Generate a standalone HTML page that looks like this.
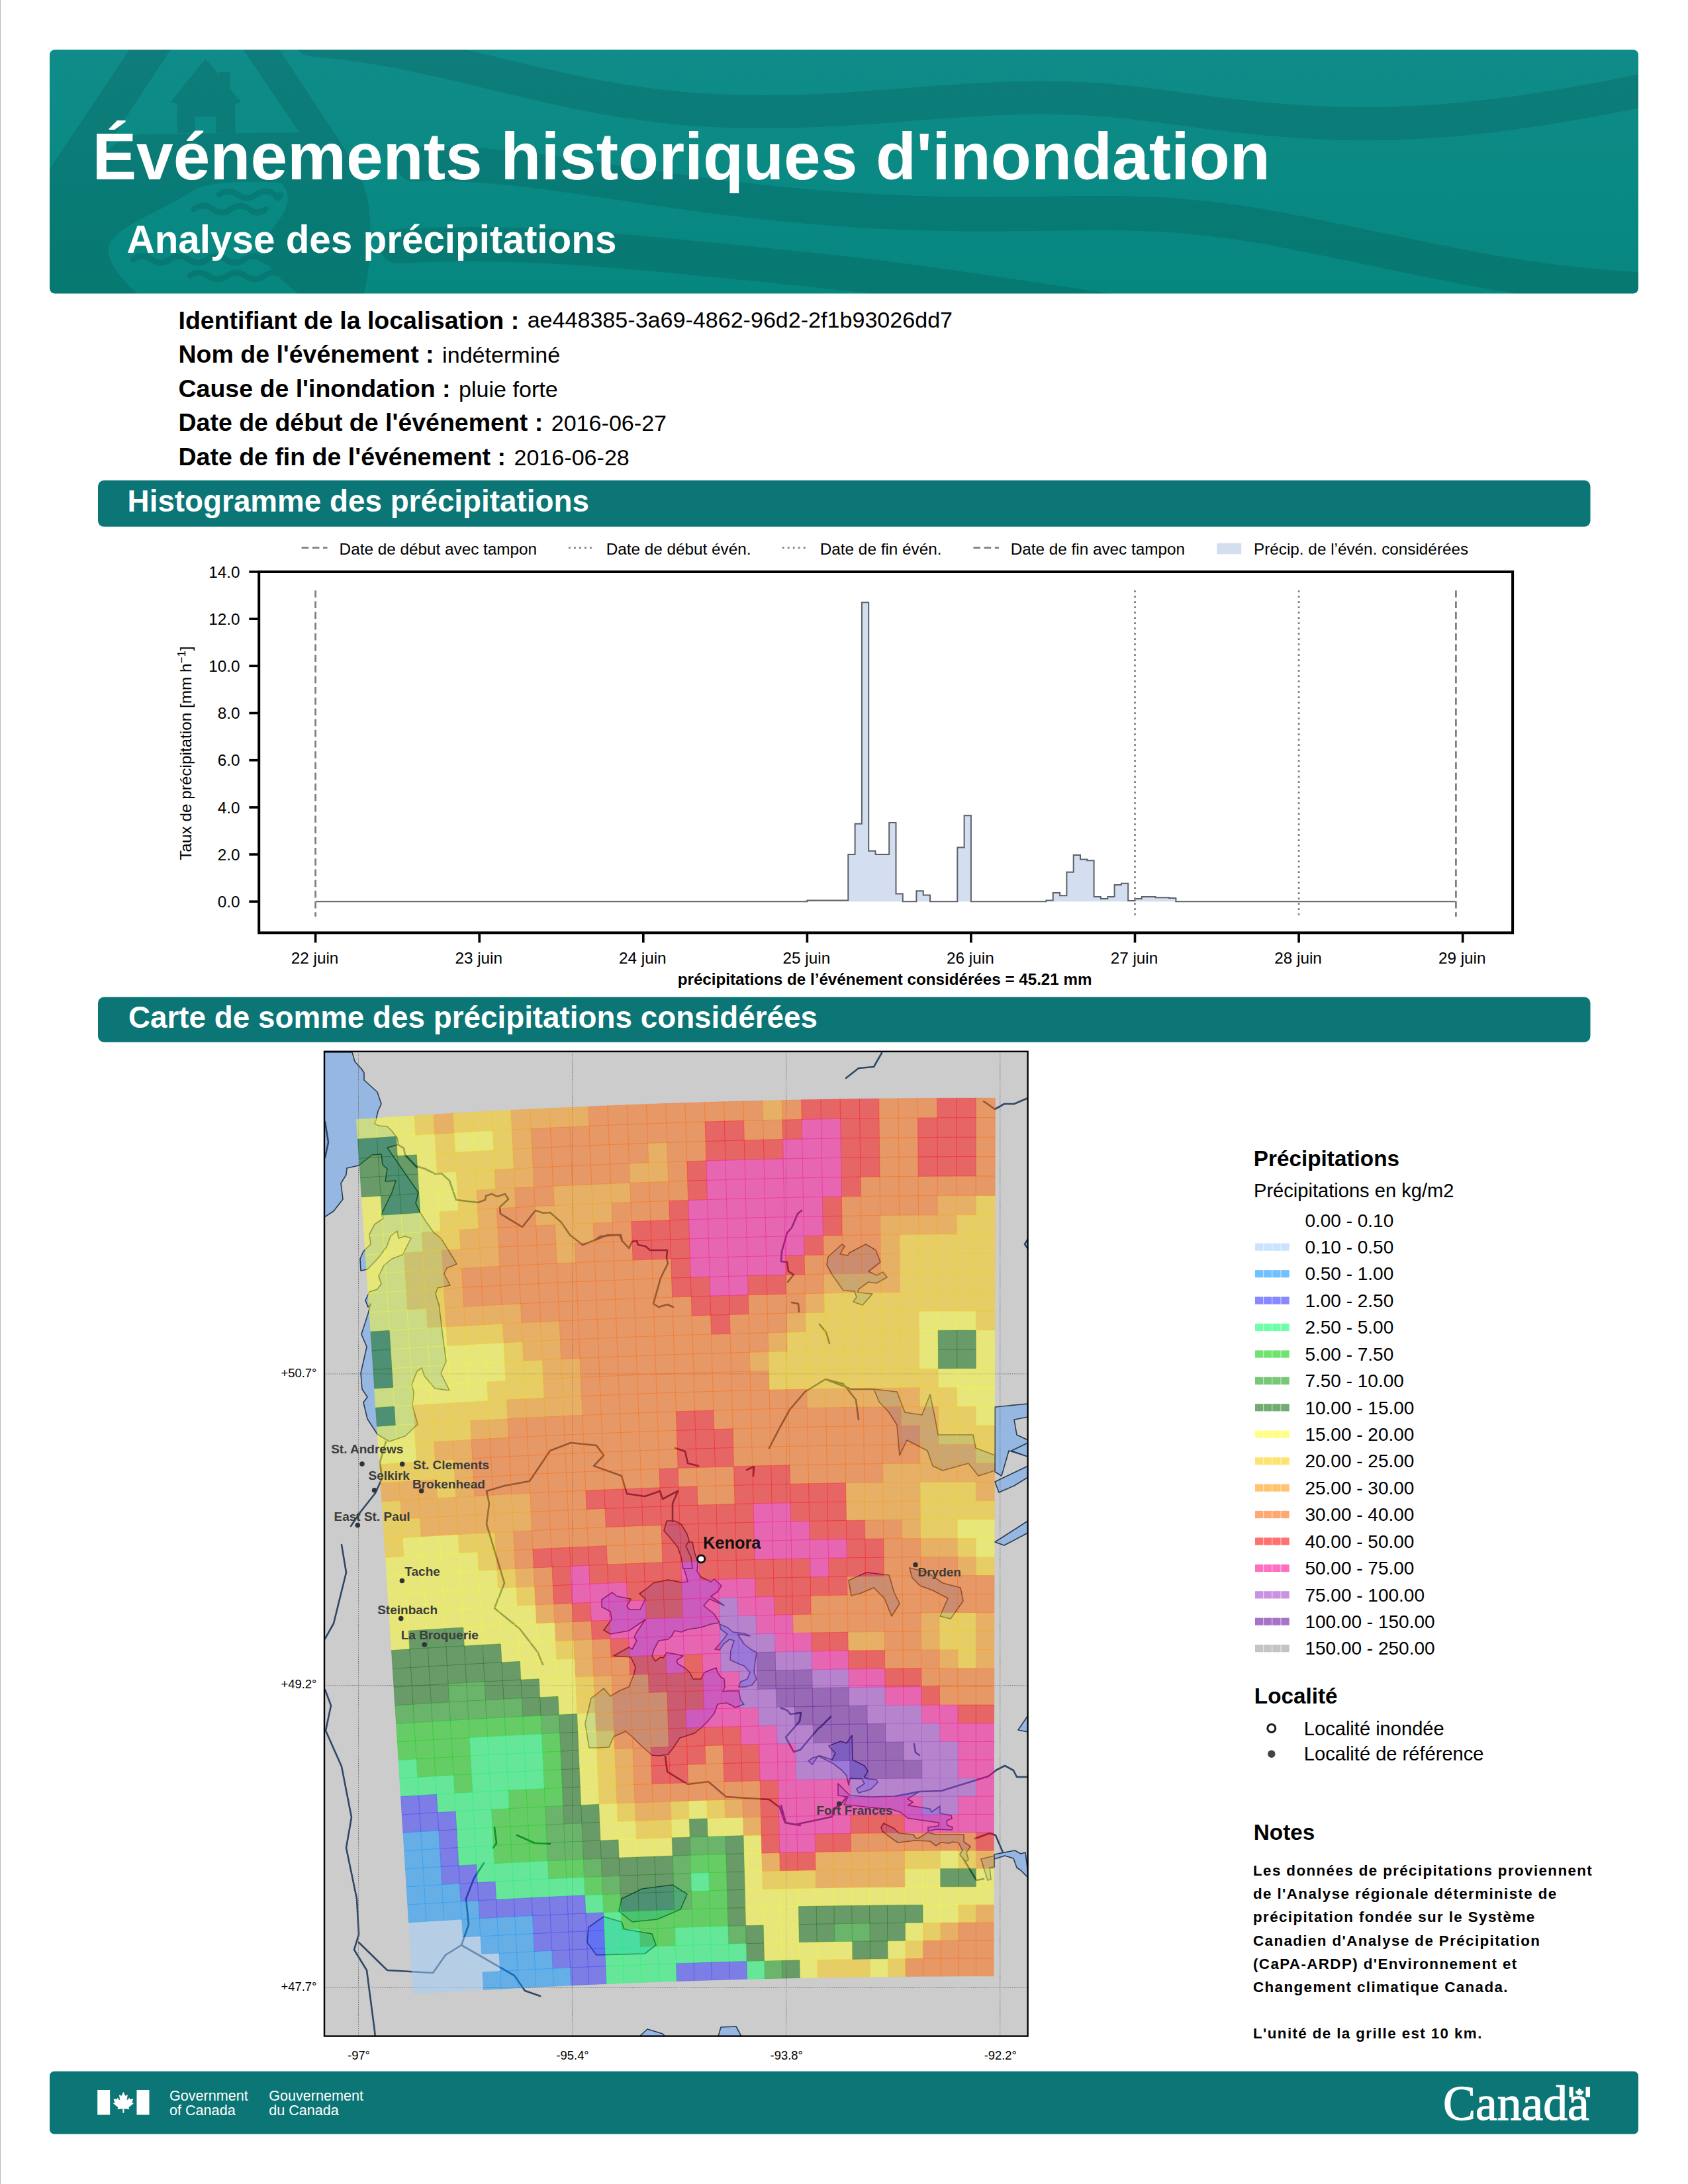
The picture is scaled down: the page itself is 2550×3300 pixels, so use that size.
<!DOCTYPE html>
<html lang="fr"><head><meta charset="utf-8"><title>Événements historiques d'inondation</title>
<style>
html,body{margin:0;padding:0;background:#fff}
body{width:2550px;height:3300px;overflow:hidden;position:relative}
svg{position:absolute;left:0;top:0;font-family:"Liberation Sans", sans-serif;fill:#000}
svg text{white-space:pre}
.notes{letter-spacing:1.38px}
</style></head><body>
<svg width="2550" height="3300" viewBox="0 0 2550 3300">
<rect x="0" y="0" width="2550" height="3300" fill="#fff"/>
<rect x="0" y="0" width="1.1" height="3300" fill="#bdbdbd"/>
<defs>
<linearGradient id="bg" x1="0" y1="0" x2="0" y2="1"><stop offset="0" stop-color="#108c8a"/><stop offset="1" stop-color="#07887f"/></linearGradient>
<clipPath id="bclip"><rect x="75" y="75" width="2400" height="368.5" rx="8"/></clipPath>
</defs>
<rect x="75" y="75" width="2400" height="368.5" rx="8" fill="url(#bg)"/>
<g clip-path="url(#bclip)"><g opacity="0.105" fill="#000" stroke="none">
<path fill-rule="evenodd" d="M199,70 L72,259.6 L72,450 L548,450 C562,400 562,340 556,305 C550,270 530,238 505.4,201.5 L419,70 Z M261,70 L140,254 Q165,212 211,203 L452,200 L364,70 Z M297,285 C330,272 390,274 424,276 C440,290 436,310 425,327 C410,350 392,365 396,380 C400,400 425,425 458,450 L214,450 C180,420 162,395 164,375 C168,350 215,330 246,314 C270,302 285,292 297,285 Z"/>
<path fill-rule="evenodd" d="M310.5,88.6 L331,113 L331,109 L347.6,109 L347.6,134 L364,154 L355.4,157 L355.4,201 L267.5,201 L267.5,157 L257.7,154 Z M294.8,176.5 L326.1,176.5 L326.1,201 L294.8,201 Z"/>
<path d="M331,294 Q345.0,284.0 359.0,294 Q373.0,304.0 387.0,294 Q401.0,284.0 415.0,294 Q419.5,304.0 424.0,294" fill="none" stroke="#000" stroke-width="9" stroke-linecap="round"/>
<path d="M293,316 Q307.0,306.0 321.0,316 Q335.0,326.0 349.0,316 Q363.0,306.0 377.0,316 Q389.0,326.0 401.0,316" fill="none" stroke="#000" stroke-width="9" stroke-linecap="round"/>
<path d="M201,392 Q215.0,382.0 229.0,392 Q243.0,402.0 257.0,392 Q271.0,382.0 285.0,392 Q299.0,402.0 313.0,392 Q327.0,382.0 341.0,392 Q355.0,402.0 369.0,392 Q383.0,382.0 397.0,392 Q411.0,402.0 425.0,392 Q439.0,382.0 453.0,392 Q454.0,402.0 455.0,392" fill="none" stroke="#000" stroke-width="9" stroke-linecap="round"/>
<path d="M287,417 Q301.0,407.0 315.0,417 Q329.0,427.0 343.0,417 Q357.0,407.0 371.0,417 Q385.0,427.0 399.0,417 Q413.0,407.0 427.0,417 Q441.0,427.0 455.0,417 Q460.5,407.0 466.0,417" fill="none" stroke="#000" stroke-width="9" stroke-linecap="round"/>
<path d="M470,60 C700,80 850,160 1100,168 S1500,125 1750,160 S2150,205 2490,135" fill="none" stroke="#000" stroke-width="50" stroke-linecap="round"/>
<path d="M625,248 C800,240 1000,300 1300,318 S1700,300 1950,350 S2300,430 2520,440" fill="none" stroke="#000" stroke-width="52" stroke-linecap="round"/>
<path d="M600,372 C800,360 1000,385 1200,405 S1500,445 1750,480" fill="none" stroke="#000" stroke-width="52" stroke-linecap="round"/>
</g></g>
<text x="139.4" y="270.6" font-size="100" font-weight="bold" fill="#fff">Événements historiques d'inondation</text>
<text x="191.5" y="381.7" font-size="58.4" font-weight="bold" fill="#fff">Analyse des précipitations</text>
<text x="269.5" y="496.5" font-size="37.5" font-weight="bold">Identifiant de la localisation :<tspan dx="12.5" dy="-2" font-size="34.1" font-weight="normal">ae448385-3a69-4862-96d2-2f1b93026dd7</tspan></text>
<text x="269.5" y="548.1" font-size="37.5" font-weight="bold">Nom de l'événement :<tspan dx="12.5" dy="0" font-size="34.1" font-weight="normal">indéterminé</tspan></text>
<text x="269.5" y="599.7" font-size="37.5" font-weight="bold">Cause de l'inondation :<tspan dx="12.5" dy="0" font-size="34.1" font-weight="normal">pluie forte</tspan></text>
<text x="269.5" y="651.3" font-size="37.5" font-weight="bold">Date de début de l'événement :<tspan dx="12.5" dy="0" font-size="34.1" font-weight="normal">2016-06-27</tspan></text>
<text x="269.5" y="702.9" font-size="37.5" font-weight="bold">Date de fin de l'événement :<tspan dx="12.5" dy="0" font-size="34.1" font-weight="normal">2016-06-28</tspan></text>
<rect x="148" y="725.8" width="2254.5" height="70" rx="9" fill="#0c7575"/>
<text x="192.6" y="773" font-size="45.8" font-weight="bold" fill="#fff">Histogramme des précipitations</text>
<rect x="148" y="1506.5" width="2254.5" height="68.2" rx="9" fill="#0c7575"/>
<text x="194" y="1553" font-size="45.8" font-weight="bold" fill="#fff">Carte de somme des précipitations considérées</text>
<path d="M476.6,1362.2 L486.9,1362.2 L486.9,1362.2 L497.2,1362.2 L497.2,1362.2 L507.5,1362.2 L507.5,1362.2 L517.9,1362.2 L517.9,1362.2 L528.2,1362.2 L528.2,1362.2 L538.5,1362.2 L538.5,1362.2 L548.8,1362.2 L548.8,1362.2 L559.1,1362.2 L559.1,1362.2 L569.4,1362.2 L569.4,1362.2 L579.8,1362.2 L579.8,1362.2 L590.1,1362.2 L590.1,1362.2 L600.4,1362.2 L600.4,1362.2 L610.7,1362.2 L610.7,1362.2 L621.0,1362.2 L621.0,1362.2 L631.3,1362.2 L631.3,1362.2 L641.7,1362.2 L641.7,1362.2 L652.0,1362.2 L652.0,1362.2 L662.3,1362.2 L662.3,1362.2 L672.6,1362.2 L672.6,1362.2 L682.9,1362.2 L682.9,1362.2 L693.2,1362.2 L693.2,1362.2 L703.6,1362.2 L703.6,1362.2 L713.9,1362.2 L713.9,1362.2 L724.2,1362.2 L724.2,1362.2 L734.5,1362.2 L734.5,1362.2 L744.8,1362.2 L744.8,1362.2 L755.1,1362.2 L755.1,1362.2 L765.5,1362.2 L765.5,1362.2 L775.8,1362.2 L775.8,1362.2 L786.1,1362.2 L786.1,1362.2 L796.4,1362.2 L796.4,1362.2 L806.7,1362.2 L806.7,1362.2 L817.0,1362.2 L817.0,1362.2 L827.3,1362.2 L827.3,1362.2 L837.7,1362.2 L837.7,1362.2 L848.0,1362.2 L848.0,1362.2 L858.3,1362.2 L858.3,1362.2 L868.6,1362.2 L868.6,1362.2 L878.9,1362.2 L878.9,1362.2 L889.2,1362.2 L889.2,1362.2 L899.6,1362.2 L899.6,1362.2 L909.9,1362.2 L909.9,1362.2 L920.2,1362.2 L920.2,1362.2 L930.5,1362.2 L930.5,1362.2 L940.8,1362.2 L940.8,1362.2 L951.1,1362.2 L951.1,1362.2 L961.5,1362.2 L961.5,1362.2 L971.8,1362.2 L971.8,1362.2 L982.1,1362.2 L982.1,1362.2 L992.4,1362.2 L992.4,1362.2 L1002.7,1362.2 L1002.7,1362.2 L1013.0,1362.2 L1013.0,1362.2 L1023.4,1362.2 L1023.4,1362.2 L1033.7,1362.2 L1033.7,1362.2 L1044.0,1362.2 L1044.0,1362.2 L1054.3,1362.2 L1054.3,1362.2 L1064.6,1362.2 L1064.6,1362.2 L1074.9,1362.2 L1074.9,1362.2 L1085.2,1362.2 L1085.2,1362.2 L1095.6,1362.2 L1095.6,1362.2 L1105.9,1362.2 L1105.9,1362.2 L1116.2,1362.2 L1116.2,1362.2 L1126.5,1362.2 L1126.5,1362.2 L1136.8,1362.2 L1136.8,1362.2 L1147.1,1362.2 L1147.1,1362.2 L1157.5,1362.2 L1157.5,1362.2 L1167.8,1362.2 L1167.8,1362.2 L1178.1,1362.2 L1178.1,1362.2 L1188.4,1362.2 L1188.4,1362.2 L1198.7,1362.2 L1198.7,1362.2 L1209.0,1362.2 L1209.0,1362.2 L1219.4,1362.2 L1219.4,1360.4 L1229.7,1360.4 L1229.7,1360.4 L1240.0,1360.4 L1240.0,1360.4 L1250.3,1360.4 L1250.3,1360.4 L1260.6,1360.4 L1260.6,1360.4 L1270.9,1360.4 L1270.9,1360.4 L1281.3,1360.4 L1281.3,1291.0 L1291.6,1291.0 L1291.6,1244.8 L1301.9,1244.8 L1301.9,910.3 L1312.2,910.3 L1312.2,1285.7 L1322.5,1285.7 L1322.5,1291.0 L1332.8,1291.0 L1332.8,1291.0 L1343.2,1291.0 L1343.2,1243.0 L1353.5,1243.0 L1353.5,1350.5 L1363.8,1350.5 L1363.8,1362.2 L1374.1,1362.2 L1374.1,1362.2 L1384.4,1362.2 L1384.4,1346.2 L1394.7,1346.2 L1394.7,1352.6 L1405.0,1352.6 L1405.0,1362.2 L1415.4,1362.2 L1415.4,1362.2 L1425.7,1362.2 L1425.7,1362.2 L1436.0,1362.2 L1436.0,1362.2 L1446.3,1362.2 L1446.3,1280.4 L1456.6,1280.4 L1456.6,1232.3 L1466.9,1232.3 L1466.9,1362.2 L1477.3,1362.2 L1477.3,1362.2 L1487.6,1362.2 L1487.6,1362.2 L1497.9,1362.2 L1497.9,1362.2 L1508.2,1362.2 L1508.2,1362.2 L1518.5,1362.2 L1518.5,1362.2 L1528.8,1362.2 L1528.8,1362.2 L1539.2,1362.2 L1539.2,1362.2 L1549.5,1362.2 L1549.5,1362.2 L1559.8,1362.2 L1559.8,1362.2 L1570.1,1362.2 L1570.1,1362.2 L1580.4,1362.2 L1580.4,1360.4 L1590.7,1360.4 L1590.7,1349.0 L1601.1,1349.0 L1601.1,1353.3 L1611.4,1353.3 L1611.4,1317.7 L1621.7,1317.7 L1621.7,1292.1 L1632.0,1292.1 L1632.0,1298.5 L1642.3,1298.5 L1642.3,1300.3 L1652.6,1300.3 L1652.6,1355.1 L1662.9,1355.1 L1662.9,1357.9 L1673.3,1357.9 L1673.3,1355.1 L1683.6,1355.1 L1683.6,1336.9 L1693.9,1336.9 L1693.9,1334.8 L1704.2,1334.8 L1704.2,1361.1 L1714.5,1361.1 L1714.5,1357.9 L1724.8,1357.9 L1724.8,1355.1 L1735.2,1355.1 L1735.2,1355.1 L1745.5,1355.1 L1745.5,1356.2 L1755.8,1356.2 L1755.8,1356.2 L1766.1,1356.2 L1766.1,1356.9 L1776.4,1356.9 L1776.4,1362.2 L1786.7,1362.2 L1786.7,1362.2 L1797.1,1362.2 L1797.1,1362.2 L1807.4,1362.2 L1807.4,1362.2 L1817.7,1362.2 L1817.7,1362.2 L1828.0,1362.2 L1828.0,1362.2 L1838.3,1362.2 L1838.3,1362.2 L1848.6,1362.2 L1848.6,1362.2 L1859.0,1362.2 L1859.0,1362.2 L1869.3,1362.2 L1869.3,1362.2 L1879.6,1362.2 L1879.6,1362.2 L1889.9,1362.2 L1889.9,1362.2 L1900.2,1362.2 L1900.2,1362.2 L1910.5,1362.2 L1910.5,1362.2 L1920.8,1362.2 L1920.8,1362.2 L1931.2,1362.2 L1931.2,1362.2 L1941.5,1362.2 L1941.5,1362.2 L1951.8,1362.2 L1951.8,1362.2 L1962.1,1362.2 L1962.1,1362.2 L1972.4,1362.2 L1972.4,1362.2 L1982.7,1362.2 L1982.7,1362.2 L1993.1,1362.2 L1993.1,1362.2 L2003.4,1362.2 L2003.4,1362.2 L2013.7,1362.2 L2013.7,1362.2 L2024.0,1362.2 L2024.0,1362.2 L2034.3,1362.2 L2034.3,1362.2 L2044.6,1362.2 L2044.6,1362.2 L2055.0,1362.2 L2055.0,1362.2 L2065.3,1362.2 L2065.3,1362.2 L2075.6,1362.2 L2075.6,1362.2 L2085.9,1362.2 L2085.9,1362.2 L2096.2,1362.2 L2096.2,1362.2 L2106.5,1362.2 L2106.5,1362.2 L2116.9,1362.2 L2116.9,1362.2 L2127.2,1362.2 L2127.2,1362.2 L2137.5,1362.2 L2137.5,1362.2 L2147.8,1362.2 L2147.8,1362.2 L2158.1,1362.2 L2158.1,1362.2 L2168.4,1362.2 L2168.4,1362.2 L2178.8,1362.2 L2178.8,1362.2 L2189.1,1362.2 L2189.1,1362.2 L2199.4,1362.2 L2199.4,1362.2 L476.6,1362.2 Z" fill="#d3dff1" stroke="none"/>
<path d="M476.6,1362.2 L486.9,1362.2 L486.9,1362.2 L497.2,1362.2 L497.2,1362.2 L507.5,1362.2 L507.5,1362.2 L517.9,1362.2 L517.9,1362.2 L528.2,1362.2 L528.2,1362.2 L538.5,1362.2 L538.5,1362.2 L548.8,1362.2 L548.8,1362.2 L559.1,1362.2 L559.1,1362.2 L569.4,1362.2 L569.4,1362.2 L579.8,1362.2 L579.8,1362.2 L590.1,1362.2 L590.1,1362.2 L600.4,1362.2 L600.4,1362.2 L610.7,1362.2 L610.7,1362.2 L621.0,1362.2 L621.0,1362.2 L631.3,1362.2 L631.3,1362.2 L641.7,1362.2 L641.7,1362.2 L652.0,1362.2 L652.0,1362.2 L662.3,1362.2 L662.3,1362.2 L672.6,1362.2 L672.6,1362.2 L682.9,1362.2 L682.9,1362.2 L693.2,1362.2 L693.2,1362.2 L703.6,1362.2 L703.6,1362.2 L713.9,1362.2 L713.9,1362.2 L724.2,1362.2 L724.2,1362.2 L734.5,1362.2 L734.5,1362.2 L744.8,1362.2 L744.8,1362.2 L755.1,1362.2 L755.1,1362.2 L765.5,1362.2 L765.5,1362.2 L775.8,1362.2 L775.8,1362.2 L786.1,1362.2 L786.1,1362.2 L796.4,1362.2 L796.4,1362.2 L806.7,1362.2 L806.7,1362.2 L817.0,1362.2 L817.0,1362.2 L827.3,1362.2 L827.3,1362.2 L837.7,1362.2 L837.7,1362.2 L848.0,1362.2 L848.0,1362.2 L858.3,1362.2 L858.3,1362.2 L868.6,1362.2 L868.6,1362.2 L878.9,1362.2 L878.9,1362.2 L889.2,1362.2 L889.2,1362.2 L899.6,1362.2 L899.6,1362.2 L909.9,1362.2 L909.9,1362.2 L920.2,1362.2 L920.2,1362.2 L930.5,1362.2 L930.5,1362.2 L940.8,1362.2 L940.8,1362.2 L951.1,1362.2 L951.1,1362.2 L961.5,1362.2 L961.5,1362.2 L971.8,1362.2 L971.8,1362.2 L982.1,1362.2 L982.1,1362.2 L992.4,1362.2 L992.4,1362.2 L1002.7,1362.2 L1002.7,1362.2 L1013.0,1362.2 L1013.0,1362.2 L1023.4,1362.2 L1023.4,1362.2 L1033.7,1362.2 L1033.7,1362.2 L1044.0,1362.2 L1044.0,1362.2 L1054.3,1362.2 L1054.3,1362.2 L1064.6,1362.2 L1064.6,1362.2 L1074.9,1362.2 L1074.9,1362.2 L1085.2,1362.2 L1085.2,1362.2 L1095.6,1362.2 L1095.6,1362.2 L1105.9,1362.2 L1105.9,1362.2 L1116.2,1362.2 L1116.2,1362.2 L1126.5,1362.2 L1126.5,1362.2 L1136.8,1362.2 L1136.8,1362.2 L1147.1,1362.2 L1147.1,1362.2 L1157.5,1362.2 L1157.5,1362.2 L1167.8,1362.2 L1167.8,1362.2 L1178.1,1362.2 L1178.1,1362.2 L1188.4,1362.2 L1188.4,1362.2 L1198.7,1362.2 L1198.7,1362.2 L1209.0,1362.2 L1209.0,1362.2 L1219.4,1362.2 L1219.4,1360.4 L1229.7,1360.4 L1229.7,1360.4 L1240.0,1360.4 L1240.0,1360.4 L1250.3,1360.4 L1250.3,1360.4 L1260.6,1360.4 L1260.6,1360.4 L1270.9,1360.4 L1270.9,1360.4 L1281.3,1360.4 L1281.3,1291.0 L1291.6,1291.0 L1291.6,1244.8 L1301.9,1244.8 L1301.9,910.3 L1312.2,910.3 L1312.2,1285.7 L1322.5,1285.7 L1322.5,1291.0 L1332.8,1291.0 L1332.8,1291.0 L1343.2,1291.0 L1343.2,1243.0 L1353.5,1243.0 L1353.5,1350.5 L1363.8,1350.5 L1363.8,1362.2 L1374.1,1362.2 L1374.1,1362.2 L1384.4,1362.2 L1384.4,1346.2 L1394.7,1346.2 L1394.7,1352.6 L1405.0,1352.6 L1405.0,1362.2 L1415.4,1362.2 L1415.4,1362.2 L1425.7,1362.2 L1425.7,1362.2 L1436.0,1362.2 L1436.0,1362.2 L1446.3,1362.2 L1446.3,1280.4 L1456.6,1280.4 L1456.6,1232.3 L1466.9,1232.3 L1466.9,1362.2 L1477.3,1362.2 L1477.3,1362.2 L1487.6,1362.2 L1487.6,1362.2 L1497.9,1362.2 L1497.9,1362.2 L1508.2,1362.2 L1508.2,1362.2 L1518.5,1362.2 L1518.5,1362.2 L1528.8,1362.2 L1528.8,1362.2 L1539.2,1362.2 L1539.2,1362.2 L1549.5,1362.2 L1549.5,1362.2 L1559.8,1362.2 L1559.8,1362.2 L1570.1,1362.2 L1570.1,1362.2 L1580.4,1362.2 L1580.4,1360.4 L1590.7,1360.4 L1590.7,1349.0 L1601.1,1349.0 L1601.1,1353.3 L1611.4,1353.3 L1611.4,1317.7 L1621.7,1317.7 L1621.7,1292.1 L1632.0,1292.1 L1632.0,1298.5 L1642.3,1298.5 L1642.3,1300.3 L1652.6,1300.3 L1652.6,1355.1 L1662.9,1355.1 L1662.9,1357.9 L1673.3,1357.9 L1673.3,1355.1 L1683.6,1355.1 L1683.6,1336.9 L1693.9,1336.9 L1693.9,1334.8 L1704.2,1334.8 L1704.2,1361.1 L1714.5,1361.1 L1714.5,1357.9 L1724.8,1357.9 L1724.8,1355.1 L1735.2,1355.1 L1735.2,1355.1 L1745.5,1355.1 L1745.5,1356.2 L1755.8,1356.2 L1755.8,1356.2 L1766.1,1356.2 L1766.1,1356.9 L1776.4,1356.9 L1776.4,1362.2 L1786.7,1362.2 L1786.7,1362.2 L1797.1,1362.2 L1797.1,1362.2 L1807.4,1362.2 L1807.4,1362.2 L1817.7,1362.2 L1817.7,1362.2 L1828.0,1362.2 L1828.0,1362.2 L1838.3,1362.2 L1838.3,1362.2 L1848.6,1362.2 L1848.6,1362.2 L1859.0,1362.2 L1859.0,1362.2 L1869.3,1362.2 L1869.3,1362.2 L1879.6,1362.2 L1879.6,1362.2 L1889.9,1362.2 L1889.9,1362.2 L1900.2,1362.2 L1900.2,1362.2 L1910.5,1362.2 L1910.5,1362.2 L1920.8,1362.2 L1920.8,1362.2 L1931.2,1362.2 L1931.2,1362.2 L1941.5,1362.2 L1941.5,1362.2 L1951.8,1362.2 L1951.8,1362.2 L1962.1,1362.2 L1962.1,1362.2 L1972.4,1362.2 L1972.4,1362.2 L1982.7,1362.2 L1982.7,1362.2 L1993.1,1362.2 L1993.1,1362.2 L2003.4,1362.2 L2003.4,1362.2 L2013.7,1362.2 L2013.7,1362.2 L2024.0,1362.2 L2024.0,1362.2 L2034.3,1362.2 L2034.3,1362.2 L2044.6,1362.2 L2044.6,1362.2 L2055.0,1362.2 L2055.0,1362.2 L2065.3,1362.2 L2065.3,1362.2 L2075.6,1362.2 L2075.6,1362.2 L2085.9,1362.2 L2085.9,1362.2 L2096.2,1362.2 L2096.2,1362.2 L2106.5,1362.2 L2106.5,1362.2 L2116.9,1362.2 L2116.9,1362.2 L2127.2,1362.2 L2127.2,1362.2 L2137.5,1362.2 L2137.5,1362.2 L2147.8,1362.2 L2147.8,1362.2 L2158.1,1362.2 L2158.1,1362.2 L2168.4,1362.2 L2168.4,1362.2 L2178.8,1362.2 L2178.8,1362.2 L2189.1,1362.2 L2189.1,1362.2 L2199.4,1362.2" fill="none" stroke="#5d6167" stroke-width="2" stroke-linejoin="miter"/>
<line x1="476.6" y1="892.2" x2="476.6" y2="1385.1" stroke="#808080" stroke-width="2.8" stroke-dasharray="10.6 5.6"/>
<line x1="1714.5" y1="892.2" x2="1714.5" y2="1385.1" stroke="#808080" stroke-width="2.8" stroke-dasharray="2.8 5.2"/>
<line x1="1962.1" y1="892.2" x2="1962.1" y2="1385.1" stroke="#808080" stroke-width="2.8" stroke-dasharray="2.8 5.2"/>
<line x1="2199.4" y1="892.2" x2="2199.4" y2="1385.1" stroke="#808080" stroke-width="2.8" stroke-dasharray="10.6 5.6"/>
<rect x="391.2" y="864" width="1893.9" height="545.4" fill="none" stroke="#000" stroke-width="4"/>
<line x1="376.3" y1="1362.2" x2="391.2" y2="1362.2" stroke="#000" stroke-width="3.6"/>
<text x="362.5" y="1370.9" text-anchor="end" font-size="24.3">0.0</text>
<line x1="376.3" y1="1291.0" x2="391.2" y2="1291.0" stroke="#000" stroke-width="3.6"/>
<text x="362.5" y="1299.7" text-anchor="end" font-size="24.3">2.0</text>
<line x1="376.3" y1="1219.9" x2="391.2" y2="1219.9" stroke="#000" stroke-width="3.6"/>
<text x="362.5" y="1228.6" text-anchor="end" font-size="24.3">4.0</text>
<line x1="376.3" y1="1148.7" x2="391.2" y2="1148.7" stroke="#000" stroke-width="3.6"/>
<text x="362.5" y="1157.4" text-anchor="end" font-size="24.3">6.0</text>
<line x1="376.3" y1="1077.5" x2="391.2" y2="1077.5" stroke="#000" stroke-width="3.6"/>
<text x="362.5" y="1086.2" text-anchor="end" font-size="24.3">8.0</text>
<line x1="376.3" y1="1006.3" x2="391.2" y2="1006.3" stroke="#000" stroke-width="3.6"/>
<text x="362.5" y="1015.0" text-anchor="end" font-size="24.3">10.0</text>
<line x1="376.3" y1="935.2" x2="391.2" y2="935.2" stroke="#000" stroke-width="3.6"/>
<text x="362.5" y="943.9" text-anchor="end" font-size="24.3">12.0</text>
<line x1="376.3" y1="864.0" x2="391.2" y2="864.0" stroke="#000" stroke-width="3.6"/>
<text x="362.5" y="872.7" text-anchor="end" font-size="24.3">14.0</text>
<line x1="476.6" y1="1409.4" x2="476.6" y2="1424.4" stroke="#000" stroke-width="3.6"/>
<text x="475.6" y="1455.8" text-anchor="middle" font-size="24.3">22 juin</text>
<line x1="724.2" y1="1409.4" x2="724.2" y2="1424.4" stroke="#000" stroke-width="3.6"/>
<text x="723.2" y="1455.8" text-anchor="middle" font-size="24.3">23 juin</text>
<line x1="971.8" y1="1409.4" x2="971.8" y2="1424.4" stroke="#000" stroke-width="3.6"/>
<text x="970.8" y="1455.8" text-anchor="middle" font-size="24.3">24 juin</text>
<line x1="1219.4" y1="1409.4" x2="1219.4" y2="1424.4" stroke="#000" stroke-width="3.6"/>
<text x="1218.4" y="1455.8" text-anchor="middle" font-size="24.3">25 juin</text>
<line x1="1466.9" y1="1409.4" x2="1466.9" y2="1424.4" stroke="#000" stroke-width="3.6"/>
<text x="1465.9" y="1455.8" text-anchor="middle" font-size="24.3">26 juin</text>
<line x1="1714.5" y1="1409.4" x2="1714.5" y2="1424.4" stroke="#000" stroke-width="3.6"/>
<text x="1713.5" y="1455.8" text-anchor="middle" font-size="24.3">27 juin</text>
<line x1="1962.1" y1="1409.4" x2="1962.1" y2="1424.4" stroke="#000" stroke-width="3.6"/>
<text x="1961.1" y="1455.8" text-anchor="middle" font-size="24.3">28 juin</text>
<line x1="2209.7" y1="1409.4" x2="2209.7" y2="1424.4" stroke="#000" stroke-width="3.6"/>
<text x="2208.7" y="1455.8" text-anchor="middle" font-size="24.3">29 juin</text>
<text x="1336.6" y="1487.6" text-anchor="middle" font-size="24.2" font-weight="bold">précipitations de l’événement considérées = 45.21 mm</text>
<text transform="translate(288.5,1138) rotate(-90)" text-anchor="middle" font-size="24.3">Taux de précipitation [mm h<tspan dy="-9" font-size="17">−1</tspan><tspan dy="9">]</tspan></text>
<line x1="455.6" y1="827.7" x2="494.5" y2="827.7" stroke="#808080" stroke-width="2.8" stroke-dasharray="10.6 5.6"/>
<text x="512.6" y="837.9" font-size="24.3">Date de début avec tampon</text>
<line x1="859" y1="827.7" x2="897" y2="827.7" stroke="#808080" stroke-width="2.8" stroke-dasharray="2.8 5.2"/>
<text x="915.7" y="837.9" font-size="24.3">Date de début évén.</text>
<line x1="1181.8" y1="827.7" x2="1220" y2="827.7" stroke="#808080" stroke-width="2.8" stroke-dasharray="2.8 5.2"/>
<text x="1238.8" y="837.9" font-size="24.3">Date de fin évén.</text>
<line x1="1470.4" y1="827.7" x2="1509" y2="827.7" stroke="#808080" stroke-width="2.8" stroke-dasharray="10.6 5.6"/>
<text x="1526.7" y="837.9" font-size="24.3">Date de fin avec tampon</text>
<rect x="1838.3" y="820.7" width="37" height="16.6" fill="#d3dff1"/>
<text x="1894" y="837.9" font-size="24.3">Précip. de l’évén. considérées</text>
<defs><clipPath id="mclip"><rect x="490" y="1588.8" width="1062.6" height="1487.8"/></clipPath></defs>
<rect x="490" y="1588.8" width="1062.6" height="1487.8" fill="#cccccc"/>
<g clip-path="url(#mclip)">
<g fill="#96b7e2" stroke="#2a3c50" stroke-width="1.6" stroke-linejoin="round">
<path d="M490,1590 L532,1590 L536,1604 L546,1615 L550,1621 L550,1632 L570,1650 L576,1668 L571,1679 L568,1692 L566,1698 L572,1701 L585,1702 L592,1709 L600,1719 L602,1730 L600,1730 L585,1734 L632,1802 L628,1818 L634,1831 L645,1848 L655,1862 L666,1871 L678,1890 L690,1910 L675,1916 L671,1925 L680,1942 L661,1946 L658,1955 L664,1975 L663,1970 L669,2020 L674,2057 L666,2075 L679,2101 L657,2098 L641,2079 L637,2067 L630,2072 L622,2092 L625,2104 L623,2124 L631,2152 L612,2170 L588,2178 L570,2167 L555,2144 L549,2119 L555,2111 L547,2099 L545,2075 L554,2035 L546,2016 L556,1985 L560,1970 L556,1975 L552,1965 L558,1952 L570,1948 L576,1940 L572,1928 L580,1912 L592,1902 L608,1896 L621,1871 L612,1868 L602,1871 L600,1860 L590,1868 L584,1884 L572,1900 L555,1918 L545,1920 L544,1902 L549,1891 L560,1880 L558,1865 L566,1850 L579,1841 L576,1835 L592,1802 L598,1784 L582,1785 L585,1766 L578,1760 L576,1744 L562,1745 L542,1761 L524,1765 L523,1775 L515,1788 L518,1812 L504,1830 L490,1839Z"/>
<path d="M1251,1899 L1272,1880 L1276,1883 L1269,1895 L1281,1897 L1283,1893 L1308,1880 L1323,1889 L1330,1907 L1312,1921 L1324,1927 L1334,1922 L1340,1930 L1324,1939 L1312,1937 L1297,1948 L1296,1953 L1318,1955 L1303,1972 L1289,1967 L1294,1960 L1291,1951 L1274,1950 L1257,1926 L1249,1911Z"/>
<path d="M1252,2638 L1270,2631 L1279,2634 L1287,2622 L1288,2659 L1306,2668 L1311,2676 L1306,2685 L1311,2688 L1324,2689 L1326,2693 L1315,2704 L1297,2709 L1294,2703 L1306,2695 L1302,2688 L1284,2687 L1282,2697 L1279,2683 L1272,2675 L1259,2665 L1236,2653 L1227,2666 L1221,2661 L1228,2656 L1239,2653 L1257,2659 L1262,2649 L1257,2644Z"/>
<path d="M1266,2695 L1275,2704 L1284,2713 L1315,2715 L1351,2714 L1371,2711 L1389,2707 L1371,2718 L1379,2723 L1372,2728 L1392,2731 L1405,2733 L1407,2738 L1420,2729 L1420,2740 L1437,2743 L1438,2748 L1430,2751 L1431,2758 L1439,2761 L1438,2765 L1414,2764 L1402,2767 L1402,2761 L1418,2759 L1418,2754 L1383,2749 L1371,2747 L1360,2738 L1347,2734 L1315,2731 L1288,2728 L1275,2727 L1281,2715 L1266,2713Z"/>
<path d="M1331,2761 L1335,2755 L1351,2763 L1358,2770 L1380,2772 L1383,2777 L1387,2778 L1401,2769 L1414,2772 L1456,2772 L1456,2783 L1466,2790 L1460,2799 L1463,2810 L1458,2813 L1450,2802 L1454,2796 L1448,2784 L1439,2783 L1434,2785 L1421,2784 L1414,2789 L1405,2782 L1383,2781 L1356,2784 L1342,2774 L1333,2767Z"/>
<path d="M1482,2809 L1502,2804 L1502,2821 L1495,2822 L1497,2840 L1492,2841Z"/>
<path d="M1502,2802 L1533,2796 L1542,2801 L1549,2799 L1554,2838 L1542,2826 L1536,2822 L1531,2808 L1518,2804 L1502,2809Z"/>
<path d="M1046,2330 L1049,2345 L1054,2360 L1053,2374 L1059,2383 L1074,2390 L1079,2386 L1090,2396 L1084,2405 L1074,2412 L1094,2426 L1072,2416 L1063,2426 L1079,2439 L1087,2452 L1074,2454 L1059,2459 L1039,2462 L1029,2466 L1019,2464 L1014,2473 L1009,2477 L995,2479 L988,2492 L985,2502 L990,2510 L998,2504 L1002,2505 L1007,2497 L1019,2499 L1032,2502 L1022,2509 L1024,2514 L1034,2520 L1042,2527 L1047,2537 L1059,2537 L1064,2527 L1074,2523 L1082,2520 L1084,2527 L1089,2534 L1094,2537 L1095,2549 L1092,2556 L1099,2555 L1116,2555 L1119,2569 L1124,2575 L1111,2580 L1104,2576 L1097,2573 L1084,2575 L1079,2589 L1069,2601 L1059,2611 L1049,2619 L1027,2626 L1017,2641 L1009,2651 L995,2653 L985,2652 L970,2639 L955,2624 L945,2616 L927,2624 L920,2640 L900,2641 L890,2641 L884,2604 L893,2566 L900,2561 L912,2551 L922,2563 L937,2554 L950,2549 L958,2529 L960,2519 L953,2504 L940,2503 L927,2502 L950,2489 L955,2492 L962,2479 L958,2474 L962,2466 L975,2447 L950,2464 L922,2469 L912,2463 L924,2447 L922,2435 L909,2428 L909,2417 L925,2406 L932,2412 L953,2416 L947,2427 L951,2432 L967,2432 L975,2416 L966,2408 L975,2402 L987,2392 L1009,2387 L1029,2391 L1039,2390 L1036,2379 L1033,2370 L1037,2357 L1029,2340 L1026,2330Z"/>
<path d="M1007,2298 L1019,2298 L1029,2303 L1038,2318 L1041,2328 L1036,2336 L1044,2353 L1046,2370 L1032,2370 L1029,2353 L1024,2338 L1012,2323 L1003,2313Z"/>
<path d="M1087,2454 L1099,2459 L1107,2466 L1124,2468 L1133,2472 L1114,2469 L1124,2484 L1134,2492 L1143,2497 L1141,2509 L1139,2527 L1143,2537 L1136,2546 L1125,2549 L1116,2549 L1119,2541 L1129,2537 L1133,2527 L1124,2517 L1116,2514 L1103,2508 L1104,2494 L1109,2479 L1102,2477 L1093,2484 L1087,2493 L1080,2492 L1089,2482 L1099,2469 L1089,2462Z"/>
</g>
<g fill="#96b7e2" stroke="#2a3c50" stroke-width="1.6" stroke-linejoin="round">
<path d="M1320,2099 L1355,2103 L1367,2134 L1393,2138 L1405,2107 L1413,2145 L1417,2168 L1470,2168 L1474,2188 L1503,2199 L1503,2222 L1478,2230 L1463,2211 L1424,2222 L1409,2215 L1401,2192 L1370,2176 L1359,2199 L1355,2153 L1343,2134 L1328,2118Z"/>
<path d="M1282,2388 L1309,2376 L1343,2380 L1351,2407 L1359,2423 L1347,2442 L1336,2415 L1320,2399 L1301,2407 L1286,2411Z"/>
<path d="M1374,2369 L1401,2376 L1424,2392 L1451,2399 L1455,2419 L1436,2446 L1420,2442 L1432,2415 L1409,2403 L1390,2396 L1378,2384Z"/>
<path d="M939,2869 L970,2854 L1016,2848 L1038,2862 L1028,2885 L993,2900 L955,2904 L935,2888Z"/>
<path d="M889,2912 L912,2896 L939,2904 L943,2915 L985,2922 L991,2939 L974,2952 L901,2954 L887,2935Z"/>
<path d="M1503,2126 L1553,2121 L1553,2141 L1532,2145 L1536,2168 L1553,2176 L1553,2201 L1524,2192 L1513,2230 L1503,2224Z"/>
<path d="M1503,2239 L1553,2215 L1553,2232 L1532,2245 L1509,2255Z"/>
<path d="M1503,2330 L1553,2298 L1553,2316 L1517,2335Z"/>
<path d="M1538,2614 L1553,2592 L1553,2617Z"/>
<path d="M1528,2192 L1553,2180 L1553,2201Z"/>
<path d="M966,3077 L978,3066 L1001,3073 L1005,3077Z"/>
<path d="M1085,3077 L1089,3063 L1112,3062 L1120,3077Z"/>
</g>
<g fill="none" stroke="#2f4866" stroke-width="2.6" stroke-linejoin="round" stroke-linecap="round">
<path d="M1016,2299 L1016,2272 L1024,2253 L1016,2257 L1001,2265 L997,2253 L974,2261 L947,2257 L939,2230 L897,2215 L912,2199 L901,2184 L862,2180 L831,2192 L800,2238 L762,2245 L735,2253 L739,2272 L735,2303 L762,2392 L747,2430 L785,2461 L812,2496 L820,2515"/>
<path d="M1162,2188 L1178,2157 L1193,2130 L1216,2103 L1247,2084 L1274,2091 L1293,2115 L1297,2145"/>
<path d="M1247,2084 L1286,2099 L1320,2099"/>
<path d="M1005,2654 L1008,2677 L1039,2696 L1070,2692 L1097,2715 L1162,2719 L1178,2731 L1186,2754 L1209,2758"/>
<path d="M516,2334 L523,2376 L504,2453 L491,2476"/>
<path d="M491,2553 L500,2577 L492,2615 L516,2669 L531,2746 L523,2792 L539,2869 L542,2923 L535,2946 L554,2977 L566,3069 L567,3081"/>
<path d="M542,2935 L585,2977 L654,2981 L673,2954 L697,2939 L708,2908 L704,2869 L716,2838 L731,2815"/>
<path d="M697,2939 L723,2954 L777,2985 L793,3008 L816,3016"/>
<path d="M747,2761 L750,2785 L745,2792"/>
<path d="M781,2773 L808,2785 L831,2786"/>
<path d="M1278,1629 L1297,1614 L1320,1612 L1332,1591"/>
<path d="M1486,1664 L1503,1676 L1517,1668 L1532,1668 L1553,1659"/>
<path d="M491,1695 L496,1726 L491,1749"/>
<path d="M1553,1872 L1548,1880 L1553,1887"/>
<path d="M1128,2221 L1139,2216 L1138,2230"/>
<path d="M1020,2188 L1035,2193 L1039,2211 L1055,2215"/>
<path d="M602,1730 L610,1735 L612,1745 L630,1764"/>
<path d="M1180,2728 L1187,2754 L1201,2757 L1257,2745 L1259,2733 L1270,2727 L1279,2715"/>
<path d="M1353,2714 L1389,2707 L1422,2706 L1493,2684 L1506,2674 L1518,2668 L1531,2675 L1536,2685 L1554,2685"/>
<path d="M1473,2778 L1495,2770 L1504,2773 L1515,2799"/>
<path d="M1455,2808 L1475,2841 L1486,2839"/>
<path d="M1180,2581 L1189,2584 L1194,2590 L1210,2588 L1208,2601 L1187,2625 L1199,2647 L1209,2644 L1219,2632 L1236,2612 L1241,2608 L1255,2594"/>
<path d="M1381,2635 L1383,2648 L1389,2652"/>
<path d="M629,1762 L642,1766 L658,1774 L667,1773 L679,1784 L689,1813 L722,1817 L733,1813 L734,1807 L743,1804 L751,1808 L763,1804 L768,1812 L755,1824 L756,1834 L789,1854 L809,1829 L821,1833 L831,1832 L848,1847 L861,1866 L880,1881 L918,1866 L938,1866 L940,1876"/>
<path d="M900,1873 L907,1868 L936,1866 L940,1875 L950,1886 L955,1876 L962,1875 L964,1881 L975,1883 L982,1889 L1008,1889 L1007,1901 L1009,1909 L998,1931 L987,1970 L995,1975 L1008,1971 L1017,1975"/>
<path d="M1211,1829 L1205,1834 L1196,1855 L1189,1863 L1181,1891 L1180,1906 L1189,1907 L1191,1921 L1199,1926 L1190,1937"/>
<path d="M1196,1968 L1206,1970 L1207,1982"/>
<path d="M1238,2001 L1248,2013 L1253,2030"/>
<path d="M583,2178 L574,2209 L577,2234 L567,2256 L545,2284 L530,2306"/>
</g>
<line x1="541.5" y1="1588.8" x2="541.5" y2="3076.6" stroke="#6a6a6a" stroke-width="1" stroke-dasharray="1.2 1.6"/>
<line x1="864.6" y1="1588.8" x2="864.6" y2="3076.6" stroke="#6a6a6a" stroke-width="1" stroke-dasharray="1.2 1.6"/>
<line x1="1187.7" y1="1588.8" x2="1187.7" y2="3076.6" stroke="#6a6a6a" stroke-width="1" stroke-dasharray="1.2 1.6"/>
<line x1="1510.8" y1="1588.8" x2="1510.8" y2="3076.6" stroke="#6a6a6a" stroke-width="1" stroke-dasharray="1.2 1.6"/>
<line x1="490" y1="3003.4" x2="1552.6" y2="3003.4" stroke="#6a6a6a" stroke-width="1" stroke-dasharray="1.2 1.6"/>
<line x1="490" y1="2546.7" x2="1552.6" y2="2546.7" stroke="#6a6a6a" stroke-width="1" stroke-dasharray="1.2 1.6"/>
<line x1="490" y1="2075.9" x2="1552.6" y2="2075.9" stroke="#6a6a6a" stroke-width="1" stroke-dasharray="1.2 1.6"/>
<path d="M538.3,1691.5L567.5,1689.6L569.4,1719.0L540.3,1721.0ZM567.5,1689.6L596.6,1687.6L598.5,1717.1L569.4,1719.0ZM596.6,1687.6L625.8,1685.8L627.6,1715.3L598.5,1717.1ZM598.5,1717.1L627.6,1715.3L629.4,1744.7L600.4,1746.5ZM627.6,1715.3L656.7,1713.5L658.5,1742.9L629.4,1744.7ZM685.9,1711.8L715.0,1710.1L716.6,1739.5L687.5,1741.2ZM715.0,1710.1L744.1,1708.5L745.7,1737.9L716.6,1739.5ZM629.4,1744.7L658.5,1742.9L660.2,1772.2L631.2,1774.0ZM631.2,1774.0L660.2,1772.2L661.9,1801.5L633.0,1803.3ZM660.2,1772.2L689.2,1770.5L690.9,1799.8L661.9,1801.5ZM546.2,1809.0L575.2,1807.0L577.1,1836.2L548.2,1838.2ZM633.0,1803.3L661.9,1801.5L663.7,1830.8L634.8,1832.5ZM661.9,1801.5L690.9,1799.8L692.6,1829.1L663.7,1830.8ZM548.2,1838.2L577.1,1836.2L579.0,1865.4L550.2,1867.3ZM577.1,1836.2L605.9,1834.4L607.8,1863.5L579.0,1865.4ZM605.9,1834.4L634.8,1832.5L636.6,1861.7L607.8,1863.5ZM634.8,1832.5L663.7,1830.8L665.4,1860.0L636.6,1861.7ZM550.2,1867.3L579.0,1865.4L580.9,1894.5L552.1,1896.4ZM579.0,1865.4L607.8,1863.5L609.6,1892.6L580.9,1894.5ZM607.8,1863.5L636.6,1861.7L638.3,1890.8L609.6,1892.6ZM552.1,1896.4L580.9,1894.5L582.7,1923.5L554.1,1925.4ZM580.9,1894.5L609.6,1892.6L611.4,1921.6L582.7,1923.5ZM554.1,1925.4L582.7,1923.5L584.6,1952.5L556.0,1954.4ZM582.7,1923.5L611.4,1921.6L613.2,1950.6L584.6,1952.5ZM556.0,1954.4L584.6,1952.5L586.5,1981.4L557.9,1983.3ZM584.6,1952.5L613.2,1950.6L615.0,1979.5L586.5,1981.4ZM557.9,1983.3L586.5,1981.4L588.3,2010.2L559.8,2012.1ZM586.5,1981.4L615.0,1979.5L616.8,2008.4L588.3,2010.2ZM615.0,1979.5L643.6,1977.8L645.4,2006.6L616.8,2008.4ZM588.3,2010.2L616.8,2008.4L618.6,2037.2L590.2,2039.0ZM616.8,2008.4L645.4,2006.6L647.1,2035.4L618.6,2037.2ZM645.4,2006.6L673.9,2004.9L675.5,2033.7L647.1,2035.4ZM1388.4,1981.5L1417.0,1981.3L1417.1,2010.2L1388.6,2010.4ZM1417.0,1981.3L1445.6,1981.2L1445.7,2010.1L1417.1,2010.2ZM1445.6,1981.2L1474.2,1981.2L1474.2,2010.1L1445.7,2010.1ZM590.2,2039.0L618.6,2037.2L620.4,2065.9L592.0,2067.8ZM618.6,2037.2L647.1,2035.4L648.8,2064.2L620.4,2065.9ZM647.1,2035.4L675.5,2033.7L677.2,2062.5L648.8,2064.2ZM675.5,2033.7L704.0,2032.1L705.6,2060.8L677.2,2062.5ZM704.0,2032.1L732.5,2030.5L734.0,2059.3L705.6,2060.8ZM732.5,2030.5L761.0,2029.0L762.4,2057.7L734.0,2059.3ZM1388.6,2010.4L1417.1,2010.2L1417.3,2039.1L1388.8,2039.2ZM1474.2,2010.1L1502.8,2010.1L1502.8,2039.0L1474.3,2038.9ZM592.0,2067.8L620.4,2065.9L622.2,2094.6L593.9,2096.4ZM620.4,2065.9L648.8,2064.2L650.5,2092.9L622.2,2094.6ZM648.8,2064.2L677.2,2062.5L678.9,2091.2L650.5,2092.9ZM677.2,2062.5L705.6,2060.8L707.2,2089.5L678.9,2091.2ZM705.6,2060.8L734.0,2059.3L735.6,2088.0L707.2,2089.5ZM734.0,2059.3L762.4,2057.7L763.9,2086.5L735.6,2088.0ZM1388.8,2039.2L1417.3,2039.1L1417.4,2067.9L1388.9,2068.0ZM1474.3,2038.9L1502.8,2039.0L1502.7,2067.7L1474.3,2067.7ZM565.6,2098.3L593.9,2096.4L595.7,2125.0L567.4,2126.9ZM593.9,2096.4L622.2,2094.6L624.0,2123.2L595.7,2125.0ZM622.2,2094.6L650.5,2092.9L652.2,2121.5L624.0,2123.2ZM650.5,2092.9L678.9,2091.2L680.5,2119.8L652.2,2121.5ZM678.9,2091.2L707.2,2089.5L708.8,2118.2L680.5,2119.8ZM707.2,2089.5L735.6,2088.0L737.1,2116.6L708.8,2118.2ZM1417.4,2067.9L1445.8,2067.8L1445.9,2096.5L1417.5,2096.6ZM1445.8,2067.8L1474.3,2067.7L1474.3,2096.5L1445.9,2096.5ZM1474.3,2067.7L1502.7,2067.7L1502.6,2096.5L1474.3,2096.5ZM595.7,2125.0L624.0,2123.2L625.7,2151.8L597.5,2153.6ZM1445.9,2096.5L1474.3,2096.5L1474.3,2125.1L1446.0,2125.2ZM1474.3,2096.5L1502.6,2096.5L1502.6,2125.1L1474.3,2125.1ZM569.3,2155.5L597.5,2153.6L599.3,2182.1L571.2,2183.9ZM597.5,2153.6L625.7,2151.8L627.5,2180.3L599.3,2182.1ZM1474.3,2125.1L1502.6,2125.1L1502.5,2153.8L1474.3,2153.7ZM571.2,2183.9L599.3,2182.1L601.2,2210.5L573.1,2212.4ZM599.3,2182.1L627.5,2180.3L629.2,2208.8L601.2,2210.5ZM608.3,2323.7L636.2,2322.0L637.9,2350.2L610.1,2351.9ZM636.2,2322.0L664.0,2320.3L665.7,2348.5L637.9,2350.2ZM664.0,2320.3L691.9,2318.7L693.5,2346.8L665.7,2348.5ZM1446.3,2296.0L1474.3,2295.9L1474.3,2324.2L1446.4,2324.3ZM1474.3,2295.9L1502.3,2296.0L1502.2,2324.2L1474.3,2324.2ZM582.3,2353.7L610.1,2351.9L611.8,2380.0L584.1,2381.8ZM610.1,2351.9L637.9,2350.2L639.6,2378.3L611.8,2380.0ZM637.9,2350.2L665.7,2348.5L667.4,2376.6L639.6,2378.3ZM665.7,2348.5L693.5,2346.8L695.1,2375.0L667.4,2376.6ZM693.5,2346.8L721.4,2345.3L722.9,2373.4L695.1,2375.0ZM1474.3,2324.2L1502.2,2324.2L1502.2,2352.4L1474.3,2352.4ZM584.1,2381.8L611.8,2380.0L613.6,2408.0L585.9,2409.8ZM611.8,2380.0L639.6,2378.3L641.3,2406.3L613.6,2408.0ZM639.6,2378.3L667.4,2376.6L669.0,2404.6L641.3,2406.3ZM667.4,2376.6L695.1,2375.0L696.7,2403.0L669.0,2404.6ZM695.1,2375.0L722.9,2373.4L724.4,2401.5L696.7,2403.0ZM722.9,2373.4L750.7,2371.9L752.1,2400.0L724.4,2401.5ZM585.9,2409.8L613.6,2408.0L615.3,2436.0L587.7,2437.8ZM613.6,2408.0L641.3,2406.3L643.0,2434.3L615.3,2436.0ZM641.3,2406.3L669.0,2404.6L670.6,2432.6L643.0,2434.3ZM669.0,2404.6L696.7,2403.0L698.3,2431.0L670.6,2432.6ZM696.7,2403.0L724.4,2401.5L726.0,2429.5L698.3,2431.0ZM724.4,2401.5L752.1,2400.0L753.6,2428.0L726.0,2429.5ZM752.1,2400.0L779.9,2398.5L781.3,2426.5L753.6,2428.0ZM587.7,2437.8L615.3,2436.0L617.1,2464.0L589.5,2465.7ZM615.3,2436.0L643.0,2434.3L644.7,2462.2L617.1,2464.0ZM643.0,2434.3L670.6,2432.6L672.3,2460.6L644.7,2462.2ZM670.6,2432.6L698.3,2431.0L699.9,2459.0L672.3,2460.6ZM698.3,2431.0L726.0,2429.5L727.5,2457.4L699.9,2459.0ZM726.0,2429.5L753.6,2428.0L755.1,2455.9L727.5,2457.4ZM753.6,2428.0L781.3,2426.5L782.7,2454.5L755.1,2455.9ZM781.3,2426.5L809.0,2425.1L810.3,2453.1L782.7,2454.5ZM589.5,2465.7L617.1,2464.0L618.8,2491.8L591.3,2493.6ZM699.9,2459.0L727.5,2457.4L729.0,2485.3L701.4,2486.9ZM727.5,2457.4L755.1,2455.9L756.5,2483.8L729.0,2485.3ZM755.1,2455.9L782.7,2454.5L784.1,2482.4L756.5,2483.8ZM782.7,2454.5L810.3,2453.1L811.7,2481.0L784.1,2482.4ZM810.3,2453.1L837.9,2451.8L839.2,2479.7L811.7,2481.0ZM756.5,2483.8L784.1,2482.4L785.5,2510.3L758.0,2511.7ZM784.1,2482.4L811.7,2481.0L813.0,2508.9L785.5,2510.3ZM811.7,2481.0L839.2,2479.7L840.5,2507.6L813.0,2508.9ZM785.5,2510.3L813.0,2508.9L814.3,2536.7L786.9,2538.1ZM813.0,2508.9L840.5,2507.6L841.8,2535.4L814.3,2536.7ZM840.5,2507.6L868.0,2506.3L869.3,2534.1L841.8,2535.4ZM814.3,2536.7L841.8,2535.4L843.1,2563.2L815.7,2564.5ZM841.8,2535.4L869.3,2534.1L870.5,2561.9L843.1,2563.2ZM843.1,2563.2L870.5,2561.9L871.7,2589.6L844.4,2590.9ZM871.7,2589.6L899.1,2588.4L900.2,2616.1L872.9,2617.3ZM872.9,2617.3L900.2,2616.1L901.4,2643.7L874.1,2644.9ZM874.1,2644.9L901.4,2643.7L902.5,2671.2L875.3,2672.4ZM875.3,2672.4L902.5,2671.2L903.7,2698.7L876.5,2699.9ZM876.5,2699.9L903.7,2698.7L904.8,2726.2L877.7,2727.4ZM904.8,2726.2L931.9,2725.1L933.0,2752.5L905.9,2753.6ZM1040.3,2721.1L1067.4,2720.3L1068.3,2747.7L1041.2,2748.6ZM905.9,2753.6L933.0,2752.5L934.1,2779.8L907.1,2780.9ZM933.0,2752.5L960.0,2751.4L961.1,2778.7L934.1,2779.8ZM1014.1,2749.5L1041.2,2748.6L1042.1,2775.9L1015.1,2776.8ZM1068.3,2747.7L1095.3,2746.9L1096.1,2774.3L1069.1,2775.1ZM1095.3,2746.9L1122.4,2746.2L1123.1,2773.6L1096.1,2774.3ZM934.1,2779.8L961.1,2778.7L962.1,2806.0L935.1,2807.1ZM961.1,2778.7L988.1,2777.7L989.0,2805.0L962.1,2806.0ZM988.1,2777.7L1015.1,2776.8L1016.0,2804.1L989.0,2805.0ZM1123.1,2773.6L1150.1,2772.9L1150.7,2800.2L1123.8,2800.9ZM1123.8,2800.9L1150.7,2800.2L1151.4,2827.4L1124.5,2828.1ZM1420.5,2796.3L1447.4,2796.3L1447.5,2823.5L1420.6,2823.6ZM1124.5,2828.1L1151.4,2827.4L1152.0,2854.7L1125.2,2855.3ZM1366.7,2824.0L1393.7,2823.8L1393.8,2851.0L1367.0,2851.2ZM1393.7,2823.8L1420.6,2823.6L1420.7,2850.8L1393.8,2851.0ZM1474.4,2823.5L1501.4,2823.5L1501.3,2850.7L1474.4,2850.7ZM1125.2,2855.3L1152.0,2854.7L1152.7,2881.8L1125.9,2882.5ZM1152.0,2854.7L1178.9,2854.0L1179.5,2881.2L1152.7,2881.8ZM1178.9,2854.0L1205.8,2853.5L1206.3,2880.6L1179.5,2881.2ZM1205.8,2853.5L1232.6,2853.0L1233.1,2880.1L1206.3,2880.6ZM1232.6,2853.0L1259.5,2852.5L1259.9,2879.7L1233.1,2880.1ZM1259.5,2852.5L1286.3,2852.1L1286.7,2879.3L1259.9,2879.7ZM1286.3,2852.1L1313.2,2851.7L1313.5,2878.9L1286.7,2879.3ZM1313.2,2851.7L1340.1,2851.4L1340.4,2878.6L1313.5,2878.9ZM1340.1,2851.4L1367.0,2851.2L1367.2,2878.3L1340.4,2878.6ZM1367.0,2851.2L1393.8,2851.0L1394.0,2878.2L1367.2,2878.3ZM1393.8,2851.0L1420.7,2850.8L1420.8,2878.0L1394.0,2878.2ZM1420.7,2850.8L1447.6,2850.8L1447.6,2877.9L1420.8,2878.0ZM1447.6,2850.8L1474.4,2850.7L1474.4,2877.9L1447.6,2877.9ZM1474.4,2850.7L1501.3,2850.7L1501.3,2877.9L1474.4,2877.9ZM1125.9,2882.5L1152.7,2881.8L1153.3,2908.9L1126.6,2909.6ZM1152.7,2881.8L1179.5,2881.2L1180.1,2908.3L1153.3,2908.9ZM1179.5,2881.2L1206.3,2880.6L1206.8,2907.7L1180.1,2908.3ZM1394.0,2878.2L1420.8,2878.0L1420.9,2905.1L1394.2,2905.3ZM1420.8,2878.0L1447.6,2877.9L1447.7,2905.0L1420.9,2905.1ZM1153.3,2908.9L1180.1,2908.3L1180.6,2935.3L1153.9,2936.0ZM1180.1,2908.3L1206.8,2907.7L1207.3,2934.8L1180.6,2935.3ZM1367.4,2905.5L1394.2,2905.3L1394.3,2932.3L1367.6,2932.5ZM1153.9,2936.0L1180.6,2935.3L1181.2,2962.3L1154.6,2963.0ZM1180.6,2935.3L1207.3,2934.8L1207.9,2961.8L1181.2,2962.3ZM1207.3,2934.8L1234.1,2934.3L1234.5,2961.3L1207.9,2961.8ZM1234.1,2934.3L1260.8,2933.8L1261.2,2960.8L1234.5,2961.3ZM1260.8,2933.8L1287.5,2933.4L1287.8,2960.4L1261.2,2960.8ZM1340.9,2932.8L1367.6,2932.5L1367.8,2959.5L1341.2,2959.8ZM1207.9,2961.8L1234.5,2961.3L1235.0,2988.2L1208.4,2988.7ZM1314.5,2960.1L1341.2,2959.8L1341.4,2986.7L1314.8,2987.0Z" fill="rgb(255,255,40)" fill-opacity="0.5" stroke="rgb(255,255,40)" stroke-opacity="0.32" stroke-width="0.7" stroke-linejoin="miter"/>
<path d="M625.8,1685.8L655.0,1684.0L656.7,1713.5L627.6,1715.3ZM684.2,1682.3L713.4,1680.6L715.0,1710.1L685.9,1711.8ZM713.4,1680.6L742.6,1679.0L744.1,1708.5L715.0,1710.1ZM742.6,1679.0L771.8,1677.4L773.3,1707.0L744.1,1708.5ZM656.7,1713.5L685.9,1711.8L687.5,1741.2L658.5,1742.9ZM744.1,1708.5L773.3,1707.0L774.8,1736.4L745.7,1737.9ZM658.5,1742.9L687.5,1741.2L689.2,1770.5L660.2,1772.2ZM687.5,1741.2L716.6,1739.5L718.2,1768.9L689.2,1770.5ZM716.6,1739.5L745.7,1737.9L747.3,1767.3L718.2,1768.9ZM745.7,1737.9L774.8,1736.4L776.3,1765.8L747.3,1767.3ZM689.2,1770.5L718.2,1768.9L719.8,1798.2L690.9,1799.8ZM718.2,1768.9L747.3,1767.3L748.8,1796.6L719.8,1798.2ZM690.9,1799.8L719.8,1798.2L721.4,1827.5L692.6,1829.1ZM663.7,1830.8L692.6,1829.1L694.2,1858.3L665.4,1860.0ZM692.6,1829.1L721.4,1827.5L723.0,1856.6L694.2,1858.3ZM1474.2,1806.4L1503.2,1806.5L1503.1,1835.7L1474.2,1835.7ZM636.6,1861.7L665.4,1860.0L667.1,1889.1L638.3,1890.8ZM665.4,1860.0L694.2,1858.3L695.9,1887.4L667.1,1889.1ZM1445.3,1835.8L1474.2,1835.7L1474.2,1864.9L1445.4,1865.0ZM1474.2,1835.7L1503.1,1835.7L1503.1,1864.9L1474.2,1864.9ZM609.6,1892.6L638.3,1890.8L640.1,1919.9L611.4,1921.6ZM638.3,1890.8L667.1,1889.1L668.8,1918.1L640.1,1919.9ZM1358.8,1865.5L1387.6,1865.2L1387.8,1894.4L1359.0,1894.6ZM1387.6,1865.2L1416.5,1865.1L1416.6,1894.2L1387.8,1894.4ZM1416.5,1865.1L1445.4,1865.0L1445.4,1894.1L1416.6,1894.2ZM1445.4,1865.0L1474.2,1864.9L1474.2,1894.1L1445.4,1894.1ZM1474.2,1864.9L1503.1,1864.9L1503.0,1894.1L1474.2,1894.1ZM611.4,1921.6L640.1,1919.9L641.9,1948.8L613.2,1950.6ZM640.1,1919.9L668.8,1918.1L670.5,1947.1L641.9,1948.8ZM1359.0,1894.6L1387.8,1894.4L1388.0,1923.5L1359.3,1923.7ZM1387.8,1894.4L1416.6,1894.2L1416.8,1923.3L1388.0,1923.5ZM1416.6,1894.2L1445.4,1894.1L1445.5,1923.2L1416.8,1923.3ZM1445.4,1894.1L1474.2,1894.1L1474.2,1923.2L1445.5,1923.2ZM1474.2,1894.1L1503.0,1894.1L1503.0,1923.2L1474.2,1923.2ZM613.2,1950.6L641.9,1948.8L643.6,1977.8L615.0,1979.5ZM641.9,1948.8L670.5,1947.1L672.2,1976.0L643.6,1977.8ZM1359.3,1923.7L1388.0,1923.5L1388.2,1952.5L1359.5,1952.7ZM1388.0,1923.5L1416.8,1923.3L1416.9,1952.3L1388.2,1952.5ZM1416.8,1923.3L1445.5,1923.2L1445.6,1952.2L1416.9,1952.3ZM1445.5,1923.2L1474.2,1923.2L1474.2,1952.2L1445.6,1952.2ZM1474.2,1923.2L1503.0,1923.2L1502.9,1952.2L1474.2,1952.2ZM643.6,1977.8L672.2,1976.0L673.9,2004.9L645.4,2006.6ZM1244.8,1954.2L1273.5,1953.7L1273.9,1982.7L1245.3,1983.2ZM1273.5,1953.7L1302.2,1953.3L1302.5,1982.3L1273.9,1982.7ZM1302.2,1953.3L1330.9,1953.0L1331.2,1982.0L1302.5,1982.3ZM1330.9,1953.0L1359.5,1952.7L1359.8,1981.7L1331.2,1982.0ZM1359.5,1952.7L1388.2,1952.5L1388.4,1981.5L1359.8,1981.7ZM1388.2,1952.5L1416.9,1952.3L1417.0,1981.3L1388.4,1981.5ZM1416.9,1952.3L1445.6,1952.2L1445.6,1981.2L1417.0,1981.3ZM1445.6,1952.2L1474.2,1952.2L1474.2,1981.2L1445.6,1981.2ZM1474.2,1952.2L1502.9,1952.2L1502.9,1981.2L1474.2,1981.2ZM673.9,2004.9L702.4,2003.3L704.0,2032.1L675.5,2033.7ZM702.4,2003.3L730.9,2001.7L732.5,2030.5L704.0,2032.1ZM730.9,2001.7L759.5,2000.1L761.0,2029.0L732.5,2030.5ZM1216.7,1983.7L1245.3,1983.2L1245.8,2012.1L1217.3,2012.6ZM1245.3,1983.2L1273.9,1982.7L1274.4,2011.6L1245.8,2012.1ZM1273.9,1982.7L1302.5,1982.3L1302.9,2011.2L1274.4,2011.6ZM1302.5,1982.3L1331.2,1982.0L1331.5,2010.9L1302.9,2011.2ZM1331.2,1982.0L1359.8,1981.7L1360.0,2010.6L1331.5,2010.9ZM1359.8,1981.7L1388.4,1981.5L1388.6,2010.4L1360.0,2010.6ZM1474.2,1981.2L1502.9,1981.2L1502.8,2010.1L1474.2,2010.1ZM761.0,2029.0L789.4,2027.5L790.9,2056.3L762.4,2057.7ZM1188.7,2013.2L1217.3,2012.6L1217.8,2041.4L1189.3,2042.0ZM1217.3,2012.6L1245.8,2012.1L1246.3,2040.9L1217.8,2041.4ZM1245.8,2012.1L1274.4,2011.6L1274.8,2040.5L1246.3,2040.9ZM1274.4,2011.6L1302.9,2011.2L1303.3,2040.1L1274.8,2040.5ZM1302.9,2011.2L1331.5,2010.9L1331.8,2039.7L1303.3,2040.1ZM1331.5,2010.9L1360.0,2010.6L1360.3,2039.4L1331.8,2039.7ZM1360.0,2010.6L1388.6,2010.4L1388.8,2039.2L1360.3,2039.4ZM762.4,2057.7L790.9,2056.3L792.3,2085.0L763.9,2086.5ZM790.9,2056.3L819.3,2054.9L820.7,2083.6L792.3,2085.0ZM1160.8,2042.6L1189.3,2042.0L1189.9,2070.8L1161.5,2071.4ZM1189.3,2042.0L1217.8,2041.4L1218.3,2070.2L1189.9,2070.8ZM1217.8,2041.4L1246.3,2040.9L1246.8,2069.7L1218.3,2070.2ZM1246.3,2040.9L1274.8,2040.5L1275.2,2069.2L1246.8,2069.7ZM1274.8,2040.5L1303.3,2040.1L1303.6,2068.9L1275.2,2069.2ZM1303.3,2040.1L1331.8,2039.7L1332.1,2068.5L1303.6,2068.9ZM1331.8,2039.7L1360.3,2039.4L1360.5,2068.2L1332.1,2068.5ZM1360.3,2039.4L1388.8,2039.2L1388.9,2068.0L1360.5,2068.2ZM735.6,2088.0L763.9,2086.5L765.4,2115.1L737.1,2116.6ZM763.9,2086.5L792.3,2085.0L793.7,2113.7L765.4,2115.1ZM792.3,2085.0L820.7,2083.6L822.0,2112.3L793.7,2113.7ZM1161.5,2071.4L1189.9,2070.8L1190.5,2099.5L1162.1,2100.1ZM1189.9,2070.8L1218.3,2070.2L1218.9,2098.9L1190.5,2099.5ZM1218.3,2070.2L1246.8,2069.7L1247.3,2098.4L1218.9,2098.9ZM1246.8,2069.7L1275.2,2069.2L1275.6,2098.0L1247.3,2098.4ZM1275.2,2069.2L1303.6,2068.9L1304.0,2097.6L1275.6,2098.0ZM1303.6,2068.9L1332.1,2068.5L1332.4,2097.2L1304.0,2097.6ZM1332.1,2068.5L1360.5,2068.2L1360.8,2097.0L1332.4,2097.2ZM1360.5,2068.2L1388.9,2068.0L1389.1,2096.8L1360.8,2097.0ZM1388.9,2068.0L1417.4,2067.9L1417.5,2096.6L1389.1,2096.8ZM624.0,2123.2L652.2,2121.5L654.0,2150.1L625.7,2151.8ZM652.2,2121.5L680.5,2119.8L682.2,2148.4L654.0,2150.1ZM680.5,2119.8L708.8,2118.2L710.4,2146.8L682.2,2148.4ZM708.8,2118.2L737.1,2116.6L738.6,2145.2L710.4,2146.8ZM737.1,2116.6L765.4,2115.1L766.9,2143.7L738.6,2145.2ZM1389.1,2096.8L1417.5,2096.6L1417.6,2125.3L1389.3,2125.4ZM1417.5,2096.6L1445.9,2096.5L1446.0,2125.2L1417.6,2125.3ZM625.7,2151.8L654.0,2150.1L655.7,2178.6L627.5,2180.3ZM654.0,2150.1L682.2,2148.4L683.8,2176.9L655.7,2178.6ZM682.2,2148.4L710.4,2146.8L712.0,2175.3L683.8,2176.9ZM1417.6,2125.3L1446.0,2125.2L1446.0,2153.8L1417.8,2153.9ZM1446.0,2125.2L1474.3,2125.1L1474.3,2153.7L1446.0,2153.8ZM627.5,2180.3L655.7,2178.6L657.3,2207.0L629.2,2208.8ZM1417.8,2153.9L1446.0,2153.8L1446.1,2182.3L1417.9,2182.4ZM1446.0,2153.8L1474.3,2153.7L1474.3,2182.3L1446.1,2182.3ZM1474.3,2153.7L1502.5,2153.8L1502.5,2182.3L1474.3,2182.3ZM573.1,2212.4L601.2,2210.5L603.0,2238.9L574.9,2240.8ZM601.2,2210.5L629.2,2208.8L631.0,2237.2L603.0,2238.9ZM629.2,2208.8L657.3,2207.0L659.0,2235.4L631.0,2237.2ZM657.3,2207.0L685.5,2205.4L687.1,2233.8L659.0,2235.4ZM1474.3,2182.3L1502.5,2182.3L1502.4,2210.8L1474.3,2210.8ZM659.0,2235.4L687.1,2233.8L688.7,2262.1L660.7,2263.8ZM576.8,2269.1L604.7,2267.3L606.5,2295.5L578.6,2297.3ZM1390.0,2239.5L1418.1,2239.4L1418.2,2267.8L1390.2,2267.9ZM1418.1,2239.4L1446.2,2239.3L1446.3,2267.7L1418.2,2267.8ZM1446.2,2239.3L1474.3,2239.2L1474.3,2267.6L1446.3,2267.7ZM578.6,2297.3L606.5,2295.5L608.3,2323.7L580.4,2325.6ZM606.5,2295.5L634.5,2293.8L636.2,2322.0L608.3,2323.7ZM1390.2,2267.9L1418.2,2267.8L1418.4,2296.1L1390.4,2296.2ZM1418.2,2267.8L1446.3,2267.7L1446.3,2296.0L1418.4,2296.1ZM1446.3,2267.7L1474.3,2267.6L1474.3,2295.9L1446.3,2296.0ZM1474.3,2267.6L1502.3,2267.6L1502.3,2296.0L1474.3,2295.9ZM580.4,2325.6L608.3,2323.7L610.1,2351.9L582.3,2353.7ZM691.9,2318.7L719.8,2317.1L721.4,2345.3L693.5,2346.8ZM719.8,2317.1L747.7,2315.6L749.2,2343.7L721.4,2345.3ZM1390.4,2296.2L1418.4,2296.1L1418.5,2324.3L1390.6,2324.5ZM1418.4,2296.1L1446.3,2296.0L1446.4,2324.3L1418.5,2324.3ZM721.4,2345.3L749.2,2343.7L750.7,2371.9L722.9,2373.4ZM1446.4,2324.3L1474.3,2324.2L1474.3,2352.4L1446.5,2352.5ZM750.7,2371.9L778.5,2370.4L779.9,2398.5L752.1,2400.0ZM1474.3,2352.4L1502.2,2352.4L1502.1,2380.6L1474.3,2380.6ZM779.9,2398.5L807.6,2397.1L809.0,2425.1L781.3,2426.5ZM1419.0,2436.8L1446.7,2436.8L1446.7,2464.7L1419.1,2464.8ZM1446.7,2436.8L1474.3,2436.7L1474.3,2464.7L1446.7,2464.7ZM839.2,2479.7L866.8,2478.5L868.0,2506.3L840.5,2507.6ZM1419.1,2464.8L1446.7,2464.7L1446.8,2492.7L1419.2,2492.8ZM1446.7,2464.7L1474.3,2464.7L1474.4,2492.6L1446.8,2492.7ZM1446.8,2492.7L1474.4,2492.6L1474.4,2520.5L1446.8,2520.5ZM869.3,2534.1L896.7,2532.9L897.9,2560.7L870.5,2561.9ZM870.5,2561.9L897.9,2560.7L899.1,2588.4L871.7,2589.6ZM900.2,2616.1L927.5,2615.0L928.6,2642.6L901.4,2643.7ZM901.4,2643.7L928.6,2642.6L929.7,2670.1L902.5,2671.2ZM902.5,2671.2L929.7,2670.1L930.8,2697.6L903.7,2698.7ZM903.7,2698.7L930.8,2697.6L931.9,2725.1L904.8,2726.2ZM931.9,2725.1L959.0,2724.0L960.0,2751.4L933.0,2752.5ZM1013.2,2722.0L1040.3,2721.1L1041.2,2748.6L1014.1,2749.5ZM1067.4,2720.3L1094.6,2719.5L1095.3,2746.9L1068.3,2747.7ZM960.0,2751.4L987.1,2750.4L988.1,2777.7L961.1,2778.7ZM987.1,2750.4L1014.1,2749.5L1015.1,2776.8L988.1,2777.7ZM1366.5,2796.7L1393.5,2796.5L1393.7,2823.8L1366.7,2824.0ZM1393.5,2796.5L1420.5,2796.3L1420.6,2823.6L1393.7,2823.8ZM1447.4,2796.3L1474.4,2796.2L1474.4,2823.5L1447.5,2823.5ZM1151.4,2827.4L1178.3,2826.8L1178.9,2854.0L1152.0,2854.7ZM1178.3,2826.8L1205.2,2826.3L1205.8,2853.5L1178.9,2854.0ZM1205.2,2826.3L1232.1,2825.7L1232.6,2853.0L1205.8,2853.5ZM1447.6,2877.9L1474.4,2877.9L1474.4,2905.0L1447.7,2905.0ZM1394.2,2905.3L1420.9,2905.1L1421.0,2932.2L1394.3,2932.3ZM1367.6,2932.5L1394.3,2932.3L1394.5,2959.3L1367.8,2959.5ZM1234.5,2961.3L1261.2,2960.8L1261.6,2987.8L1235.0,2988.2ZM1261.2,2960.8L1287.8,2960.4L1288.2,2987.4L1261.6,2987.8ZM1287.8,2960.4L1314.5,2960.1L1314.8,2987.0L1288.2,2987.4ZM1341.2,2959.8L1367.8,2959.5L1368.0,2986.5L1341.4,2986.7Z" fill="rgb(255,205,0)" fill-opacity="0.5" stroke="rgb(255,205,0)" stroke-opacity="0.32" stroke-width="0.7" stroke-linejoin="miter"/>
<path d="M655.0,1684.0L684.2,1682.3L685.9,1711.8L656.7,1713.5ZM771.8,1677.4L801.0,1676.0L802.4,1705.5L773.3,1707.0ZM801.0,1676.0L830.2,1674.5L831.6,1704.1L802.4,1705.5ZM830.2,1674.5L859.5,1673.2L860.8,1702.7L831.6,1704.1ZM859.5,1673.2L888.7,1671.9L890.0,1701.4L860.8,1702.7ZM1152.0,1663.1L1181.3,1662.4L1181.9,1692.0L1152.7,1692.6ZM773.3,1707.0L802.4,1705.5L803.9,1734.9L774.8,1736.4ZM774.8,1736.4L803.9,1734.9L805.3,1764.3L776.3,1765.8ZM978.6,1727.4L1007.7,1726.4L1008.7,1755.8L979.6,1756.8ZM747.3,1767.3L776.3,1765.8L777.8,1795.1L748.8,1796.6ZM776.3,1765.8L805.3,1764.3L806.7,1793.6L777.8,1795.1ZM950.6,1757.9L979.6,1756.8L980.7,1786.2L951.7,1787.3ZM979.6,1756.8L1008.7,1755.8L1009.7,1785.2L980.7,1786.2ZM719.8,1798.2L748.8,1796.6L750.3,1825.9L721.4,1827.5ZM748.8,1796.6L777.8,1795.1L779.3,1824.4L750.3,1825.9ZM835.7,1792.3L864.7,1790.9L866.0,1820.2L837.1,1821.5ZM864.7,1790.9L893.7,1789.6L894.9,1818.9L866.0,1820.2ZM893.7,1789.6L922.7,1788.4L923.9,1817.7L894.9,1818.9ZM922.7,1788.4L951.7,1787.3L952.8,1816.6L923.9,1817.7ZM721.4,1827.5L750.3,1825.9L751.9,1855.1L723.0,1856.6ZM808.2,1822.9L837.1,1821.5L838.4,1850.7L809.6,1852.1ZM837.1,1821.5L866.0,1820.2L867.3,1849.4L838.4,1850.7ZM866.0,1820.2L894.9,1818.9L896.2,1848.2L867.3,1849.4ZM894.9,1818.9L923.9,1817.7L925.0,1846.9L896.2,1848.2ZM1416.2,1806.6L1445.2,1806.5L1445.3,1835.8L1416.4,1835.9ZM1445.2,1806.5L1474.2,1806.4L1474.2,1835.7L1445.3,1835.8ZM694.2,1858.3L723.0,1856.6L724.6,1885.8L695.9,1887.4ZM723.0,1856.6L751.9,1855.1L753.4,1884.2L724.6,1885.8ZM838.4,1850.7L867.3,1849.4L868.6,1878.6L839.8,1879.9ZM867.3,1849.4L896.2,1848.2L897.4,1877.3L868.6,1878.6ZM1329.6,1836.5L1358.5,1836.2L1358.8,1865.5L1329.9,1865.7ZM1358.5,1836.2L1387.5,1836.0L1387.6,1865.2L1358.8,1865.5ZM1387.5,1836.0L1416.4,1835.9L1416.5,1865.1L1387.6,1865.2ZM1416.4,1835.9L1445.3,1835.8L1445.4,1865.0L1416.5,1865.1ZM667.1,1889.1L695.9,1887.4L697.5,1916.4L668.8,1918.1ZM695.9,1887.4L724.6,1885.8L726.2,1914.8L697.5,1916.4ZM724.6,1885.8L753.4,1884.2L754.9,1913.3L726.2,1914.8ZM839.8,1879.9L868.6,1878.6L869.9,1907.7L841.1,1909.0ZM1329.9,1865.7L1358.8,1865.5L1359.0,1894.6L1330.2,1894.9ZM668.8,1918.1L697.5,1916.4L699.1,1945.4L670.5,1947.1ZM1330.2,1894.9L1359.0,1894.6L1359.3,1923.7L1330.5,1924.0ZM670.5,1947.1L699.1,1945.4L700.8,1974.4L672.2,1976.0ZM1244.4,1925.2L1273.1,1924.7L1273.5,1953.7L1244.8,1954.2ZM1273.1,1924.7L1301.8,1924.3L1302.2,1953.3L1273.5,1953.7ZM1301.8,1924.3L1330.5,1924.0L1330.9,1953.0L1302.2,1953.3ZM1330.5,1924.0L1359.3,1923.7L1359.5,1952.7L1330.9,1953.0ZM672.2,1976.0L700.8,1974.4L702.4,2003.3L673.9,2004.9ZM700.8,1974.4L729.4,1972.8L730.9,2001.7L702.4,2003.3ZM729.4,1972.8L758.0,1971.2L759.5,2000.1L730.9,2001.7ZM758.0,1971.2L786.6,1969.8L788.0,1998.7L759.5,2000.1ZM1216.2,1954.7L1244.8,1954.2L1245.3,1983.2L1216.7,1983.7ZM759.5,2000.1L788.0,1998.7L789.4,2027.5L761.0,2029.0ZM788.0,1998.7L816.6,1997.2L817.9,2026.1L789.4,2027.5ZM816.6,1997.2L845.1,1995.9L846.4,2024.7L817.9,2026.1ZM1188.1,1984.3L1216.7,1983.7L1217.3,2012.6L1188.7,2013.2ZM789.4,2027.5L817.9,2026.1L819.3,2054.9L790.9,2056.3ZM817.9,2026.1L846.4,2024.7L847.7,2053.5L819.3,2054.9ZM1160.2,2013.8L1188.7,2013.2L1189.3,2042.0L1160.8,2042.6ZM819.3,2054.9L847.7,2053.5L849.0,2082.3L820.7,2083.6ZM847.7,2053.5L876.2,2052.2L877.4,2081.0L849.0,2082.3ZM1132.4,2043.3L1160.8,2042.6L1161.5,2071.4L1133.1,2072.1ZM820.7,2083.6L849.0,2082.3L850.3,2110.9L822.0,2112.3ZM849.0,2082.3L877.4,2081.0L878.7,2109.7L850.3,2110.9ZM765.4,2115.1L793.7,2113.7L795.1,2142.3L766.9,2143.7ZM793.7,2113.7L822.0,2112.3L823.4,2140.9L795.1,2142.3ZM822.0,2112.3L850.3,2110.9L851.6,2139.6L823.4,2140.9ZM850.3,2110.9L878.7,2109.7L879.9,2138.3L851.6,2139.6ZM1218.9,2098.9L1247.3,2098.4L1247.7,2127.1L1219.4,2127.6ZM1247.3,2098.4L1275.6,2098.0L1276.0,2126.6L1247.7,2127.1ZM1275.6,2098.0L1304.0,2097.6L1304.4,2126.2L1276.0,2126.6ZM1304.0,2097.6L1332.4,2097.2L1332.7,2125.9L1304.4,2126.2ZM1332.4,2097.2L1360.8,2097.0L1361.0,2125.6L1332.7,2125.9ZM1360.8,2097.0L1389.1,2096.8L1389.3,2125.4L1361.0,2125.6ZM710.4,2146.8L738.6,2145.2L740.2,2173.8L712.0,2175.3ZM738.6,2145.2L766.9,2143.7L768.4,2172.3L740.2,2173.8ZM1361.0,2125.6L1389.3,2125.4L1389.5,2154.0L1361.2,2154.3ZM1389.3,2125.4L1417.6,2125.3L1417.8,2153.9L1389.5,2154.0ZM655.7,2178.6L683.8,2176.9L685.5,2205.4L657.3,2207.0ZM683.8,2176.9L712.0,2175.3L713.6,2203.8L685.5,2205.4ZM1389.5,2154.0L1417.8,2153.9L1417.9,2182.4L1389.7,2182.6ZM685.5,2205.4L713.6,2203.8L715.1,2232.2L687.1,2233.8ZM1389.7,2182.6L1417.9,2182.4L1418.0,2210.9L1389.9,2211.1ZM1417.9,2182.4L1446.1,2182.3L1446.1,2210.8L1418.0,2210.9ZM1446.1,2182.3L1474.3,2182.3L1474.3,2210.8L1446.1,2210.8ZM574.9,2240.8L603.0,2238.9L604.7,2267.3L576.8,2269.1ZM603.0,2238.9L631.0,2237.2L632.7,2265.5L604.7,2267.3ZM631.0,2237.2L659.0,2235.4L660.7,2263.8L632.7,2265.5ZM687.1,2233.8L715.1,2232.2L716.7,2260.5L688.7,2262.1ZM1333.6,2211.6L1361.7,2211.3L1361.9,2239.7L1333.9,2240.0ZM1361.7,2211.3L1389.9,2211.1L1390.0,2239.5L1361.9,2239.7ZM1389.9,2211.1L1418.0,2210.9L1418.1,2239.4L1390.0,2239.5ZM1418.0,2210.9L1446.1,2210.8L1446.2,2239.3L1418.1,2239.4ZM1446.1,2210.8L1474.3,2210.8L1474.3,2239.2L1446.2,2239.3ZM1474.3,2210.8L1502.4,2210.8L1502.4,2239.3L1474.3,2239.2ZM604.7,2267.3L632.7,2265.5L634.5,2293.8L606.5,2295.5ZM632.7,2265.5L660.7,2263.8L662.4,2292.1L634.5,2293.8ZM660.7,2263.8L688.7,2262.1L690.3,2290.4L662.4,2292.1ZM688.7,2262.1L716.7,2260.5L718.3,2288.8L690.3,2290.4ZM716.7,2260.5L744.7,2259.0L746.2,2287.3L718.3,2288.8ZM744.7,2259.0L772.7,2257.5L774.2,2285.8L746.2,2287.3ZM772.7,2257.5L800.7,2256.1L802.1,2284.4L774.2,2285.8ZM1277.7,2240.7L1305.8,2240.3L1306.1,2268.7L1278.1,2269.1ZM1305.8,2240.3L1333.9,2240.0L1334.2,2268.4L1306.1,2268.7ZM1333.9,2240.0L1361.9,2239.7L1362.2,2268.1L1334.2,2268.4ZM1361.9,2239.7L1390.0,2239.5L1390.2,2267.9L1362.2,2268.1ZM1474.3,2239.2L1502.4,2239.3L1502.3,2267.6L1474.3,2267.6ZM634.5,2293.8L662.4,2292.1L664.0,2320.3L636.2,2322.0ZM662.4,2292.1L690.3,2290.4L691.9,2318.7L664.0,2320.3ZM690.3,2290.4L718.3,2288.8L719.8,2317.1L691.9,2318.7ZM718.3,2288.8L746.2,2287.3L747.7,2315.6L719.8,2317.1ZM746.2,2287.3L774.2,2285.8L775.6,2314.1L747.7,2315.6ZM774.2,2285.8L802.1,2284.4L803.5,2312.7L775.6,2314.1ZM1278.1,2269.1L1306.1,2268.7L1306.5,2297.0L1278.5,2297.4ZM1306.1,2268.7L1334.2,2268.4L1334.5,2296.7L1306.5,2297.0ZM1334.2,2268.4L1362.2,2268.1L1362.4,2296.4L1334.5,2296.7ZM1362.2,2268.1L1390.2,2267.9L1390.4,2296.2L1362.4,2296.4ZM747.7,2315.6L775.6,2314.1L777.0,2342.3L749.2,2343.7ZM1362.4,2296.4L1390.4,2296.2L1390.6,2324.5L1362.7,2324.7ZM749.2,2343.7L777.0,2342.3L778.5,2370.4L750.7,2371.9ZM1390.6,2324.5L1418.5,2324.3L1418.6,2352.6L1390.7,2352.7ZM1418.5,2324.3L1446.4,2324.3L1446.5,2352.5L1418.6,2352.6ZM778.5,2370.4L806.2,2369.0L807.6,2397.1L779.9,2398.5ZM1446.5,2352.5L1474.3,2352.4L1474.3,2380.6L1446.5,2380.6ZM809.0,2425.1L836.6,2423.8L837.9,2451.8L810.3,2453.1ZM837.9,2451.8L865.6,2450.5L866.8,2478.5L839.2,2479.7ZM1391.3,2437.0L1419.0,2436.8L1419.1,2464.8L1391.4,2465.0ZM1474.3,2436.7L1502.0,2436.7L1502.0,2464.7L1474.3,2464.7ZM866.8,2478.5L894.4,2477.2L895.6,2505.1L868.0,2506.3ZM1280.9,2466.1L1308.6,2465.8L1308.9,2493.7L1281.3,2494.1ZM1308.6,2465.8L1336.2,2465.5L1336.5,2493.4L1308.9,2493.7ZM1391.4,2465.0L1419.1,2464.8L1419.2,2492.8L1391.6,2492.9ZM1474.3,2464.7L1502.0,2464.7L1501.9,2492.6L1474.4,2492.6ZM868.0,2506.3L895.6,2505.1L896.7,2532.9L869.3,2534.1ZM1419.2,2492.8L1446.8,2492.7L1446.8,2520.5L1419.3,2520.6ZM1474.4,2492.6L1501.9,2492.6L1501.9,2520.5L1474.4,2520.5ZM896.7,2532.9L924.2,2531.8L925.3,2559.6L897.9,2560.7ZM897.9,2560.7L925.3,2559.6L926.4,2587.3L899.1,2588.4ZM899.1,2588.4L926.4,2587.3L927.5,2615.0L900.2,2616.1ZM928.6,2642.6L955.9,2641.5L956.9,2669.1L929.7,2670.1ZM929.7,2670.1L956.9,2669.1L958.0,2696.6L930.8,2697.6ZM930.8,2697.6L958.0,2696.6L959.0,2724.0L931.9,2725.1ZM959.0,2724.0L986.1,2723.0L987.1,2750.4L960.0,2751.4ZM986.1,2723.0L1013.2,2722.0L1014.1,2749.5L987.1,2750.4ZM1094.6,2719.5L1121.7,2718.8L1122.4,2746.2L1095.3,2746.9ZM1122.4,2746.2L1149.5,2745.5L1150.1,2772.9L1123.1,2773.6ZM1150.7,2800.2L1177.7,2799.6L1178.3,2826.8L1151.4,2827.4ZM1231.6,2798.5L1258.6,2798.0L1259.0,2825.3L1232.1,2825.7ZM1258.6,2798.0L1285.6,2797.6L1286.0,2824.9L1259.0,2825.3ZM1285.6,2797.6L1312.6,2797.2L1312.9,2824.5L1286.0,2824.9ZM1312.6,2797.2L1339.5,2796.9L1339.8,2824.2L1312.9,2824.5ZM1339.5,2796.9L1366.5,2796.7L1366.7,2824.0L1339.8,2824.2ZM1474.4,2796.2L1501.4,2796.2L1501.4,2823.5L1474.4,2823.5ZM1232.1,2825.7L1259.0,2825.3L1259.5,2852.5L1232.6,2853.0ZM1259.0,2825.3L1286.0,2824.9L1286.3,2852.1L1259.5,2852.5ZM1286.0,2824.9L1312.9,2824.5L1313.2,2851.7L1286.3,2852.1ZM1312.9,2824.5L1339.8,2824.2L1340.1,2851.4L1313.2,2851.7ZM1339.8,2824.2L1366.7,2824.0L1367.0,2851.2L1340.1,2851.4ZM1474.4,2877.9L1501.3,2877.9L1501.2,2905.0L1474.4,2905.0ZM1420.9,2905.1L1447.7,2905.0L1447.7,2932.1L1421.0,2932.2Z" fill="rgb(255,150,0)" fill-opacity="0.5" stroke="rgb(255,150,0)" stroke-opacity="0.32" stroke-width="0.7" stroke-linejoin="miter"/>
<path d="M888.7,1671.9L917.9,1670.7L919.1,1700.2L890.0,1701.4ZM917.9,1670.7L947.2,1669.5L948.3,1699.0L919.1,1700.2ZM947.2,1669.5L976.4,1668.4L977.5,1697.9L948.3,1699.0ZM976.4,1668.4L1005.7,1667.3L1006.7,1696.9L977.5,1697.9ZM1005.7,1667.3L1034.9,1666.4L1035.9,1695.9L1006.7,1696.9ZM1034.9,1666.4L1064.2,1665.4L1065.1,1695.0L1035.9,1695.9ZM1064.2,1665.4L1093.5,1664.6L1094.3,1694.1L1065.1,1695.0ZM1093.5,1664.6L1122.8,1663.8L1123.5,1693.3L1094.3,1694.1ZM1122.8,1663.8L1152.0,1663.1L1152.7,1692.6L1123.5,1693.3ZM1181.3,1662.4L1210.6,1661.8L1211.2,1691.4L1181.9,1692.0ZM1327.7,1660.0L1357.0,1659.7L1357.3,1689.3L1328.0,1689.6ZM1357.0,1659.7L1386.3,1659.5L1386.5,1689.0L1357.3,1689.3ZM1386.3,1659.5L1415.6,1659.3L1415.7,1688.9L1386.5,1689.0ZM1474.2,1659.1L1503.5,1659.2L1503.4,1688.7L1474.2,1688.7ZM802.4,1705.5L831.6,1704.1L833.0,1733.5L803.9,1734.9ZM831.6,1704.1L860.8,1702.7L862.1,1732.2L833.0,1733.5ZM860.8,1702.7L890.0,1701.4L891.2,1730.9L862.1,1732.2ZM890.0,1701.4L919.1,1700.2L920.3,1729.7L891.2,1730.9ZM919.1,1700.2L948.3,1699.0L949.4,1728.5L920.3,1729.7ZM948.3,1699.0L977.5,1697.9L978.6,1727.4L949.4,1728.5ZM977.5,1697.9L1006.7,1696.9L1007.7,1726.4L978.6,1727.4ZM1006.7,1696.9L1035.9,1695.9L1036.8,1725.4L1007.7,1726.4ZM1035.9,1695.9L1065.1,1695.0L1066.0,1724.5L1036.8,1725.4ZM1123.5,1693.3L1152.7,1692.6L1153.4,1722.1L1124.3,1722.9ZM1152.7,1692.6L1181.9,1692.0L1182.6,1721.5L1153.4,1722.1ZM1328.0,1689.6L1357.3,1689.3L1357.5,1718.8L1328.4,1719.1ZM1357.3,1689.3L1386.5,1689.0L1386.7,1718.6L1357.5,1718.8ZM1474.2,1688.7L1503.4,1688.7L1503.4,1718.3L1474.2,1718.2ZM803.9,1734.9L833.0,1733.5L834.4,1762.9L805.3,1764.3ZM833.0,1733.5L862.1,1732.2L863.4,1761.6L834.4,1762.9ZM862.1,1732.2L891.2,1730.9L892.4,1760.3L863.4,1761.6ZM891.2,1730.9L920.3,1729.7L921.5,1759.1L892.4,1760.3ZM920.3,1729.7L949.4,1728.5L950.6,1757.9L921.5,1759.1ZM949.4,1728.5L978.6,1727.4L979.6,1756.8L950.6,1757.9ZM1007.7,1726.4L1036.8,1725.4L1037.8,1754.8L1008.7,1755.8ZM1036.8,1725.4L1066.0,1724.5L1066.8,1753.9L1037.8,1754.8ZM1328.4,1719.1L1357.5,1718.8L1357.8,1748.2L1328.7,1748.5ZM1357.5,1718.8L1386.7,1718.6L1386.9,1748.0L1357.8,1748.2ZM1474.2,1718.2L1503.4,1718.3L1503.3,1747.7L1474.2,1747.7ZM805.3,1764.3L834.4,1762.9L835.7,1792.3L806.7,1793.6ZM834.4,1762.9L863.4,1761.6L864.7,1790.9L835.7,1792.3ZM863.4,1761.6L892.4,1760.3L893.7,1789.6L864.7,1790.9ZM892.4,1760.3L921.5,1759.1L922.7,1788.4L893.7,1789.6ZM921.5,1759.1L950.6,1757.9L951.7,1787.3L922.7,1788.4ZM1008.7,1755.8L1037.8,1754.8L1038.7,1784.2L1009.7,1785.2ZM1328.7,1748.5L1357.8,1748.2L1358.0,1777.6L1329.0,1777.9ZM1357.8,1748.2L1386.9,1748.0L1387.1,1777.4L1358.0,1777.6ZM1474.2,1747.7L1503.3,1747.7L1503.2,1777.1L1474.2,1777.1ZM777.8,1795.1L806.7,1793.6L808.2,1822.9L779.3,1824.4ZM806.7,1793.6L835.7,1792.3L837.1,1821.5L808.2,1822.9ZM951.7,1787.3L980.7,1786.2L981.7,1815.5L952.8,1816.6ZM980.7,1786.2L1009.7,1785.2L1010.7,1814.5L981.7,1815.5ZM1009.7,1785.2L1038.7,1784.2L1039.6,1813.5L1010.7,1814.5ZM1300.0,1778.3L1329.0,1777.9L1329.3,1807.3L1300.3,1807.6ZM1329.0,1777.9L1358.0,1777.6L1358.3,1807.0L1329.3,1807.3ZM1358.0,1777.6L1387.1,1777.4L1387.3,1806.7L1358.3,1807.0ZM1387.1,1777.4L1416.1,1777.2L1416.2,1806.6L1387.3,1806.7ZM1416.1,1777.2L1445.2,1777.1L1445.2,1806.5L1416.2,1806.6ZM1445.2,1777.1L1474.2,1777.1L1474.2,1806.4L1445.2,1806.5ZM1474.2,1777.1L1503.2,1777.1L1503.2,1806.5L1474.2,1806.4ZM750.3,1825.9L779.3,1824.4L780.7,1853.6L751.9,1855.1ZM779.3,1824.4L808.2,1822.9L809.6,1852.1L780.7,1853.6ZM923.9,1817.7L952.8,1816.6L953.9,1845.8L925.0,1846.9ZM952.8,1816.6L981.7,1815.5L982.8,1844.7L953.9,1845.8ZM981.7,1815.5L1010.7,1814.5L1011.7,1843.7L982.8,1844.7ZM1271.4,1808.0L1300.3,1807.6L1300.7,1836.9L1271.8,1837.3ZM1300.3,1807.6L1329.3,1807.3L1329.6,1836.5L1300.7,1836.9ZM1329.3,1807.3L1358.3,1807.0L1358.5,1836.2L1329.6,1836.5ZM1358.3,1807.0L1387.3,1806.7L1387.5,1836.0L1358.5,1836.2ZM1387.3,1806.7L1416.2,1806.6L1416.4,1835.9L1387.5,1836.0ZM751.9,1855.1L780.7,1853.6L782.2,1882.7L753.4,1884.2ZM780.7,1853.6L809.6,1852.1L811.0,1881.3L782.2,1882.7ZM809.6,1852.1L838.4,1850.7L839.8,1879.9L811.0,1881.3ZM896.2,1848.2L925.0,1846.9L926.2,1876.1L897.4,1877.3ZM925.0,1846.9L953.9,1845.8L955.0,1875.0L926.2,1876.1ZM1271.8,1837.3L1300.7,1836.9L1301.1,1866.1L1272.2,1866.5ZM1300.7,1836.9L1329.6,1836.5L1329.9,1865.7L1301.1,1866.1ZM753.4,1884.2L782.2,1882.7L783.7,1911.8L754.9,1913.3ZM782.2,1882.7L811.0,1881.3L812.4,1910.4L783.7,1911.8ZM811.0,1881.3L839.8,1879.9L841.1,1909.0L812.4,1910.4ZM868.6,1878.6L897.4,1877.3L898.6,1906.4L869.9,1907.7ZM897.4,1877.3L926.2,1876.1L927.4,1905.2L898.6,1906.4ZM926.2,1876.1L955.0,1875.0L956.1,1904.1L927.4,1905.2ZM1243.4,1867.0L1272.2,1866.5L1272.7,1895.6L1243.9,1896.1ZM1272.2,1866.5L1301.1,1866.1L1301.4,1895.2L1272.7,1895.6ZM1301.1,1866.1L1329.9,1865.7L1330.2,1894.9L1301.4,1895.2ZM697.5,1916.4L726.2,1914.8L727.8,1943.8L699.1,1945.4ZM726.2,1914.8L754.9,1913.3L756.4,1942.3L727.8,1943.8ZM754.9,1913.3L783.7,1911.8L785.1,1940.8L756.4,1942.3ZM783.7,1911.8L812.4,1910.4L813.8,1939.4L785.1,1940.8ZM812.4,1910.4L841.1,1909.0L842.5,1938.0L813.8,1939.4ZM841.1,1909.0L869.9,1907.7L871.1,1936.7L842.5,1938.0ZM869.9,1907.7L898.6,1906.4L899.8,1935.5L871.1,1936.7ZM898.6,1906.4L927.4,1905.2L928.5,1934.3L899.8,1935.5ZM927.4,1905.2L956.1,1904.1L957.2,1933.1L928.5,1934.3ZM956.1,1904.1L984.9,1903.0L985.9,1932.1L957.2,1933.1ZM984.9,1903.0L1013.6,1902.0L1014.6,1931.1L985.9,1932.1ZM1215.1,1896.6L1243.9,1896.1L1244.4,1925.2L1215.6,1925.7ZM1243.9,1896.1L1272.7,1895.6L1273.1,1924.7L1244.4,1925.2ZM1272.7,1895.6L1301.4,1895.2L1301.8,1924.3L1273.1,1924.7ZM1301.4,1895.2L1330.2,1894.9L1330.5,1924.0L1301.8,1924.3ZM699.1,1945.4L727.8,1943.8L729.4,1972.8L700.8,1974.4ZM727.8,1943.8L756.4,1942.3L758.0,1971.2L729.4,1972.8ZM756.4,1942.3L785.1,1940.8L786.6,1969.8L758.0,1971.2ZM785.1,1940.8L813.8,1939.4L815.2,1968.3L786.6,1969.8ZM813.8,1939.4L842.5,1938.0L843.8,1967.0L815.2,1968.3ZM842.5,1938.0L871.1,1936.7L872.4,1965.7L843.8,1967.0ZM871.1,1936.7L899.8,1935.5L901.0,1964.4L872.4,1965.7ZM899.8,1935.5L928.5,1934.3L929.7,1963.3L901.0,1964.4ZM928.5,1934.3L957.2,1933.1L958.3,1962.1L929.7,1963.3ZM957.2,1933.1L985.9,1932.1L986.9,1961.1L958.3,1962.1ZM985.9,1932.1L1014.6,1931.1L1015.6,1960.1L986.9,1961.1ZM1186.9,1926.3L1215.6,1925.7L1216.2,1954.7L1187.5,1955.3ZM1215.6,1925.7L1244.4,1925.2L1244.8,1954.2L1216.2,1954.7ZM786.6,1969.8L815.2,1968.3L816.6,1997.2L788.0,1998.7ZM815.2,1968.3L843.8,1967.0L845.1,1995.9L816.6,1997.2ZM843.8,1967.0L872.4,1965.7L873.7,1994.6L845.1,1995.9ZM872.4,1965.7L901.0,1964.4L902.2,1993.4L873.7,1994.6ZM901.0,1964.4L929.7,1963.3L930.8,1992.2L902.2,1993.4ZM929.7,1963.3L958.3,1962.1L959.4,1991.1L930.8,1992.2ZM958.3,1962.1L986.9,1961.1L988.0,1990.0L959.4,1991.1ZM986.9,1961.1L1015.6,1960.1L1016.5,1989.0L988.0,1990.0ZM1015.6,1960.1L1044.2,1959.1L1045.1,1988.1L1016.5,1989.0ZM1130.2,1956.7L1158.8,1956.0L1159.5,1984.9L1130.9,1985.6ZM1158.8,1956.0L1187.5,1955.3L1188.1,1984.3L1159.5,1984.9ZM1187.5,1955.3L1216.2,1954.7L1216.7,1983.7L1188.1,1984.3ZM845.1,1995.9L873.7,1994.6L874.9,2023.4L846.4,2024.7ZM873.7,1994.6L902.2,1993.4L903.4,2022.2L874.9,2023.4ZM902.2,1993.4L930.8,1992.2L931.9,2021.0L903.4,2022.2ZM930.8,1992.2L959.4,1991.1L960.5,2019.9L931.9,2021.0ZM959.4,1991.1L988.0,1990.0L989.0,2018.9L960.5,2019.9ZM988.0,1990.0L1016.5,1989.0L1017.5,2017.9L989.0,2018.9ZM1016.5,1989.0L1045.1,1988.1L1046.0,2016.9L1017.5,2017.9ZM1045.1,1988.1L1073.7,1987.2L1074.6,2016.1L1046.0,2016.9ZM1102.3,1986.4L1130.9,1985.6L1131.6,2014.5L1103.1,2015.3ZM1130.9,1985.6L1159.5,1984.9L1160.2,2013.8L1131.6,2014.5ZM1159.5,1984.9L1188.1,1984.3L1188.7,2013.2L1160.2,2013.8ZM846.4,2024.7L874.9,2023.4L876.2,2052.2L847.7,2053.5ZM874.9,2023.4L903.4,2022.2L904.6,2051.0L876.2,2052.2ZM903.4,2022.2L931.9,2021.0L933.1,2049.9L904.6,2051.0ZM931.9,2021.0L960.5,2019.9L961.5,2048.7L933.1,2049.9ZM960.5,2019.9L989.0,2018.9L990.0,2047.7L961.5,2048.7ZM989.0,2018.9L1017.5,2017.9L1018.5,2046.7L990.0,2047.7ZM1017.5,2017.9L1046.0,2016.9L1046.9,2045.8L1018.5,2046.7ZM1046.0,2016.9L1074.6,2016.1L1075.4,2044.9L1046.9,2045.8ZM1074.6,2016.1L1103.1,2015.3L1103.9,2044.1L1075.4,2044.9ZM1103.1,2015.3L1131.6,2014.5L1132.4,2043.3L1103.9,2044.1ZM1131.6,2014.5L1160.2,2013.8L1160.8,2042.6L1132.4,2043.3ZM876.2,2052.2L904.6,2051.0L905.8,2079.8L877.4,2081.0ZM904.6,2051.0L933.1,2049.9L934.2,2078.6L905.8,2079.8ZM933.1,2049.9L961.5,2048.7L962.6,2077.5L934.2,2078.6ZM961.5,2048.7L990.0,2047.7L991.0,2076.5L962.6,2077.5ZM990.0,2047.7L1018.5,2046.7L1019.4,2075.5L991.0,2076.5ZM1018.5,2046.7L1046.9,2045.8L1047.8,2074.5L1019.4,2075.5ZM1046.9,2045.8L1075.4,2044.9L1076.2,2073.7L1047.8,2074.5ZM1075.4,2044.9L1103.9,2044.1L1104.6,2072.9L1076.2,2073.7ZM1103.9,2044.1L1132.4,2043.3L1133.1,2072.1L1104.6,2072.9ZM877.4,2081.0L905.8,2079.8L907.0,2108.4L878.7,2109.7ZM905.8,2079.8L934.2,2078.6L935.3,2107.3L907.0,2108.4ZM934.2,2078.6L962.6,2077.5L963.7,2106.2L935.3,2107.3ZM962.6,2077.5L991.0,2076.5L992.0,2105.1L963.7,2106.2ZM991.0,2076.5L1019.4,2075.5L1020.4,2104.2L992.0,2105.1ZM1019.4,2075.5L1047.8,2074.5L1048.7,2103.2L1020.4,2104.2ZM1047.8,2074.5L1076.2,2073.7L1077.1,2102.4L1048.7,2103.2ZM1076.2,2073.7L1104.6,2072.9L1105.4,2101.6L1077.1,2102.4ZM1104.6,2072.9L1133.1,2072.1L1133.8,2100.8L1105.4,2101.6ZM1133.1,2072.1L1161.5,2071.4L1162.1,2100.1L1133.8,2100.8ZM878.7,2109.7L907.0,2108.4L908.2,2137.1L879.9,2138.3ZM907.0,2108.4L935.3,2107.3L936.5,2135.9L908.2,2137.1ZM935.3,2107.3L963.7,2106.2L964.7,2134.8L936.5,2135.9ZM963.7,2106.2L992.0,2105.1L993.0,2133.8L964.7,2134.8ZM992.0,2105.1L1020.4,2104.2L1021.3,2132.8L993.0,2133.8ZM1020.4,2104.2L1048.7,2103.2L1049.6,2131.9L1021.3,2132.8ZM1048.7,2103.2L1077.1,2102.4L1077.9,2131.0L1049.6,2131.9ZM1077.1,2102.4L1105.4,2101.6L1106.2,2130.2L1077.9,2131.0ZM1105.4,2101.6L1133.8,2100.8L1134.5,2129.5L1106.2,2130.2ZM1133.8,2100.8L1162.1,2100.1L1162.8,2128.8L1134.5,2129.5ZM1162.1,2100.1L1190.5,2099.5L1191.1,2128.2L1162.8,2128.8ZM1190.5,2099.5L1218.9,2098.9L1219.4,2127.6L1191.1,2128.2ZM766.9,2143.7L795.1,2142.3L796.5,2170.8L768.4,2172.3ZM795.1,2142.3L823.4,2140.9L824.7,2169.4L796.5,2170.8ZM823.4,2140.9L851.6,2139.6L852.9,2168.1L824.7,2169.4ZM851.6,2139.6L879.9,2138.3L881.1,2166.8L852.9,2168.1ZM879.9,2138.3L908.2,2137.1L909.4,2165.6L881.1,2166.8ZM908.2,2137.1L936.5,2135.9L937.6,2164.5L909.4,2165.6ZM936.5,2135.9L964.7,2134.8L965.8,2163.4L937.6,2164.5ZM964.7,2134.8L993.0,2133.8L994.0,2162.4L965.8,2163.4ZM993.0,2133.8L1021.3,2132.8L1022.3,2161.4L994.0,2162.4ZM1077.9,2131.0L1106.2,2130.2L1107.0,2158.8L1078.7,2159.6ZM1106.2,2130.2L1134.5,2129.5L1135.2,2158.1L1107.0,2158.8ZM1134.5,2129.5L1162.8,2128.8L1163.5,2157.4L1135.2,2158.1ZM1162.8,2128.8L1191.1,2128.2L1191.7,2156.8L1163.5,2157.4ZM1191.1,2128.2L1219.4,2127.6L1220.0,2156.2L1191.7,2156.8ZM1219.4,2127.6L1247.7,2127.1L1248.2,2155.7L1220.0,2156.2ZM1247.7,2127.1L1276.0,2126.6L1276.5,2155.2L1248.2,2155.7ZM1276.0,2126.6L1304.4,2126.2L1304.7,2154.9L1276.5,2155.2ZM1304.4,2126.2L1332.7,2125.9L1333.0,2154.5L1304.7,2154.9ZM1332.7,2125.9L1361.0,2125.6L1361.2,2154.3L1333.0,2154.5ZM712.0,2175.3L740.2,2173.8L741.7,2202.2L713.6,2203.8ZM740.2,2173.8L768.4,2172.3L769.8,2200.7L741.7,2202.2ZM768.4,2172.3L796.5,2170.8L797.9,2199.3L769.8,2200.7ZM796.5,2170.8L824.7,2169.4L826.1,2197.9L797.9,2199.3ZM824.7,2169.4L852.9,2168.1L854.2,2196.6L826.1,2197.9ZM852.9,2168.1L881.1,2166.8L882.4,2195.3L854.2,2196.6ZM881.1,2166.8L909.4,2165.6L910.5,2194.1L882.4,2195.3ZM909.4,2165.6L937.6,2164.5L938.7,2193.0L910.5,2194.1ZM937.6,2164.5L965.8,2163.4L966.9,2191.9L938.7,2193.0ZM965.8,2163.4L994.0,2162.4L995.0,2190.9L966.9,2191.9ZM994.0,2162.4L1022.3,2161.4L1023.2,2189.9L995.0,2190.9ZM1107.0,2158.8L1135.2,2158.1L1135.9,2186.6L1107.7,2187.4ZM1135.2,2158.1L1163.5,2157.4L1164.1,2185.9L1135.9,2186.6ZM1163.5,2157.4L1191.7,2156.8L1192.3,2185.3L1164.1,2185.9ZM1191.7,2156.8L1220.0,2156.2L1220.5,2184.8L1192.3,2185.3ZM1220.0,2156.2L1248.2,2155.7L1248.7,2184.2L1220.5,2184.8ZM1248.2,2155.7L1276.5,2155.2L1276.9,2183.8L1248.7,2184.2ZM1276.5,2155.2L1304.7,2154.9L1305.1,2183.4L1276.9,2183.8ZM1304.7,2154.9L1333.0,2154.5L1333.3,2183.1L1305.1,2183.4ZM1333.0,2154.5L1361.2,2154.3L1361.5,2182.8L1333.3,2183.1ZM1361.2,2154.3L1389.5,2154.0L1389.7,2182.6L1361.5,2182.8ZM713.6,2203.8L741.7,2202.2L743.2,2230.6L715.1,2232.2ZM741.7,2202.2L769.8,2200.7L771.3,2229.2L743.2,2230.6ZM769.8,2200.7L797.9,2199.3L799.3,2227.7L771.3,2229.2ZM797.9,2199.3L826.1,2197.9L827.4,2226.4L799.3,2227.7ZM826.1,2197.9L854.2,2196.6L855.5,2225.0L827.4,2226.4ZM854.2,2196.6L882.4,2195.3L883.6,2223.8L855.5,2225.0ZM882.4,2195.3L910.5,2194.1L911.7,2222.6L883.6,2223.8ZM910.5,2194.1L938.7,2193.0L939.8,2221.5L911.7,2222.6ZM938.7,2193.0L966.9,2191.9L967.9,2220.4L939.8,2221.5ZM966.9,2191.9L995.0,2190.9L996.0,2219.4L967.9,2220.4ZM995.0,2190.9L1023.2,2189.9L1024.1,2218.4L996.0,2219.4ZM1107.7,2187.4L1135.9,2186.6L1136.6,2215.1L1108.5,2215.8ZM1135.9,2186.6L1164.1,2185.9L1164.7,2214.4L1136.6,2215.1ZM1164.1,2185.9L1192.3,2185.3L1192.9,2213.8L1164.7,2214.4ZM1192.3,2185.3L1220.5,2184.8L1221.0,2213.2L1192.9,2213.8ZM1220.5,2184.8L1248.7,2184.2L1249.1,2212.7L1221.0,2213.2ZM1248.7,2184.2L1276.9,2183.8L1277.3,2212.3L1249.1,2212.7ZM1276.9,2183.8L1305.1,2183.4L1305.4,2211.9L1277.3,2212.3ZM1305.1,2183.4L1333.3,2183.1L1333.6,2211.6L1305.4,2211.9ZM1333.3,2183.1L1361.5,2182.8L1361.7,2211.3L1333.6,2211.6ZM1361.5,2182.8L1389.7,2182.6L1389.9,2211.1L1361.7,2211.3ZM715.1,2232.2L743.2,2230.6L744.7,2259.0L716.7,2260.5ZM743.2,2230.6L771.3,2229.2L772.7,2257.5L744.7,2259.0ZM771.3,2229.2L799.3,2227.7L800.7,2256.1L772.7,2257.5ZM799.3,2227.7L827.4,2226.4L828.8,2254.7L800.7,2256.1ZM827.4,2226.4L855.5,2225.0L856.8,2253.4L828.8,2254.7ZM855.5,2225.0L883.6,2223.8L884.8,2252.2L856.8,2253.4ZM883.6,2223.8L911.7,2222.6L912.9,2251.0L884.8,2252.2ZM911.7,2222.6L939.8,2221.5L940.9,2249.9L912.9,2251.0ZM939.8,2221.5L967.9,2220.4L968.9,2248.8L940.9,2249.9ZM967.9,2220.4L996.0,2219.4L997.0,2247.8L968.9,2248.8ZM1024.1,2218.4L1052.2,2217.5L1053.1,2245.9L1025.1,2246.8ZM1052.2,2217.5L1080.4,2216.6L1081.2,2245.0L1053.1,2245.9ZM1080.4,2216.6L1108.5,2215.8L1109.2,2244.3L1081.2,2245.0ZM1192.9,2213.8L1221.0,2213.2L1221.5,2241.7L1193.5,2242.2ZM1221.0,2213.2L1249.1,2212.7L1249.6,2241.2L1221.5,2241.7ZM1249.1,2212.7L1277.3,2212.3L1277.7,2240.7L1249.6,2241.2ZM1277.3,2212.3L1305.4,2211.9L1305.8,2240.3L1277.7,2240.7ZM1305.4,2211.9L1333.6,2211.6L1333.9,2240.0L1305.8,2240.3ZM800.7,2256.1L828.8,2254.7L830.1,2283.1L802.1,2284.4ZM828.8,2254.7L856.8,2253.4L858.1,2281.8L830.1,2283.1ZM856.8,2253.4L884.8,2252.2L886.0,2280.5L858.1,2281.8ZM1053.1,2245.9L1081.2,2245.0L1082.0,2273.4L1054.0,2274.2ZM1081.2,2245.0L1109.2,2244.3L1110.0,2272.6L1082.0,2273.4ZM802.1,2284.4L830.1,2283.1L831.4,2311.3L803.5,2312.7ZM830.1,2283.1L858.1,2281.8L859.3,2310.0L831.4,2311.3ZM858.1,2281.8L886.0,2280.5L887.2,2308.8L859.3,2310.0ZM886.0,2280.5L914.0,2279.3L915.2,2307.6L887.2,2308.8ZM775.6,2314.1L803.5,2312.7L804.9,2340.9L777.0,2342.3ZM803.5,2312.7L831.4,2311.3L832.7,2339.5L804.9,2340.9ZM831.4,2311.3L859.3,2310.0L860.6,2338.2L832.7,2339.5ZM859.3,2310.0L887.2,2308.8L888.4,2337.0L860.6,2338.2ZM887.2,2308.8L915.2,2307.6L916.3,2335.8L888.4,2337.0ZM915.2,2307.6L943.1,2306.5L944.2,2334.7L916.3,2335.8ZM943.1,2306.5L971.0,2305.4L972.1,2333.6L944.2,2334.7ZM971.0,2305.4L999.0,2304.4L999.9,2332.6L972.1,2333.6ZM1306.5,2297.0L1334.5,2296.7L1334.7,2325.0L1306.8,2325.3ZM1334.5,2296.7L1362.4,2296.4L1362.7,2324.7L1334.7,2325.0ZM777.0,2342.3L804.9,2340.9L806.2,2369.0L778.5,2370.4ZM916.3,2335.8L944.2,2334.7L945.3,2362.9L917.5,2364.0ZM944.2,2334.7L972.1,2333.6L973.1,2361.8L945.3,2362.9ZM972.1,2333.6L999.9,2332.6L1000.9,2360.8L973.1,2361.8ZM1334.7,2325.0L1362.7,2324.7L1362.9,2352.9L1335.0,2353.2ZM1362.7,2324.7L1390.6,2324.5L1390.7,2352.7L1362.9,2352.9ZM806.2,2369.0L834.0,2367.7L835.3,2395.8L807.6,2397.1ZM1335.0,2353.2L1362.9,2352.9L1363.1,2381.1L1335.3,2381.3ZM1362.9,2352.9L1390.7,2352.7L1390.9,2380.9L1363.1,2381.1ZM1390.7,2352.7L1418.6,2352.6L1418.7,2380.7L1390.9,2380.9ZM1418.6,2352.6L1446.5,2352.5L1446.5,2380.6L1418.7,2380.7ZM807.6,2397.1L835.3,2395.8L836.6,2423.8L809.0,2425.1ZM1279.7,2382.0L1307.5,2381.7L1307.9,2409.8L1280.1,2410.1ZM1307.5,2381.7L1335.3,2381.3L1335.6,2409.4L1307.9,2409.8ZM1335.3,2381.3L1363.1,2381.1L1363.4,2409.2L1335.6,2409.4ZM1363.1,2381.1L1390.9,2380.9L1391.1,2409.0L1363.4,2409.2ZM1390.9,2380.9L1418.7,2380.7L1418.8,2408.8L1391.1,2409.0ZM1418.7,2380.7L1446.5,2380.6L1446.6,2408.7L1418.8,2408.8ZM1446.5,2380.6L1474.3,2380.6L1474.3,2408.7L1446.6,2408.7ZM1474.3,2380.6L1502.1,2380.6L1502.1,2408.7L1474.3,2408.7ZM836.6,2423.8L864.3,2422.5L865.6,2450.5L837.9,2451.8ZM1224.7,2411.1L1252.4,2410.6L1252.8,2438.6L1225.2,2439.1ZM1252.4,2410.6L1280.1,2410.1L1280.5,2438.2L1252.8,2438.6ZM1280.1,2410.1L1307.9,2409.8L1308.2,2437.8L1280.5,2438.2ZM1307.9,2409.8L1335.6,2409.4L1335.9,2437.5L1308.2,2437.8ZM1335.6,2409.4L1363.4,2409.2L1363.6,2437.2L1335.9,2437.5ZM1363.4,2409.2L1391.1,2409.0L1391.3,2437.0L1363.6,2437.2ZM1391.1,2409.0L1418.8,2408.8L1419.0,2436.8L1391.3,2437.0ZM1418.8,2408.8L1446.6,2408.7L1446.7,2436.8L1419.0,2436.8ZM1446.6,2408.7L1474.3,2408.7L1474.3,2436.7L1446.7,2436.8ZM1474.3,2408.7L1502.1,2408.7L1502.0,2436.7L1474.3,2436.7ZM865.6,2450.5L893.2,2449.3L894.4,2477.2L866.8,2478.5ZM1197.5,2439.6L1225.2,2439.1L1225.7,2467.1L1198.1,2467.6ZM1225.2,2439.1L1252.8,2438.6L1253.3,2466.6L1225.7,2467.1ZM1252.8,2438.6L1280.5,2438.2L1280.9,2466.1L1253.3,2466.6ZM1280.5,2438.2L1308.2,2437.8L1308.6,2465.8L1280.9,2466.1ZM1308.2,2437.8L1335.9,2437.5L1336.2,2465.5L1308.6,2465.8ZM1335.9,2437.5L1363.6,2437.2L1363.8,2465.2L1336.2,2465.5ZM1363.6,2437.2L1391.3,2437.0L1391.4,2465.0L1363.8,2465.2ZM894.4,2477.2L922.0,2476.1L923.1,2504.0L895.6,2505.1ZM1336.2,2465.5L1363.8,2465.2L1364.0,2493.1L1336.5,2493.4ZM1363.8,2465.2L1391.4,2465.0L1391.6,2492.9L1364.0,2493.1ZM895.6,2505.1L923.1,2504.0L924.2,2531.8L896.7,2532.9ZM923.1,2504.0L950.6,2502.9L951.7,2530.7L924.2,2531.8ZM1336.5,2493.4L1364.0,2493.1L1364.3,2521.0L1336.8,2521.2ZM1364.0,2493.1L1391.6,2492.9L1391.8,2520.8L1364.3,2521.0ZM1391.6,2492.9L1419.2,2492.8L1419.3,2520.6L1391.8,2520.8ZM924.2,2531.8L951.7,2530.7L952.8,2558.5L925.3,2559.6ZM951.7,2530.7L979.2,2529.7L980.2,2557.5L952.8,2558.5ZM1391.8,2520.8L1419.3,2520.6L1419.4,2548.5L1392.0,2548.6ZM1419.3,2520.6L1446.8,2520.5L1446.9,2548.4L1419.4,2548.5ZM1446.8,2520.5L1474.4,2520.5L1474.4,2548.3L1446.9,2548.4ZM1474.4,2520.5L1501.9,2520.5L1501.8,2548.3L1474.4,2548.3ZM925.3,2559.6L952.8,2558.5L953.8,2586.2L926.4,2587.3ZM952.8,2558.5L980.2,2557.5L981.2,2585.2L953.8,2586.2ZM980.2,2557.5L1007.6,2556.5L1008.6,2584.2L981.2,2585.2ZM1419.4,2548.5L1446.9,2548.4L1447.0,2576.1L1419.6,2576.2ZM1446.9,2548.4L1474.4,2548.3L1474.4,2576.1L1447.0,2576.1ZM1474.4,2548.3L1501.8,2548.3L1501.8,2576.1L1474.4,2576.1ZM926.4,2587.3L953.8,2586.2L954.9,2613.9L927.5,2615.0ZM953.8,2586.2L981.2,2585.2L982.2,2612.9L954.9,2613.9ZM981.2,2585.2L1008.6,2584.2L1009.5,2611.9L982.2,2612.9ZM927.5,2615.0L954.9,2613.9L955.9,2641.5L928.6,2642.6ZM954.9,2613.9L982.2,2612.9L983.2,2640.5L955.9,2641.5ZM982.2,2612.9L1009.5,2611.9L1010.4,2639.5L983.2,2640.5ZM955.9,2641.5L983.2,2640.5L984.1,2668.0L956.9,2669.1ZM1065.0,2637.7L1092.3,2636.9L1093.0,2664.5L1065.8,2665.3ZM956.9,2669.1L984.1,2668.0L985.1,2695.5L958.0,2696.6ZM1038.6,2666.2L1065.8,2665.3L1066.6,2692.8L1039.5,2693.7ZM1065.8,2665.3L1093.0,2664.5L1093.8,2692.0L1066.6,2692.8ZM958.0,2696.6L985.1,2695.5L986.1,2723.0L959.0,2724.0ZM985.1,2695.5L1012.3,2694.6L1013.2,2722.0L986.1,2723.0ZM1012.3,2694.6L1039.5,2693.7L1040.3,2721.1L1013.2,2722.0ZM1039.5,2693.7L1066.6,2692.8L1067.4,2720.3L1040.3,2721.1ZM1066.6,2692.8L1093.8,2692.0L1094.6,2719.5L1067.4,2720.3ZM1093.8,2692.0L1121.0,2691.3L1121.7,2718.8L1094.6,2719.5ZM1121.0,2691.3L1148.1,2690.6L1148.8,2718.1L1121.7,2718.8ZM1121.7,2718.8L1148.8,2718.1L1149.5,2745.5L1122.4,2746.2ZM1285.2,2770.3L1312.2,2769.9L1312.6,2797.2L1285.6,2797.6ZM1312.2,2769.9L1339.3,2769.6L1339.5,2796.9L1312.6,2797.2ZM1339.3,2769.6L1366.3,2769.4L1366.5,2796.7L1339.5,2796.9ZM1366.3,2769.4L1393.3,2769.2L1393.5,2796.5L1366.5,2796.7ZM1393.3,2769.2L1420.4,2769.0L1420.5,2796.3L1393.5,2796.5ZM1420.4,2769.0L1447.4,2768.9L1447.4,2796.3L1420.5,2796.3ZM1447.4,2768.9L1474.4,2768.9L1474.4,2796.2L1447.4,2796.3ZM1447.7,2905.0L1474.4,2905.0L1474.5,2932.1L1447.7,2932.1ZM1474.4,2905.0L1501.2,2905.0L1501.2,2932.1L1474.5,2932.1ZM1394.3,2932.3L1421.0,2932.2L1421.1,2959.2L1394.5,2959.3ZM1421.0,2932.2L1447.7,2932.1L1447.8,2959.1L1421.1,2959.2ZM1447.7,2932.1L1474.5,2932.1L1474.5,2959.1L1447.8,2959.1ZM1474.5,2932.1L1501.2,2932.1L1501.1,2959.1L1474.5,2959.1ZM1367.8,2959.5L1394.5,2959.3L1394.6,2986.3L1368.0,2986.5ZM1394.5,2959.3L1421.1,2959.2L1421.2,2986.2L1394.6,2986.3ZM1421.1,2959.2L1447.8,2959.1L1447.9,2986.1L1421.2,2986.2ZM1447.8,2959.1L1474.5,2959.1L1474.5,2986.0L1447.9,2986.1ZM1474.5,2959.1L1501.1,2959.1L1501.1,2986.1L1474.5,2986.0Z" fill="rgb(255,100,0)" fill-opacity="0.5" stroke="rgb(255,100,0)" stroke-opacity="0.32" stroke-width="0.7" stroke-linejoin="miter"/>
<path d="M1210.6,1661.8L1239.9,1661.2L1240.4,1690.8L1211.2,1691.4ZM1239.9,1661.2L1269.1,1660.8L1269.6,1690.3L1240.4,1690.8ZM1269.1,1660.8L1298.4,1660.3L1298.8,1689.9L1269.6,1690.3ZM1298.4,1660.3L1327.7,1660.0L1328.0,1689.6L1298.8,1689.9ZM1415.6,1659.3L1444.9,1659.2L1445.0,1688.8L1415.7,1688.9ZM1444.9,1659.2L1474.2,1659.1L1474.2,1688.7L1445.0,1688.8ZM1065.1,1695.0L1094.3,1694.1L1095.1,1723.6L1066.0,1724.5ZM1094.3,1694.1L1123.5,1693.3L1124.3,1722.9L1095.1,1723.6ZM1181.9,1692.0L1211.2,1691.4L1211.7,1720.9L1182.6,1721.5ZM1269.6,1690.3L1298.8,1689.9L1299.2,1719.4L1270.0,1719.8ZM1298.8,1689.9L1328.0,1689.6L1328.4,1719.1L1299.2,1719.4ZM1386.5,1689.0L1415.7,1688.9L1415.9,1718.4L1386.7,1718.6ZM1415.7,1688.9L1445.0,1688.8L1445.0,1718.3L1415.9,1718.4ZM1445.0,1688.8L1474.2,1688.7L1474.2,1718.2L1445.0,1718.3ZM1066.0,1724.5L1095.1,1723.6L1095.9,1753.1L1066.8,1753.9ZM1095.1,1723.6L1124.3,1722.9L1125.0,1752.3L1095.9,1753.1ZM1124.3,1722.9L1153.4,1722.1L1154.1,1751.6L1125.0,1752.3ZM1153.4,1722.1L1182.6,1721.5L1183.2,1750.9L1154.1,1751.6ZM1270.0,1719.8L1299.2,1719.4L1299.6,1748.9L1270.5,1749.3ZM1299.2,1719.4L1328.4,1719.1L1328.7,1748.5L1299.6,1748.9ZM1386.7,1718.6L1415.9,1718.4L1416.0,1747.9L1386.9,1748.0ZM1415.9,1718.4L1445.0,1718.3L1445.1,1747.7L1416.0,1747.9ZM1445.0,1718.3L1474.2,1718.2L1474.2,1747.7L1445.1,1747.7ZM1037.8,1754.8L1066.8,1753.9L1067.7,1783.3L1038.7,1784.2ZM1270.5,1749.3L1299.6,1748.9L1300.0,1778.3L1270.9,1778.7ZM1299.6,1748.9L1328.7,1748.5L1329.0,1777.9L1300.0,1778.3ZM1386.9,1748.0L1416.0,1747.9L1416.1,1777.2L1387.1,1777.4ZM1416.0,1747.9L1445.1,1747.7L1445.2,1777.1L1416.1,1777.2ZM1445.1,1747.7L1474.2,1747.7L1474.2,1777.1L1445.2,1777.1ZM1038.7,1784.2L1067.7,1783.3L1068.6,1812.6L1039.6,1813.5ZM1270.9,1778.7L1300.0,1778.3L1300.3,1807.6L1271.4,1808.0ZM1010.7,1814.5L1039.6,1813.5L1040.6,1842.8L1011.7,1843.7ZM1242.4,1808.5L1271.4,1808.0L1271.8,1837.3L1242.9,1837.8ZM953.9,1845.8L982.8,1844.7L983.8,1873.9L955.0,1875.0ZM982.8,1844.7L1011.7,1843.7L1012.7,1872.9L983.8,1873.9ZM1011.7,1843.7L1040.6,1842.8L1041.5,1871.9L1012.7,1872.9ZM1242.9,1837.8L1271.8,1837.3L1272.2,1866.5L1243.4,1867.0ZM955.0,1875.0L983.8,1873.9L984.9,1903.0L956.1,1904.1ZM983.8,1873.9L1012.7,1872.9L1013.6,1902.0L984.9,1903.0ZM1012.7,1872.9L1041.5,1871.9L1042.4,1901.1L1013.6,1902.0ZM1214.5,1867.5L1243.4,1867.0L1243.9,1896.1L1215.1,1896.6ZM1013.6,1902.0L1042.4,1901.1L1043.3,1930.1L1014.6,1931.1ZM1186.3,1897.2L1215.1,1896.6L1215.6,1925.7L1186.9,1926.3ZM1014.6,1931.1L1043.3,1930.1L1044.2,1959.1L1015.6,1960.1ZM1043.3,1930.1L1072.0,1929.2L1072.9,1958.2L1044.2,1959.1ZM1129.5,1927.6L1158.2,1926.9L1158.8,1956.0L1130.2,1956.7ZM1158.2,1926.9L1186.9,1926.3L1187.5,1955.3L1158.8,1956.0ZM1044.2,1959.1L1072.9,1958.2L1073.7,1987.2L1045.1,1988.1ZM1072.9,1958.2L1101.5,1957.4L1102.3,1986.4L1073.7,1987.2ZM1101.5,1957.4L1130.2,1956.7L1130.9,1985.6L1102.3,1986.4ZM1073.7,1987.2L1102.3,1986.4L1103.1,2015.3L1074.6,2016.1ZM1021.3,2132.8L1049.6,2131.9L1050.5,2160.5L1022.3,2161.4ZM1049.6,2131.9L1077.9,2131.0L1078.7,2159.6L1050.5,2160.5ZM1022.3,2161.4L1050.5,2160.5L1051.4,2189.0L1023.2,2189.9ZM1050.5,2160.5L1078.7,2159.6L1079.5,2188.2L1051.4,2189.0ZM1078.7,2159.6L1107.0,2158.8L1107.7,2187.4L1079.5,2188.2ZM1023.2,2189.9L1051.4,2189.0L1052.2,2217.5L1024.1,2218.4ZM1051.4,2189.0L1079.5,2188.2L1080.4,2216.6L1052.2,2217.5ZM1079.5,2188.2L1107.7,2187.4L1108.5,2215.8L1080.4,2216.6ZM996.0,2219.4L1024.1,2218.4L1025.1,2246.8L997.0,2247.8ZM1108.5,2215.8L1136.6,2215.1L1137.3,2243.5L1109.2,2244.3ZM1136.6,2215.1L1164.7,2214.4L1165.4,2242.8L1137.3,2243.5ZM1164.7,2214.4L1192.9,2213.8L1193.5,2242.2L1165.4,2242.8ZM884.8,2252.2L912.9,2251.0L914.0,2279.3L886.0,2280.5ZM912.9,2251.0L940.9,2249.9L942.0,2278.2L914.0,2279.3ZM940.9,2249.9L968.9,2248.8L970.0,2277.1L942.0,2278.2ZM968.9,2248.8L997.0,2247.8L998.0,2276.1L970.0,2277.1ZM997.0,2247.8L1025.1,2246.8L1026.0,2275.1L998.0,2276.1ZM1025.1,2246.8L1053.1,2245.9L1054.0,2274.2L1026.0,2275.1ZM1109.2,2244.3L1137.3,2243.5L1138.0,2271.9L1110.0,2272.6ZM1137.3,2243.5L1165.4,2242.8L1166.0,2271.2L1138.0,2271.9ZM1165.4,2242.8L1193.5,2242.2L1194.0,2270.6L1166.0,2271.2ZM1193.5,2242.2L1221.5,2241.7L1222.1,2270.0L1194.0,2270.6ZM1221.5,2241.7L1249.6,2241.2L1250.1,2269.5L1222.1,2270.0ZM1249.6,2241.2L1277.7,2240.7L1278.1,2269.1L1250.1,2269.5ZM914.0,2279.3L942.0,2278.2L943.1,2306.5L915.2,2307.6ZM942.0,2278.2L970.0,2277.1L971.0,2305.4L943.1,2306.5ZM970.0,2277.1L998.0,2276.1L999.0,2304.4L971.0,2305.4ZM998.0,2276.1L1026.0,2275.1L1026.9,2303.4L999.0,2304.4ZM1026.0,2275.1L1054.0,2274.2L1054.9,2302.5L1026.9,2303.4ZM1054.0,2274.2L1082.0,2273.4L1082.8,2301.7L1054.9,2302.5ZM1082.0,2273.4L1110.0,2272.6L1110.8,2300.9L1082.8,2301.7ZM1110.0,2272.6L1138.0,2271.9L1138.7,2300.2L1110.8,2300.9ZM1194.0,2270.6L1222.1,2270.0L1222.6,2298.4L1194.6,2298.9ZM1222.1,2270.0L1250.1,2269.5L1250.5,2297.9L1222.6,2298.4ZM1250.1,2269.5L1278.1,2269.1L1278.5,2297.4L1250.5,2297.9ZM999.0,2304.4L1026.9,2303.4L1027.8,2331.7L999.9,2332.6ZM1026.9,2303.4L1054.9,2302.5L1055.7,2330.8L1027.8,2331.7ZM1054.9,2302.5L1082.8,2301.7L1083.6,2330.0L1055.7,2330.8ZM1082.8,2301.7L1110.8,2300.9L1111.5,2329.2L1083.6,2330.0ZM1110.8,2300.9L1138.7,2300.2L1139.4,2328.4L1111.5,2329.2ZM1222.6,2298.4L1250.5,2297.9L1251.0,2326.1L1223.1,2326.6ZM1250.5,2297.9L1278.5,2297.4L1278.9,2325.7L1251.0,2326.1ZM1278.5,2297.4L1306.5,2297.0L1306.8,2325.3L1278.9,2325.7ZM804.9,2340.9L832.7,2339.5L834.0,2367.7L806.2,2369.0ZM832.7,2339.5L860.6,2338.2L861.8,2366.4L834.0,2367.7ZM860.6,2338.2L888.4,2337.0L889.6,2365.2L861.8,2366.4ZM888.4,2337.0L916.3,2335.8L917.5,2364.0L889.6,2365.2ZM999.9,2332.6L1027.8,2331.7L1028.7,2359.9L1000.9,2360.8ZM1027.8,2331.7L1055.7,2330.8L1056.6,2359.0L1028.7,2359.9ZM1055.7,2330.8L1083.6,2330.0L1084.4,2358.1L1056.6,2359.0ZM1083.6,2330.0L1111.5,2329.2L1112.2,2357.4L1084.4,2358.1ZM1111.5,2329.2L1139.4,2328.4L1140.1,2356.6L1112.2,2357.4ZM1278.9,2325.7L1306.8,2325.3L1307.2,2353.5L1279.3,2353.9ZM1306.8,2325.3L1334.7,2325.0L1335.0,2353.2L1307.2,2353.5ZM834.0,2367.7L861.8,2366.4L863.1,2394.5L835.3,2395.8ZM889.6,2365.2L917.5,2364.0L918.6,2392.1L890.8,2393.3ZM917.5,2364.0L945.3,2362.9L946.4,2391.0L918.6,2392.1ZM945.3,2362.9L973.1,2361.8L974.1,2389.9L946.4,2391.0ZM973.1,2361.8L1000.9,2360.8L1001.9,2388.9L974.1,2389.9ZM1000.9,2360.8L1028.7,2359.9L1029.7,2388.0L1001.9,2388.9ZM1056.6,2359.0L1084.4,2358.1L1085.2,2386.3L1057.4,2387.1ZM1084.4,2358.1L1112.2,2357.4L1113.0,2385.5L1085.2,2386.3ZM1112.2,2357.4L1140.1,2356.6L1140.8,2384.8L1113.0,2385.5ZM1140.1,2356.6L1167.9,2356.0L1168.6,2384.1L1140.8,2384.8ZM1167.9,2356.0L1195.8,2355.4L1196.3,2383.5L1168.6,2384.1ZM1195.8,2355.4L1223.6,2354.8L1224.1,2383.0L1196.3,2383.5ZM1251.5,2354.3L1279.3,2353.9L1279.7,2382.0L1251.9,2382.5ZM1279.3,2353.9L1307.2,2353.5L1307.5,2381.7L1279.7,2382.0ZM1307.2,2353.5L1335.0,2353.2L1335.3,2381.3L1307.5,2381.7ZM835.3,2395.8L863.1,2394.5L864.3,2422.5L836.6,2423.8ZM946.4,2391.0L974.1,2389.9L975.1,2418.0L947.4,2419.0ZM974.1,2389.9L1001.9,2388.9L1002.8,2417.0L975.1,2418.0ZM1001.9,2388.9L1029.7,2388.0L1030.6,2416.1L1002.8,2417.0ZM1140.8,2384.8L1168.6,2384.1L1169.2,2412.2L1141.5,2412.9ZM1168.6,2384.1L1196.3,2383.5L1196.9,2411.6L1169.2,2412.2ZM1196.3,2383.5L1224.1,2383.0L1224.7,2411.1L1196.9,2411.6ZM1224.1,2383.0L1251.9,2382.5L1252.4,2410.6L1224.7,2411.1ZM1251.9,2382.5L1279.7,2382.0L1280.1,2410.1L1252.4,2410.6ZM864.3,2422.5L892.0,2421.3L893.2,2449.3L865.6,2450.5ZM975.1,2418.0L1002.8,2417.0L1003.8,2445.0L976.2,2446.0ZM1002.8,2417.0L1030.6,2416.1L1031.5,2444.1L1003.8,2445.0ZM1169.2,2412.2L1196.9,2411.6L1197.5,2439.6L1169.8,2440.2ZM1196.9,2411.6L1224.7,2411.1L1225.2,2439.1L1197.5,2439.6ZM893.2,2449.3L920.9,2448.1L922.0,2476.1L894.4,2477.2ZM922.0,2476.1L949.6,2475.0L950.6,2502.9L923.1,2504.0ZM1225.7,2467.1L1253.3,2466.6L1253.8,2494.5L1226.2,2495.0ZM1253.3,2466.6L1280.9,2466.1L1281.3,2494.1L1253.8,2494.5ZM950.6,2502.9L978.2,2501.8L979.2,2529.7L951.7,2530.7ZM978.2,2501.8L1005.7,2500.9L1006.7,2528.7L979.2,2529.7ZM1033.3,2499.9L1060.8,2499.1L1061.7,2526.9L1034.2,2527.8ZM1281.3,2494.1L1308.9,2493.7L1309.2,2521.6L1281.7,2521.9ZM1308.9,2493.7L1336.5,2493.4L1336.8,2521.2L1309.2,2521.6ZM979.2,2529.7L1006.7,2528.7L1007.6,2556.5L980.2,2557.5ZM1006.7,2528.7L1034.2,2527.8L1035.1,2555.6L1007.6,2556.5ZM1034.2,2527.8L1061.7,2526.9L1062.5,2554.7L1035.1,2555.6ZM1336.8,2521.2L1364.3,2521.0L1364.5,2548.8L1337.0,2549.1ZM1364.3,2521.0L1391.8,2520.8L1392.0,2548.6L1364.5,2548.8ZM1007.6,2556.5L1035.1,2555.6L1035.9,2583.3L1008.6,2584.2ZM1035.1,2555.6L1062.5,2554.7L1063.3,2582.4L1035.9,2583.3ZM1392.0,2548.6L1419.4,2548.5L1419.6,2576.2L1392.1,2576.4ZM1008.6,2584.2L1035.9,2583.3L1036.8,2611.0L1009.5,2611.9ZM1447.0,2576.1L1474.4,2576.1L1474.4,2603.8L1447.0,2603.8ZM1474.4,2576.1L1501.8,2576.1L1501.7,2603.8L1474.4,2603.8ZM1009.5,2611.9L1036.8,2611.0L1037.7,2638.6L1010.4,2639.5ZM1036.8,2611.0L1064.2,2610.1L1065.0,2637.7L1037.7,2638.6ZM1064.2,2610.1L1091.5,2609.3L1092.3,2636.9L1065.0,2637.7ZM1091.5,2609.3L1118.8,2608.6L1119.5,2636.2L1092.3,2636.9ZM983.2,2640.5L1010.4,2639.5L1011.4,2667.1L984.1,2668.0ZM1010.4,2639.5L1037.7,2638.6L1038.6,2666.2L1011.4,2667.1ZM1037.7,2638.6L1065.0,2637.7L1065.8,2665.3L1038.6,2666.2ZM1092.3,2636.9L1119.5,2636.2L1120.3,2663.8L1093.0,2664.5ZM1119.5,2636.2L1146.8,2635.5L1147.5,2663.1L1120.3,2663.8ZM984.1,2668.0L1011.4,2667.1L1012.3,2694.6L985.1,2695.5ZM1011.4,2667.1L1038.6,2666.2L1039.5,2693.7L1012.3,2694.6ZM1093.0,2664.5L1120.3,2663.8L1121.0,2691.3L1093.8,2692.0ZM1120.3,2663.8L1147.5,2663.1L1148.1,2690.6L1121.0,2691.3ZM1148.1,2690.6L1175.3,2690.0L1175.9,2717.5L1148.8,2718.1ZM1148.8,2718.1L1175.9,2717.5L1176.5,2744.9L1149.5,2745.5ZM1149.5,2745.5L1176.5,2744.9L1177.1,2772.2L1150.1,2772.9ZM1284.8,2742.9L1311.9,2742.5L1312.2,2769.9L1285.2,2770.3ZM1311.9,2742.5L1339.0,2742.2L1339.3,2769.6L1312.2,2769.9ZM1339.0,2742.2L1366.1,2742.0L1366.3,2769.4L1339.3,2769.6ZM1150.1,2772.9L1177.1,2772.2L1177.7,2799.6L1150.7,2800.2ZM1231.2,2771.2L1258.2,2770.7L1258.6,2798.0L1231.6,2798.5ZM1258.2,2770.7L1285.2,2770.3L1285.6,2797.6L1258.6,2798.0ZM1474.4,2768.9L1501.4,2768.9L1501.4,2796.2L1474.4,2796.2ZM1177.7,2799.6L1204.7,2799.0L1205.2,2826.3L1178.3,2826.8ZM1204.7,2799.0L1231.6,2798.5L1232.1,2825.7L1205.2,2826.3Z" fill="rgb(255,0,0)" fill-opacity="0.5" stroke="rgb(255,0,0)" stroke-opacity="0.32" stroke-width="0.7" stroke-linejoin="miter"/>
<path d="M540.3,1721.0L569.4,1719.0L571.3,1748.4L542.3,1750.4ZM569.4,1719.0L598.5,1717.1L600.4,1746.5L571.3,1748.4ZM542.3,1750.4L571.3,1748.4L573.2,1777.7L544.3,1779.7ZM571.3,1748.4L600.4,1746.5L602.2,1775.9L573.2,1777.7ZM600.4,1746.5L629.4,1744.7L631.2,1774.0L602.2,1775.9ZM544.3,1779.7L573.2,1777.7L575.2,1807.0L546.2,1809.0ZM573.2,1777.7L602.2,1775.9L604.1,1805.1L575.2,1807.0ZM602.2,1775.9L631.2,1774.0L633.0,1803.3L604.1,1805.1ZM575.2,1807.0L604.1,1805.1L605.9,1834.4L577.1,1836.2ZM604.1,1805.1L633.0,1803.3L634.8,1832.5L605.9,1834.4ZM559.8,2012.1L588.3,2010.2L590.2,2039.0L561.8,2040.9ZM561.8,2040.9L590.2,2039.0L592.0,2067.8L563.7,2069.6ZM1417.1,2010.2L1445.7,2010.1L1445.8,2039.0L1417.3,2039.1ZM1445.7,2010.1L1474.2,2010.1L1474.3,2038.9L1445.8,2039.0ZM563.7,2069.6L592.0,2067.8L593.9,2096.4L565.6,2098.3ZM1417.3,2039.1L1445.8,2039.0L1445.8,2067.8L1417.4,2067.9ZM1445.8,2039.0L1474.3,2038.9L1474.3,2067.7L1445.8,2067.8ZM567.4,2126.9L595.7,2125.0L597.5,2153.6L569.3,2155.5ZM617.1,2464.0L644.7,2462.2L646.4,2490.1L618.8,2491.8ZM644.7,2462.2L672.3,2460.6L673.9,2488.5L646.4,2490.1ZM672.3,2460.6L699.9,2459.0L701.4,2486.9L673.9,2488.5ZM591.3,2493.6L618.8,2491.8L620.6,2519.7L593.1,2521.4ZM618.8,2491.8L646.4,2490.1L648.0,2518.0L620.6,2519.7ZM646.4,2490.1L673.9,2488.5L675.5,2516.3L648.0,2518.0ZM673.9,2488.5L701.4,2486.9L703.0,2514.7L675.5,2516.3ZM701.4,2486.9L729.0,2485.3L730.5,2513.2L703.0,2514.7ZM729.0,2485.3L756.5,2483.8L758.0,2511.7L730.5,2513.2ZM593.1,2521.4L620.6,2519.7L622.3,2547.4L594.9,2549.2ZM620.6,2519.7L648.0,2518.0L649.7,2545.7L622.3,2547.4ZM648.0,2518.0L675.5,2516.3L677.1,2544.1L649.7,2545.7ZM675.5,2516.3L703.0,2514.7L704.6,2542.5L677.1,2544.1ZM703.0,2514.7L730.5,2513.2L732.0,2541.0L704.6,2542.5ZM730.5,2513.2L758.0,2511.7L759.4,2539.5L732.0,2541.0ZM758.0,2511.7L785.5,2510.3L786.9,2538.1L759.4,2539.5ZM594.9,2549.2L622.3,2547.4L624.0,2575.1L596.6,2576.9ZM622.3,2547.4L649.7,2545.7L651.4,2573.5L624.0,2575.1ZM649.7,2545.7L677.1,2544.1L678.7,2571.8L651.4,2573.5ZM732.0,2541.0L759.4,2539.5L760.9,2567.2L733.5,2568.7ZM759.4,2539.5L786.9,2538.1L788.3,2565.8L760.9,2567.2ZM786.9,2538.1L814.3,2536.7L815.7,2564.5L788.3,2565.8ZM788.3,2565.8L815.7,2564.5L817.0,2592.2L789.7,2593.5ZM815.7,2564.5L843.1,2563.2L844.4,2590.9L817.0,2592.2ZM844.4,2590.9L871.7,2589.6L872.9,2617.3L845.6,2618.5ZM845.6,2618.5L872.9,2617.3L874.1,2644.9L846.9,2646.1ZM846.9,2646.1L874.1,2644.9L875.3,2672.4L848.1,2673.7ZM848.1,2673.7L875.3,2672.4L876.5,2699.9L849.4,2701.1ZM849.4,2701.1L876.5,2699.9L877.7,2727.4L850.6,2728.6ZM850.6,2728.6L877.7,2727.4L878.9,2754.7L851.9,2756.0ZM877.7,2727.4L904.8,2726.2L905.9,2753.6L878.9,2754.7ZM878.9,2754.7L905.9,2753.6L907.1,2780.9L880.1,2782.1ZM1041.2,2748.6L1068.3,2747.7L1069.1,2775.1L1042.1,2775.9ZM880.1,2782.1L907.1,2780.9L908.2,2808.2L881.3,2809.3ZM907.1,2780.9L934.1,2779.8L935.1,2807.1L908.2,2808.2ZM1015.1,2776.8L1042.1,2775.9L1042.9,2803.2L1016.0,2804.1ZM1096.1,2774.3L1123.1,2773.6L1123.8,2800.9L1096.8,2801.6ZM908.2,2808.2L935.1,2807.1L936.2,2834.3L909.3,2835.4ZM935.1,2807.1L962.1,2806.0L963.1,2833.3L936.2,2834.3ZM962.1,2806.0L989.0,2805.0L990.0,2832.3L963.1,2833.3ZM989.0,2805.0L1016.0,2804.1L1016.9,2831.3L990.0,2832.3ZM1096.8,2801.6L1123.8,2800.9L1124.5,2828.1L1097.6,2828.8ZM936.2,2834.3L963.1,2833.3L964.1,2860.5L937.3,2861.5ZM963.1,2833.3L990.0,2832.3L990.9,2859.5L964.1,2860.5ZM990.0,2832.3L1016.9,2831.3L1017.8,2858.5L990.9,2859.5ZM1097.6,2828.8L1124.5,2828.1L1125.2,2855.3L1098.3,2856.0ZM1420.6,2823.6L1447.5,2823.5L1447.6,2850.8L1420.7,2850.8ZM1447.5,2823.5L1474.4,2823.5L1474.4,2850.7L1447.6,2850.8ZM937.3,2861.5L964.1,2860.5L965.1,2887.6L938.3,2888.6ZM964.1,2860.5L990.9,2859.5L991.9,2886.6L965.1,2887.6ZM990.9,2859.5L1017.8,2858.5L1018.7,2885.7L991.9,2886.6ZM1098.3,2856.0L1125.2,2855.3L1125.9,2882.5L1099.1,2883.2ZM1099.1,2883.2L1125.9,2882.5L1126.6,2909.6L1099.8,2910.3ZM1206.3,2880.6L1233.1,2880.1L1233.6,2907.2L1206.8,2907.7ZM1233.1,2880.1L1259.9,2879.7L1260.3,2906.8L1233.6,2907.2ZM1259.9,2879.7L1286.7,2879.3L1287.1,2906.4L1260.3,2906.8ZM1286.7,2879.3L1313.5,2878.9L1313.9,2906.0L1287.1,2906.4ZM1313.5,2878.9L1340.4,2878.6L1340.6,2905.7L1313.9,2906.0ZM1340.4,2878.6L1367.2,2878.3L1367.4,2905.5L1340.6,2905.7ZM1367.2,2878.3L1394.0,2878.2L1394.2,2905.3L1367.4,2905.5ZM1126.6,2909.6L1153.3,2908.9L1153.9,2936.0L1127.2,2936.6ZM1206.8,2907.7L1233.6,2907.2L1234.1,2934.3L1207.3,2934.8ZM1233.6,2907.2L1260.3,2906.8L1260.8,2933.8L1234.1,2934.3ZM1313.9,2906.0L1340.6,2905.7L1340.9,2932.8L1314.2,2933.1ZM1340.6,2905.7L1367.4,2905.5L1367.6,2932.5L1340.9,2932.8ZM1127.2,2936.6L1153.9,2936.0L1154.6,2963.0L1127.9,2963.6ZM1287.5,2933.4L1314.2,2933.1L1314.5,2960.1L1287.8,2960.4ZM1314.2,2933.1L1340.9,2932.8L1341.2,2959.8L1314.5,2960.1ZM1181.2,2962.3L1207.9,2961.8L1208.4,2988.7L1181.8,2989.3Z" fill="rgb(5,105,5)" fill-opacity="0.5" stroke="rgb(5,105,5)" stroke-opacity="0.32" stroke-width="0.7" stroke-linejoin="miter"/>
<path d="M1211.2,1691.4L1240.4,1690.8L1240.9,1720.3L1211.7,1720.9ZM1240.4,1690.8L1269.6,1690.3L1270.0,1719.8L1240.9,1720.3ZM1182.6,1721.5L1211.7,1720.9L1212.3,1750.3L1183.2,1750.9ZM1211.7,1720.9L1240.9,1720.3L1241.4,1749.8L1212.3,1750.3ZM1240.9,1720.3L1270.0,1719.8L1270.5,1749.3L1241.4,1749.8ZM1066.8,1753.9L1095.9,1753.1L1096.7,1782.5L1067.7,1783.3ZM1095.9,1753.1L1125.0,1752.3L1125.8,1781.7L1096.7,1782.5ZM1125.0,1752.3L1154.1,1751.6L1154.8,1781.0L1125.8,1781.7ZM1154.1,1751.6L1183.2,1750.9L1183.8,1780.3L1154.8,1781.0ZM1183.2,1750.9L1212.3,1750.3L1212.8,1779.7L1183.8,1780.3ZM1212.3,1750.3L1241.4,1749.8L1241.9,1779.2L1212.8,1779.7ZM1241.4,1749.8L1270.5,1749.3L1270.9,1778.7L1241.9,1779.2ZM1067.7,1783.3L1096.7,1782.5L1097.5,1811.8L1068.6,1812.6ZM1096.7,1782.5L1125.8,1781.7L1126.5,1811.0L1097.5,1811.8ZM1125.8,1781.7L1154.8,1781.0L1155.5,1810.3L1126.5,1811.0ZM1154.8,1781.0L1183.8,1780.3L1184.4,1809.6L1155.5,1810.3ZM1183.8,1780.3L1212.8,1779.7L1213.4,1809.0L1184.4,1809.6ZM1212.8,1779.7L1241.9,1779.2L1242.4,1808.5L1213.4,1809.0ZM1241.9,1779.2L1270.9,1778.7L1271.4,1808.0L1242.4,1808.5ZM1039.6,1813.5L1068.6,1812.6L1069.5,1841.9L1040.6,1842.8ZM1068.6,1812.6L1097.5,1811.8L1098.3,1841.0L1069.5,1841.9ZM1097.5,1811.8L1126.5,1811.0L1127.2,1840.2L1098.3,1841.0ZM1126.5,1811.0L1155.5,1810.3L1156.1,1839.5L1127.2,1840.2ZM1155.5,1810.3L1184.4,1809.6L1185.1,1838.9L1156.1,1839.5ZM1184.4,1809.6L1213.4,1809.0L1214.0,1838.3L1185.1,1838.9ZM1213.4,1809.0L1242.4,1808.5L1242.9,1837.8L1214.0,1838.3ZM1040.6,1842.8L1069.5,1841.9L1070.3,1871.0L1041.5,1871.9ZM1069.5,1841.9L1098.3,1841.0L1099.1,1870.2L1070.3,1871.0ZM1098.3,1841.0L1127.2,1840.2L1128.0,1869.4L1099.1,1870.2ZM1127.2,1840.2L1156.1,1839.5L1156.8,1868.7L1128.0,1869.4ZM1156.1,1839.5L1185.1,1838.9L1185.7,1868.1L1156.8,1868.7ZM1185.1,1838.9L1214.0,1838.3L1214.5,1867.5L1185.7,1868.1ZM1214.0,1838.3L1242.9,1837.8L1243.4,1867.0L1214.5,1867.5ZM1041.5,1871.9L1070.3,1871.0L1071.2,1900.2L1042.4,1901.1ZM1070.3,1871.0L1099.1,1870.2L1099.9,1899.3L1071.2,1900.2ZM1099.1,1870.2L1128.0,1869.4L1128.7,1898.6L1099.9,1899.3ZM1128.0,1869.4L1156.8,1868.7L1157.5,1897.9L1128.7,1898.6ZM1156.8,1868.7L1185.7,1868.1L1186.3,1897.2L1157.5,1897.9ZM1185.7,1868.1L1214.5,1867.5L1215.1,1896.6L1186.3,1897.2ZM1042.4,1901.1L1071.2,1900.2L1072.0,1929.2L1043.3,1930.1ZM1071.2,1900.2L1099.9,1899.3L1100.7,1928.4L1072.0,1929.2ZM1099.9,1899.3L1128.7,1898.6L1129.5,1927.6L1100.7,1928.4ZM1128.7,1898.6L1157.5,1897.9L1158.2,1926.9L1129.5,1927.6ZM1157.5,1897.9L1186.3,1897.2L1186.9,1926.3L1158.2,1926.9ZM1072.0,1929.2L1100.7,1928.4L1101.5,1957.4L1072.9,1958.2ZM1100.7,1928.4L1129.5,1927.6L1130.2,1956.7L1101.5,1957.4ZM1138.0,2271.9L1166.0,2271.2L1166.7,2299.5L1138.7,2300.2ZM1166.0,2271.2L1194.0,2270.6L1194.6,2298.9L1166.7,2299.5ZM1138.7,2300.2L1166.7,2299.5L1167.3,2327.8L1139.4,2328.4ZM1166.7,2299.5L1194.6,2298.9L1195.2,2327.2L1167.3,2327.8ZM1194.6,2298.9L1222.6,2298.4L1223.1,2326.6L1195.2,2327.2ZM1139.4,2328.4L1167.3,2327.8L1167.9,2356.0L1140.1,2356.6ZM1167.3,2327.8L1195.2,2327.2L1195.8,2355.4L1167.9,2356.0ZM1195.2,2327.2L1223.1,2326.6L1223.6,2354.8L1195.8,2355.4ZM1223.1,2326.6L1251.0,2326.1L1251.5,2354.3L1223.6,2354.8ZM1251.0,2326.1L1278.9,2325.7L1279.3,2353.9L1251.5,2354.3ZM861.8,2366.4L889.6,2365.2L890.8,2393.3L863.1,2394.5ZM1028.7,2359.9L1056.6,2359.0L1057.4,2387.1L1029.7,2388.0ZM1223.6,2354.8L1251.5,2354.3L1251.9,2382.5L1224.1,2383.0ZM863.1,2394.5L890.8,2393.3L892.0,2421.3L864.3,2422.5ZM890.8,2393.3L918.6,2392.1L919.7,2420.2L892.0,2421.3ZM918.6,2392.1L946.4,2391.0L947.4,2419.0L919.7,2420.2ZM1029.7,2388.0L1057.4,2387.1L1058.3,2415.2L1030.6,2416.1ZM1057.4,2387.1L1085.2,2386.3L1086.0,2414.3L1058.3,2415.2ZM1085.2,2386.3L1113.0,2385.5L1113.7,2413.6L1086.0,2414.3ZM1113.0,2385.5L1140.8,2384.8L1141.5,2412.9L1113.7,2413.6ZM892.0,2421.3L919.7,2420.2L920.9,2448.1L893.2,2449.3ZM919.7,2420.2L947.4,2419.0L948.5,2447.0L920.9,2448.1ZM947.4,2419.0L975.1,2418.0L976.2,2446.0L948.5,2447.0ZM1030.6,2416.1L1058.3,2415.2L1059.1,2443.2L1031.5,2444.1ZM1058.3,2415.2L1086.0,2414.3L1086.8,2442.4L1059.1,2443.2ZM1113.7,2413.6L1141.5,2412.9L1142.1,2440.9L1114.5,2441.6ZM1141.5,2412.9L1169.2,2412.2L1169.8,2440.2L1142.1,2440.9ZM920.9,2448.1L948.5,2447.0L949.6,2475.0L922.0,2476.1ZM948.5,2447.0L976.2,2446.0L977.2,2473.9L949.6,2475.0ZM976.2,2446.0L1003.8,2445.0L1004.8,2473.0L977.2,2473.9ZM1003.8,2445.0L1031.5,2444.1L1032.4,2472.0L1004.8,2473.0ZM1031.5,2444.1L1059.1,2443.2L1060.0,2471.1L1032.4,2472.0ZM1059.1,2443.2L1086.8,2442.4L1087.6,2470.3L1060.0,2471.1ZM1142.1,2440.9L1169.8,2440.2L1170.4,2468.2L1142.8,2468.9ZM1169.8,2440.2L1197.5,2439.6L1198.1,2467.6L1170.4,2468.2ZM949.6,2475.0L977.2,2473.9L978.2,2501.8L950.6,2502.9ZM977.2,2473.9L1004.8,2473.0L1005.7,2500.9L978.2,2501.8ZM1004.8,2473.0L1032.4,2472.0L1033.3,2499.9L1005.7,2500.9ZM1032.4,2472.0L1060.0,2471.1L1060.8,2499.1L1033.3,2499.9ZM1060.0,2471.1L1087.6,2470.3L1088.4,2498.2L1060.8,2499.1ZM1170.4,2468.2L1198.1,2467.6L1198.6,2495.5L1171.1,2496.1ZM1198.1,2467.6L1225.7,2467.1L1226.2,2495.0L1198.6,2495.5ZM1005.7,2500.9L1033.3,2499.9L1034.2,2527.8L1006.7,2528.7ZM1060.8,2499.1L1088.4,2498.2L1089.2,2526.1L1061.7,2526.9ZM1226.2,2495.0L1253.8,2494.5L1254.2,2522.4L1226.7,2522.8ZM1253.8,2494.5L1281.3,2494.1L1281.7,2521.9L1254.2,2522.4ZM1061.7,2526.9L1089.2,2526.1L1089.9,2553.9L1062.5,2554.7ZM1089.2,2526.1L1116.7,2525.3L1117.4,2553.1L1089.9,2553.9ZM1281.7,2521.9L1309.2,2521.6L1309.6,2549.4L1282.1,2549.7ZM1309.2,2521.6L1336.8,2521.2L1337.0,2549.1L1309.6,2549.4ZM1062.5,2554.7L1089.9,2553.9L1090.7,2581.6L1063.3,2582.4ZM1089.9,2553.9L1117.4,2553.1L1118.1,2580.9L1090.7,2581.6ZM1337.0,2549.1L1364.5,2548.8L1364.7,2576.6L1337.3,2576.8ZM1364.5,2548.8L1392.0,2548.6L1392.1,2576.4L1364.7,2576.6ZM1035.9,2583.3L1063.3,2582.4L1064.2,2610.1L1036.8,2611.0ZM1063.3,2582.4L1090.7,2581.6L1091.5,2609.3L1064.2,2610.1ZM1090.7,2581.6L1118.1,2580.9L1118.8,2608.6L1091.5,2609.3ZM1118.1,2580.9L1145.5,2580.2L1146.2,2607.9L1118.8,2608.6ZM1392.1,2576.4L1419.6,2576.2L1419.7,2603.9L1392.3,2604.1ZM1419.6,2576.2L1447.0,2576.1L1447.0,2603.8L1419.7,2603.9ZM1118.8,2608.6L1146.2,2607.9L1146.8,2635.5L1119.5,2636.2ZM1146.2,2607.9L1173.5,2607.2L1174.1,2634.9L1146.8,2635.5ZM1419.7,2603.9L1447.0,2603.8L1447.1,2631.5L1419.8,2631.6ZM1447.0,2603.8L1474.4,2603.8L1474.4,2631.4L1447.1,2631.5ZM1474.4,2603.8L1501.7,2603.8L1501.7,2631.5L1474.4,2631.4ZM1146.8,2635.5L1174.1,2634.9L1174.7,2662.4L1147.5,2663.1ZM1174.1,2634.9L1201.4,2634.3L1202.0,2661.9L1174.7,2662.4ZM1447.1,2631.5L1474.4,2631.4L1474.4,2659.0L1447.1,2659.1ZM1474.4,2631.4L1501.7,2631.5L1501.6,2659.1L1474.4,2659.0ZM1147.5,2663.1L1174.7,2662.4L1175.3,2690.0L1148.1,2690.6ZM1174.7,2662.4L1202.0,2661.9L1202.5,2689.4L1175.3,2690.0ZM1447.1,2659.1L1474.4,2659.0L1474.4,2686.6L1447.2,2686.6ZM1474.4,2659.0L1501.6,2659.1L1501.6,2686.6L1474.4,2686.6ZM1175.3,2690.0L1202.5,2689.4L1203.1,2716.9L1175.9,2717.5ZM1202.5,2689.4L1229.7,2688.9L1230.2,2716.4L1203.1,2716.9ZM1229.7,2688.9L1256.9,2688.4L1257.3,2715.9L1230.2,2716.4ZM1256.9,2688.4L1284.1,2688.0L1284.4,2715.5L1257.3,2715.9ZM1474.4,2686.6L1501.6,2686.6L1501.5,2714.1L1474.4,2714.1ZM1175.9,2717.5L1203.1,2716.9L1203.6,2744.3L1176.5,2744.9ZM1203.1,2716.9L1230.2,2716.4L1230.7,2743.8L1203.6,2744.3ZM1230.2,2716.4L1257.3,2715.9L1257.7,2743.3L1230.7,2743.8ZM1257.3,2715.9L1284.4,2715.5L1284.8,2742.9L1257.7,2743.3ZM1284.4,2715.5L1311.6,2715.1L1311.9,2742.5L1284.8,2742.9ZM1311.6,2715.1L1338.7,2714.8L1339.0,2742.2L1311.9,2742.5ZM1338.7,2714.8L1365.9,2714.5L1366.1,2742.0L1339.0,2742.2ZM1365.9,2714.5L1393.0,2714.3L1393.2,2741.8L1366.1,2742.0ZM1447.3,2714.1L1474.4,2714.1L1474.4,2741.5L1447.3,2741.5ZM1474.4,2714.1L1501.5,2714.1L1501.5,2741.5L1474.4,2741.5ZM1176.5,2744.9L1203.6,2744.3L1204.1,2771.7L1177.1,2772.2ZM1203.6,2744.3L1230.7,2743.8L1231.2,2771.2L1204.1,2771.7ZM1230.7,2743.8L1257.7,2743.3L1258.2,2770.7L1231.2,2771.2ZM1257.7,2743.3L1284.8,2742.9L1285.2,2770.3L1258.2,2770.7ZM1366.1,2742.0L1393.2,2741.8L1393.3,2769.2L1366.3,2769.4ZM1393.2,2741.8L1420.2,2741.6L1420.4,2769.0L1393.3,2769.2ZM1420.2,2741.6L1447.3,2741.5L1447.4,2768.9L1420.4,2769.0ZM1447.3,2741.5L1474.4,2741.5L1474.4,2768.9L1447.4,2768.9ZM1474.4,2741.5L1501.5,2741.5L1501.4,2768.9L1474.4,2768.9ZM1177.1,2772.2L1204.1,2771.7L1204.7,2799.0L1177.7,2799.6ZM1204.1,2771.7L1231.2,2771.2L1231.6,2798.5L1204.7,2799.0Z" fill="rgb(255,0,150)" fill-opacity="0.5" stroke="rgb(255,0,150)" stroke-opacity="0.32" stroke-width="0.7" stroke-linejoin="miter"/>
<path d="M1086.0,2414.3L1113.7,2413.6L1114.5,2441.6L1086.8,2442.4ZM1086.8,2442.4L1114.5,2441.6L1115.2,2469.6L1087.6,2470.3ZM1114.5,2441.6L1142.1,2440.9L1142.8,2468.9L1115.2,2469.6ZM1087.6,2470.3L1115.2,2469.6L1115.9,2497.5L1088.4,2498.2ZM1115.2,2469.6L1142.8,2468.9L1143.5,2496.8L1115.9,2497.5ZM1142.8,2468.9L1170.4,2468.2L1171.1,2496.1L1143.5,2496.8ZM1088.4,2498.2L1115.9,2497.5L1116.7,2525.3L1089.2,2526.1ZM1115.9,2497.5L1143.5,2496.8L1144.2,2524.6L1116.7,2525.3ZM1171.1,2496.1L1198.6,2495.5L1199.2,2523.4L1171.7,2524.0ZM1198.6,2495.5L1226.2,2495.0L1226.7,2522.8L1199.2,2523.4ZM1116.7,2525.3L1144.2,2524.6L1144.8,2552.4L1117.4,2553.1ZM1226.7,2522.8L1254.2,2522.4L1254.7,2550.2L1227.2,2550.7ZM1254.2,2522.4L1281.7,2521.9L1282.1,2549.7L1254.7,2550.2ZM1117.4,2553.1L1144.8,2552.4L1145.5,2580.2L1118.1,2580.9ZM1144.8,2552.4L1172.3,2551.8L1172.9,2579.5L1145.5,2580.2ZM1282.1,2549.7L1309.6,2549.4L1309.9,2577.1L1282.5,2577.5ZM1309.6,2549.4L1337.0,2549.1L1337.3,2576.8L1309.9,2577.1ZM1145.5,2580.2L1172.9,2579.5L1173.5,2607.2L1146.2,2607.9ZM1172.9,2579.5L1200.3,2578.9L1200.9,2606.6L1173.5,2607.2ZM1309.9,2577.1L1337.3,2576.8L1337.6,2604.5L1310.2,2604.8ZM1337.3,2576.8L1364.7,2576.6L1365.0,2604.3L1337.6,2604.5ZM1364.7,2576.6L1392.1,2576.4L1392.3,2604.1L1365.0,2604.3ZM1173.5,2607.2L1200.9,2606.6L1201.4,2634.3L1174.1,2634.9ZM1200.9,2606.6L1228.2,2606.1L1228.7,2633.7L1201.4,2634.3ZM1337.6,2604.5L1365.0,2604.3L1365.2,2631.9L1337.9,2632.2ZM1365.0,2604.3L1392.3,2604.1L1392.5,2631.7L1365.2,2631.9ZM1392.3,2604.1L1419.7,2603.9L1419.8,2631.6L1392.5,2631.7ZM1201.4,2634.3L1228.7,2633.7L1229.2,2661.3L1202.0,2661.9ZM1228.7,2633.7L1256.0,2633.3L1256.4,2660.9L1229.2,2661.3ZM1365.2,2631.9L1392.5,2631.7L1392.7,2659.3L1365.4,2659.5ZM1392.5,2631.7L1419.8,2631.6L1419.9,2659.2L1392.7,2659.3ZM1419.8,2631.6L1447.1,2631.5L1447.1,2659.1L1419.9,2659.2ZM1202.0,2661.9L1229.2,2661.3L1229.7,2688.9L1202.5,2689.4ZM1229.2,2661.3L1256.4,2660.9L1256.9,2688.4L1229.7,2688.9ZM1256.4,2660.9L1283.7,2660.4L1284.1,2688.0L1256.9,2688.4ZM1392.7,2659.3L1419.9,2659.2L1420.0,2686.7L1392.8,2686.9ZM1419.9,2659.2L1447.1,2659.1L1447.2,2686.6L1420.0,2686.7ZM1284.1,2688.0L1311.2,2687.6L1311.6,2715.1L1284.4,2715.5ZM1311.2,2687.6L1338.4,2687.3L1338.7,2714.8L1311.6,2715.1ZM1338.4,2687.3L1365.6,2687.1L1365.9,2714.5L1338.7,2714.8ZM1365.6,2687.1L1392.8,2686.9L1393.0,2714.3L1365.9,2714.5ZM1392.8,2686.9L1420.0,2686.7L1420.1,2714.2L1393.0,2714.3ZM1420.0,2686.7L1447.2,2686.6L1447.3,2714.1L1420.1,2714.2ZM1447.2,2686.6L1474.4,2686.6L1474.4,2714.1L1447.3,2714.1ZM1393.0,2714.3L1420.1,2714.2L1420.2,2741.6L1393.2,2741.8ZM1420.1,2714.2L1447.3,2714.1L1447.3,2741.5L1420.2,2741.6Z" fill="rgb(160,60,205)" fill-opacity="0.5" stroke="rgb(160,60,205)" stroke-opacity="0.32" stroke-width="0.7" stroke-linejoin="miter"/>
<path d="M1143.5,2496.8L1171.1,2496.1L1171.7,2524.0L1144.2,2524.6ZM1144.2,2524.6L1171.7,2524.0L1172.3,2551.8L1144.8,2552.4ZM1171.7,2524.0L1199.2,2523.4L1199.7,2551.2L1172.3,2551.8ZM1199.2,2523.4L1226.7,2522.8L1227.2,2550.7L1199.7,2551.2ZM1172.3,2551.8L1199.7,2551.2L1200.3,2578.9L1172.9,2579.5ZM1199.7,2551.2L1227.2,2550.7L1227.7,2578.4L1200.3,2578.9ZM1227.2,2550.7L1254.7,2550.2L1255.1,2577.9L1227.7,2578.4ZM1254.7,2550.2L1282.1,2549.7L1282.5,2577.5L1255.1,2577.9ZM1200.3,2578.9L1227.7,2578.4L1228.2,2606.1L1200.9,2606.6ZM1227.7,2578.4L1255.1,2577.9L1255.5,2605.6L1228.2,2606.1ZM1255.1,2577.9L1282.5,2577.5L1282.9,2605.2L1255.5,2605.6ZM1282.5,2577.5L1309.9,2577.1L1310.2,2604.8L1282.9,2605.2ZM1228.2,2606.1L1255.5,2605.6L1256.0,2633.3L1228.7,2633.7ZM1255.5,2605.6L1282.9,2605.2L1283.3,2632.9L1256.0,2633.3ZM1282.9,2605.2L1310.2,2604.8L1310.6,2632.5L1283.3,2632.9ZM1310.2,2604.8L1337.6,2604.5L1337.9,2632.2L1310.6,2632.5ZM1256.0,2633.3L1283.3,2632.9L1283.7,2660.4L1256.4,2660.9ZM1283.3,2632.9L1310.6,2632.5L1310.9,2660.1L1283.7,2660.4ZM1310.6,2632.5L1337.9,2632.2L1338.2,2659.8L1310.9,2660.1ZM1337.9,2632.2L1365.2,2631.9L1365.4,2659.5L1338.2,2659.8ZM1283.7,2660.4L1310.9,2660.1L1311.2,2687.6L1284.1,2688.0ZM1310.9,2660.1L1338.2,2659.8L1338.4,2687.3L1311.2,2687.6ZM1338.2,2659.8L1365.4,2659.5L1365.6,2687.1L1338.4,2687.3ZM1365.4,2659.5L1392.7,2659.3L1392.8,2686.9L1365.6,2687.1Z" fill="rgb(100,5,155)" fill-opacity="0.5" stroke="rgb(100,5,155)" stroke-opacity="0.32" stroke-width="0.7" stroke-linejoin="miter"/>
<path d="M677.1,2544.1L704.6,2542.5L706.1,2570.2L678.7,2571.8ZM704.6,2542.5L732.0,2541.0L733.5,2568.7L706.1,2570.2ZM596.6,2576.9L624.0,2575.1L625.7,2602.8L598.4,2604.5ZM624.0,2575.1L651.4,2573.5L653.0,2601.1L625.7,2602.8ZM651.4,2573.5L678.7,2571.8L680.3,2599.5L653.0,2601.1ZM678.7,2571.8L706.1,2570.2L707.7,2597.9L680.3,2599.5ZM706.1,2570.2L733.5,2568.7L735.0,2596.4L707.7,2597.9ZM733.5,2568.7L760.9,2567.2L762.3,2594.9L735.0,2596.4ZM760.9,2567.2L788.3,2565.8L789.7,2593.5L762.3,2594.9ZM817.0,2592.2L844.4,2590.9L845.6,2618.5L818.3,2619.8ZM823.6,2729.8L850.6,2728.6L851.9,2756.0L824.9,2757.2ZM824.9,2757.2L851.9,2756.0L853.1,2783.3L826.1,2784.5ZM851.9,2756.0L878.9,2754.7L880.1,2782.1L853.1,2783.3ZM826.1,2784.5L853.1,2783.3L854.3,2810.6L827.4,2811.8ZM853.1,2783.3L880.1,2782.1L881.3,2809.3L854.3,2810.6ZM1042.1,2775.9L1069.1,2775.1L1069.9,2802.4L1042.9,2803.2ZM1069.1,2775.1L1096.1,2774.3L1096.8,2801.6L1069.9,2802.4ZM881.3,2809.3L908.2,2808.2L909.3,2835.4L882.4,2836.6ZM1016.0,2804.1L1042.9,2803.2L1043.8,2830.5L1016.9,2831.3ZM909.3,2835.4L936.2,2834.3L937.3,2861.5L910.4,2862.6ZM1016.9,2831.3L1043.8,2830.5L1044.6,2857.7L1017.8,2858.5ZM1017.8,2858.5L1044.6,2857.7L1045.5,2884.8L1018.7,2885.7ZM1099.8,2910.3L1126.6,2909.6L1127.2,2936.6L1100.5,2937.3ZM1260.3,2906.8L1287.1,2906.4L1287.5,2933.4L1260.8,2933.8ZM1287.1,2906.4L1313.9,2906.0L1314.2,2933.1L1287.5,2933.4ZM1154.6,2963.0L1181.2,2962.3L1181.8,2989.3L1155.2,2989.9Z" fill="rgb(10,155,10)" fill-opacity="0.5" stroke="rgb(10,155,10)" stroke-opacity="0.32" stroke-width="0.7" stroke-linejoin="miter"/>
<path d="M598.4,2604.5L625.7,2602.8L627.4,2630.4L600.2,2632.1ZM625.7,2602.8L653.0,2601.1L654.7,2628.7L627.4,2630.4ZM653.0,2601.1L680.3,2599.5L681.9,2627.1L654.7,2628.7ZM680.3,2599.5L707.7,2597.9L709.2,2625.5L681.9,2627.1ZM707.7,2597.9L735.0,2596.4L736.5,2624.0L709.2,2625.5ZM735.0,2596.4L762.3,2594.9L763.7,2622.6L736.5,2624.0ZM762.3,2594.9L789.7,2593.5L791.0,2621.2L763.7,2622.6ZM789.7,2593.5L817.0,2592.2L818.3,2619.8L791.0,2621.2ZM600.2,2632.1L627.4,2630.4L629.1,2658.0L601.9,2659.7ZM627.4,2630.4L654.7,2628.7L656.3,2656.3L629.1,2658.0ZM654.7,2628.7L681.9,2627.1L683.5,2654.7L656.3,2656.3ZM681.9,2627.1L709.2,2625.5L710.7,2653.1L683.5,2654.7ZM818.3,2619.8L845.6,2618.5L846.9,2646.1L819.6,2647.4ZM629.1,2658.0L656.3,2656.3L657.9,2683.8L630.8,2685.4ZM656.3,2656.3L683.5,2654.7L685.1,2682.2L657.9,2683.8ZM683.5,2654.7L710.7,2653.1L712.3,2680.6L685.1,2682.2ZM819.6,2647.4L846.9,2646.1L848.1,2673.7L821.0,2674.9ZM685.1,2682.2L712.3,2680.6L713.8,2708.1L686.7,2709.6ZM821.0,2674.9L848.1,2673.7L849.4,2701.1L822.3,2702.4ZM768.0,2705.1L795.1,2703.8L796.5,2731.2L769.4,2732.6ZM795.1,2703.8L822.3,2702.4L823.6,2729.8L796.5,2731.2ZM822.3,2702.4L849.4,2701.1L850.6,2728.6L823.6,2729.8ZM742.3,2734.0L769.4,2732.6L770.8,2759.9L743.8,2761.4ZM769.4,2732.6L796.5,2731.2L797.8,2758.5L770.8,2759.9ZM796.5,2731.2L823.6,2729.8L824.9,2757.2L797.8,2758.5ZM743.8,2761.4L770.8,2759.9L772.2,2787.2L745.3,2788.7ZM770.8,2759.9L797.8,2758.5L799.2,2785.9L772.2,2787.2ZM797.8,2758.5L824.9,2757.2L826.1,2784.5L799.2,2785.9ZM745.3,2788.7L772.2,2787.2L773.6,2814.5L746.7,2815.9ZM772.2,2787.2L799.2,2785.9L800.5,2813.1L773.6,2814.5ZM799.2,2785.9L826.1,2784.5L827.4,2811.8L800.5,2813.1ZM827.4,2811.8L854.3,2810.6L855.6,2837.8L828.7,2839.0ZM854.3,2810.6L881.3,2809.3L882.4,2836.6L855.6,2837.8ZM1042.9,2803.2L1069.9,2802.4L1070.7,2829.6L1043.8,2830.5ZM1069.9,2802.4L1096.8,2801.6L1097.6,2828.8L1070.7,2829.6ZM882.4,2836.6L909.3,2835.4L910.4,2862.6L883.6,2863.7ZM1070.7,2829.6L1097.6,2828.8L1098.3,2856.0L1071.5,2856.8ZM910.4,2862.6L937.3,2861.5L938.3,2888.6L911.6,2889.7ZM1044.6,2857.7L1071.5,2856.8L1072.3,2884.0L1045.5,2884.8ZM1071.5,2856.8L1098.3,2856.0L1099.1,2883.2L1072.3,2884.0ZM938.3,2888.6L965.1,2887.6L966.1,2914.7L939.4,2915.7ZM965.1,2887.6L991.9,2886.6L992.8,2913.7L966.1,2914.7ZM991.9,2886.6L1018.7,2885.7L1019.6,2912.8L992.8,2913.7ZM1018.7,2885.7L1045.5,2884.8L1046.3,2911.9L1019.6,2912.8ZM1045.5,2884.8L1072.3,2884.0L1073.1,2911.1L1046.3,2911.9ZM1072.3,2884.0L1099.1,2883.2L1099.8,2910.3L1073.1,2911.1ZM966.1,2914.7L992.8,2913.7L993.8,2940.7L967.1,2941.7ZM992.8,2913.7L1019.6,2912.8L1020.5,2939.8L993.8,2940.7Z" fill="rgb(0,205,0)" fill-opacity="0.5" stroke="rgb(0,205,0)" stroke-opacity="0.32" stroke-width="0.7" stroke-linejoin="miter"/>
<path d="M709.2,2625.5L736.5,2624.0L737.9,2651.6L710.7,2653.1ZM736.5,2624.0L763.7,2622.6L765.2,2650.1L737.9,2651.6ZM763.7,2622.6L791.0,2621.2L792.4,2648.7L765.2,2650.1ZM791.0,2621.2L818.3,2619.8L819.6,2647.4L792.4,2648.7ZM601.9,2659.7L629.1,2658.0L630.8,2685.4L603.6,2687.2ZM710.7,2653.1L737.9,2651.6L739.4,2679.1L712.3,2680.6ZM737.9,2651.6L765.2,2650.1L766.6,2677.7L739.4,2679.1ZM765.2,2650.1L792.4,2648.7L793.8,2676.3L766.6,2677.7ZM792.4,2648.7L819.6,2647.4L821.0,2674.9L793.8,2676.3ZM603.6,2687.2L630.8,2685.4L632.5,2712.9L605.4,2714.6ZM630.8,2685.4L657.9,2683.8L659.6,2711.2L632.5,2712.9ZM657.9,2683.8L685.1,2682.2L686.7,2709.6L659.6,2711.2ZM712.3,2680.6L739.4,2679.1L740.9,2706.6L713.8,2708.1ZM739.4,2679.1L766.6,2677.7L768.0,2705.1L740.9,2706.6ZM766.6,2677.7L793.8,2676.3L795.1,2703.8L768.0,2705.1ZM793.8,2676.3L821.0,2674.9L822.3,2702.4L795.1,2703.8ZM659.6,2711.2L686.7,2709.6L688.2,2737.0L661.2,2738.6ZM686.7,2709.6L713.8,2708.1L715.3,2735.5L688.2,2737.0ZM713.8,2708.1L740.9,2706.6L742.3,2734.0L715.3,2735.5ZM740.9,2706.6L768.0,2705.1L769.4,2732.6L742.3,2734.0ZM688.2,2737.0L715.3,2735.5L716.8,2762.8L689.8,2764.4ZM715.3,2735.5L742.3,2734.0L743.8,2761.4L716.8,2762.8ZM689.8,2764.4L716.8,2762.8L718.3,2790.1L691.4,2791.7ZM716.8,2762.8L743.8,2761.4L745.3,2788.7L718.3,2790.1ZM691.4,2791.7L718.3,2790.1L719.8,2817.4L692.9,2818.9ZM718.3,2790.1L745.3,2788.7L746.7,2815.9L719.8,2817.4ZM719.8,2817.4L746.7,2815.9L748.1,2843.1L721.3,2844.6ZM746.7,2815.9L773.6,2814.5L775.0,2841.7L748.1,2843.1ZM773.6,2814.5L800.5,2813.1L801.8,2840.3L775.0,2841.7ZM800.5,2813.1L827.4,2811.8L828.7,2839.0L801.8,2840.3ZM748.1,2843.1L775.0,2841.7L776.4,2868.9L749.6,2870.3ZM775.0,2841.7L801.8,2840.3L803.2,2867.5L776.4,2868.9ZM801.8,2840.3L828.7,2839.0L830.0,2866.2L803.2,2867.5ZM828.7,2839.0L855.6,2837.8L856.8,2864.9L830.0,2866.2ZM855.6,2837.8L882.4,2836.6L883.6,2863.7L856.8,2864.9ZM1043.8,2830.5L1070.7,2829.6L1071.5,2856.8L1044.6,2857.7ZM883.6,2863.7L910.4,2862.6L911.6,2889.7L884.8,2890.9ZM911.6,2889.7L938.3,2888.6L939.4,2915.7L912.7,2916.8ZM912.7,2916.8L939.4,2915.7L940.4,2942.7L913.8,2943.8ZM939.4,2915.7L966.1,2914.7L967.1,2941.7L940.4,2942.7ZM1019.6,2912.8L1046.3,2911.9L1047.2,2938.9L1020.5,2939.8ZM1046.3,2911.9L1073.1,2911.1L1073.9,2938.1L1047.2,2938.9ZM1073.1,2911.1L1099.8,2910.3L1100.5,2937.3L1073.9,2938.1ZM913.8,2943.8L940.4,2942.7L941.5,2969.7L914.9,2970.8ZM940.4,2942.7L967.1,2941.7L968.1,2968.7L941.5,2969.7ZM967.1,2941.7L993.8,2940.7L994.7,2967.7L968.1,2968.7ZM993.8,2940.7L1020.5,2939.8L1021.4,2966.8L994.7,2967.7ZM1020.5,2939.8L1047.2,2938.9L1048.0,2965.9L1021.4,2966.8ZM1047.2,2938.9L1073.9,2938.1L1074.6,2965.1L1048.0,2965.9ZM1073.9,2938.1L1100.5,2937.3L1101.3,2964.3L1074.6,2965.1ZM1100.5,2937.3L1127.2,2936.6L1127.9,2963.6L1101.3,2964.3ZM914.9,2970.8L941.5,2969.7L942.5,2996.6L916.0,2997.7ZM941.5,2969.7L968.1,2968.7L969.1,2995.6L942.5,2996.6ZM968.1,2968.7L994.7,2967.7L995.7,2994.6L969.1,2995.6ZM994.7,2967.7L1021.4,2966.8L1022.3,2993.7L995.7,2994.6ZM1127.9,2963.6L1154.6,2963.0L1155.2,2989.9L1128.6,2990.6Z" fill="rgb(0,255,100)" fill-opacity="0.5" stroke="rgb(0,255,100)" stroke-opacity="0.32" stroke-width="0.7" stroke-linejoin="miter"/>
<path d="M605.4,2714.6L632.5,2712.9L634.1,2740.3L607.1,2742.0ZM632.5,2712.9L659.6,2711.2L661.2,2738.6L634.1,2740.3ZM607.1,2742.0L634.1,2740.3L635.8,2767.6L608.8,2769.3ZM634.1,2740.3L661.2,2738.6L662.8,2766.0L635.8,2767.6ZM661.2,2738.6L688.2,2737.0L689.8,2764.4L662.8,2766.0ZM662.8,2766.0L689.8,2764.4L691.4,2791.7L664.4,2793.3ZM664.4,2793.3L691.4,2791.7L692.9,2818.9L666.0,2820.5ZM666.0,2820.5L692.9,2818.9L694.4,2846.1L667.6,2847.7ZM692.9,2818.9L719.8,2817.4L721.3,2844.6L694.4,2846.1ZM694.4,2846.1L721.3,2844.6L722.8,2871.7L696.0,2873.2ZM721.3,2844.6L748.1,2843.1L749.6,2870.3L722.8,2871.7ZM722.8,2871.7L749.6,2870.3L751.0,2897.4L724.3,2898.8ZM749.6,2870.3L776.4,2868.9L777.7,2895.9L751.0,2897.4ZM776.4,2868.9L803.2,2867.5L804.5,2894.6L777.7,2895.9ZM803.2,2867.5L830.0,2866.2L831.3,2893.3L804.5,2894.6ZM830.0,2866.2L856.8,2864.9L858.0,2892.1L831.3,2893.3ZM856.8,2864.9L883.6,2863.7L884.8,2890.9L858.0,2892.1ZM804.5,2894.6L831.3,2893.3L832.5,2920.4L805.8,2921.7ZM831.3,2893.3L858.0,2892.1L859.2,2919.1L832.5,2920.4ZM858.0,2892.1L884.8,2890.9L885.9,2917.9L859.2,2919.1ZM884.8,2890.9L911.6,2889.7L912.7,2916.8L885.9,2917.9ZM805.8,2921.7L832.5,2920.4L833.8,2947.4L807.1,2948.7ZM832.5,2920.4L859.2,2919.1L860.4,2946.1L833.8,2947.4ZM859.2,2919.1L885.9,2917.9L887.1,2944.9L860.4,2946.1ZM885.9,2917.9L912.7,2916.8L913.8,2943.8L887.1,2944.9ZM833.8,2947.4L860.4,2946.1L861.6,2973.1L835.0,2974.3ZM860.4,2946.1L887.1,2944.9L888.3,2971.9L861.6,2973.1ZM887.1,2944.9L913.8,2943.8L914.9,2970.8L888.3,2971.9ZM861.6,2973.1L888.3,2971.9L889.4,2998.8L862.8,3000.0ZM888.3,2971.9L914.9,2970.8L916.0,2997.7L889.4,2998.8ZM1021.4,2966.8L1048.0,2965.9L1048.8,2992.8L1022.3,2993.7ZM1048.0,2965.9L1074.6,2965.1L1075.4,2992.0L1048.8,2992.8ZM1074.6,2965.1L1101.3,2964.3L1102.0,2991.3L1075.4,2992.0ZM1101.3,2964.3L1127.9,2963.6L1128.6,2990.6L1102.0,2991.3Z" fill="rgb(45,45,255)" fill-opacity="0.5" stroke="rgb(45,45,255)" stroke-opacity="0.32" stroke-width="0.7" stroke-linejoin="miter"/>
<path d="M608.8,2769.3L635.8,2767.6L637.5,2794.9L610.6,2796.6ZM635.8,2767.6L662.8,2766.0L664.4,2793.3L637.5,2794.9ZM610.6,2796.6L637.5,2794.9L639.1,2822.1L612.3,2823.8ZM637.5,2794.9L664.4,2793.3L666.0,2820.5L639.1,2822.1ZM612.3,2823.8L639.1,2822.1L640.8,2849.3L614.0,2851.0ZM639.1,2822.1L666.0,2820.5L667.6,2847.7L640.8,2849.3ZM614.0,2851.0L640.8,2849.3L642.4,2876.4L615.7,2878.1ZM640.8,2849.3L667.6,2847.7L669.2,2874.8L642.4,2876.4ZM667.6,2847.7L694.4,2846.1L696.0,2873.2L669.2,2874.8ZM615.7,2878.1L642.4,2876.4L644.1,2903.5L617.3,2905.2ZM642.4,2876.4L669.2,2874.8L670.8,2901.9L644.1,2903.5ZM669.2,2874.8L696.0,2873.2L697.5,2900.3L670.8,2901.9ZM696.0,2873.2L722.8,2871.7L724.3,2898.8L697.5,2900.3ZM697.5,2900.3L724.3,2898.8L725.7,2925.8L699.0,2927.3ZM724.3,2898.8L751.0,2897.4L752.4,2924.4L725.7,2925.8ZM751.0,2897.4L777.7,2895.9L779.1,2923.0L752.4,2924.4ZM777.7,2895.9L804.5,2894.6L805.8,2921.7L779.1,2923.0ZM725.7,2925.8L752.4,2924.4L753.8,2951.4L727.2,2952.8ZM752.4,2924.4L779.1,2923.0L780.5,2950.0L753.8,2951.4ZM779.1,2923.0L805.8,2921.7L807.1,2948.7L780.5,2950.0ZM753.8,2951.4L780.5,2950.0L781.8,2976.9L755.2,2978.3ZM780.5,2950.0L807.1,2948.7L808.4,2975.6L781.8,2976.9ZM807.1,2948.7L833.8,2947.4L835.0,2974.3L808.4,2975.6ZM728.7,2979.8L755.2,2978.3L756.7,3005.2L730.1,3006.6ZM755.2,2978.3L781.8,2976.9L783.2,3003.8L756.7,3005.2ZM781.8,2976.9L808.4,2975.6L809.7,3002.5L783.2,3003.8ZM808.4,2975.6L835.0,2974.3L836.3,3001.2L809.7,3002.5ZM835.0,2974.3L861.6,2973.1L862.8,3000.0L836.3,3001.2Z" fill="rgb(0,145,255)" fill-opacity="0.5" stroke="rgb(0,145,255)" stroke-opacity="0.32" stroke-width="0.7" stroke-linejoin="miter"/>
<path d="M617.3,2905.2L644.1,2903.5L645.7,2930.5L619.0,2932.2ZM644.1,2903.5L670.8,2901.9L672.4,2928.9L645.7,2930.5ZM670.8,2901.9L697.5,2900.3L699.0,2927.3L672.4,2928.9ZM619.0,2932.2L645.7,2930.5L647.3,2957.5L620.7,2959.1ZM645.7,2930.5L672.4,2928.9L673.9,2955.9L647.3,2957.5ZM672.4,2928.9L699.0,2927.3L700.6,2954.3L673.9,2955.9ZM699.0,2927.3L725.7,2925.8L727.2,2952.8L700.6,2954.3ZM620.7,2959.1L647.3,2957.5L648.9,2984.4L622.4,2986.0ZM647.3,2957.5L673.9,2955.9L675.5,2982.8L648.9,2984.4ZM673.9,2955.9L700.6,2954.3L702.1,2981.3L675.5,2982.8ZM700.6,2954.3L727.2,2952.8L728.7,2979.8L702.1,2981.3ZM727.2,2952.8L753.8,2951.4L755.2,2978.3L728.7,2979.8ZM622.4,2986.0L648.9,2984.4L650.5,3011.3L624.0,3012.9ZM648.9,2984.4L675.5,2982.8L677.1,3009.7L650.5,3011.3ZM675.5,2982.8L702.1,2981.3L703.6,3008.1L677.1,3009.7ZM702.1,2981.3L728.7,2979.8L730.1,3006.6L703.6,3008.1Z" fill="rgb(160,205,255)" fill-opacity="0.5" stroke="rgb(160,205,255)" stroke-opacity="0" stroke-width="0" stroke-linejoin="miter"/>
</g>
<circle cx="547" cy="2212" r="3.8" fill="#333"/>
<circle cx="607.7" cy="2212.3" r="3.8" fill="#333"/>
<circle cx="565.6" cy="2251.8" r="3.8" fill="#333"/>
<circle cx="636.6" cy="2252.8" r="3.8" fill="#333"/>
<circle cx="540.3" cy="2304.6" r="3.8" fill="#333"/>
<circle cx="607.4" cy="2388.5" r="3.8" fill="#333"/>
<circle cx="605.7" cy="2445.6" r="3.8" fill="#333"/>
<circle cx="641.2" cy="2485" r="3.8" fill="#333"/>
<circle cx="1383" cy="2364.4" r="3.8" fill="#333"/>
<text x="500.2" y="2196.4" font-size="19" font-weight="bold" fill="#3c3c3c">St. Andrews</text>
<text x="624" y="2219.6" font-size="19" font-weight="bold" fill="#3c3c3c">St. Clements</text>
<text x="556.6" y="2235.6" font-size="19" font-weight="bold" fill="#3c3c3c">Selkirk</text>
<text x="623" y="2248.8" font-size="19" font-weight="bold" fill="#3c3c3c">Brokenhead</text>
<text x="504.5" y="2297.6" font-size="19" font-weight="bold" fill="#3c3c3c">East St. Paul</text>
<text x="611.3" y="2381.2" font-size="19" font-weight="bold" fill="#3c3c3c">Tache</text>
<text x="570.2" y="2438.6" font-size="19" font-weight="bold" fill="#3c3c3c">Steinbach</text>
<text x="605.7" y="2477.4" font-size="19" font-weight="bold" fill="#3c3c3c">La Broquerie</text>
<text x="1386.5" y="2382.2" font-size="19" font-weight="bold" fill="#3c3c3c">Dryden</text>
<circle cx="1267.7" cy="2725.5" r="3.8" fill="#333"/>
<text x="1233.5" y="2741.7" font-size="19" font-weight="bold" fill="#3c3c3c">Fort Frances</text>
<circle cx="1059.2" cy="2355.5" r="5.6" fill="#fff" stroke="#111" stroke-width="3"/>
<text x="1062" y="2339.5" font-size="25.4" font-weight="bold" fill="#111">Kenora</text>
<rect x="490" y="1588.8" width="1062.6" height="1487.8" fill="none" stroke="#000" stroke-width="2.4"/>
<text x="478.4" y="3008.0" font-size="18.4" text-anchor="end">+47.7°</text>
<text x="478.4" y="2551.3" font-size="18.4" text-anchor="end">+49.2°</text>
<text x="478.4" y="2080.5" font-size="18.4" text-anchor="end">+50.7°</text>
<text x="542.0" y="3112.1" font-size="18.4" text-anchor="middle">-97°</text>
<text x="865.1" y="3112.1" font-size="18.4" text-anchor="middle">-95.4°</text>
<text x="1188.2" y="3112.1" font-size="18.4" text-anchor="middle">-93.8°</text>
<text x="1511.3" y="3112.1" font-size="18.4" text-anchor="middle">-92.2°</text>
<text x="1893.8" y="1762.3" font-size="33.3" font-weight="bold">Précipitations</text>
<text x="1894" y="1809" font-size="29.1">Précipitations en kg/m2</text>
<text x="1971.4" y="1853.5" font-size="28">0.00 - 0.10</text>
<text x="1971.4" y="1893.9" font-size="28">0.10 - 0.50</text>
<rect x="1896.0" y="1878.6" width="12.4" height="11.2" fill="rgb(160,205,255)" fill-opacity="0.56"/>
<rect x="1909.1" y="1878.6" width="12.4" height="11.2" fill="rgb(160,205,255)" fill-opacity="0.56"/>
<rect x="1922.2" y="1878.6" width="12.4" height="11.2" fill="rgb(160,205,255)" fill-opacity="0.56"/>
<rect x="1935.3" y="1878.6" width="12.4" height="11.2" fill="rgb(160,205,255)" fill-opacity="0.56"/>
<text x="1971.4" y="1934.4" font-size="28">0.50 - 1.00</text>
<rect x="1896.0" y="1919.1" width="12.4" height="11.2" fill="rgb(0,145,255)" fill-opacity="0.56"/>
<rect x="1909.1" y="1919.1" width="12.4" height="11.2" fill="rgb(0,145,255)" fill-opacity="0.56"/>
<rect x="1922.2" y="1919.1" width="12.4" height="11.2" fill="rgb(0,145,255)" fill-opacity="0.56"/>
<rect x="1935.3" y="1919.1" width="12.4" height="11.2" fill="rgb(0,145,255)" fill-opacity="0.56"/>
<text x="1971.4" y="1974.8" font-size="28">1.00 - 2.50</text>
<rect x="1896.0" y="1959.5" width="12.4" height="11.2" fill="rgb(45,45,255)" fill-opacity="0.56"/>
<rect x="1909.1" y="1959.5" width="12.4" height="11.2" fill="rgb(45,45,255)" fill-opacity="0.56"/>
<rect x="1922.2" y="1959.5" width="12.4" height="11.2" fill="rgb(45,45,255)" fill-opacity="0.56"/>
<rect x="1935.3" y="1959.5" width="12.4" height="11.2" fill="rgb(45,45,255)" fill-opacity="0.56"/>
<text x="1971.4" y="2015.2" font-size="28">2.50 - 5.00</text>
<rect x="1896.0" y="1999.9" width="12.4" height="11.2" fill="rgb(0,255,100)" fill-opacity="0.56"/>
<rect x="1909.1" y="1999.9" width="12.4" height="11.2" fill="rgb(0,255,100)" fill-opacity="0.56"/>
<rect x="1922.2" y="1999.9" width="12.4" height="11.2" fill="rgb(0,255,100)" fill-opacity="0.56"/>
<rect x="1935.3" y="1999.9" width="12.4" height="11.2" fill="rgb(0,255,100)" fill-opacity="0.56"/>
<text x="1971.4" y="2055.7" font-size="28">5.00 - 7.50</text>
<rect x="1896.0" y="2040.4" width="12.4" height="11.2" fill="rgb(0,205,0)" fill-opacity="0.56"/>
<rect x="1909.1" y="2040.4" width="12.4" height="11.2" fill="rgb(0,205,0)" fill-opacity="0.56"/>
<rect x="1922.2" y="2040.4" width="12.4" height="11.2" fill="rgb(0,205,0)" fill-opacity="0.56"/>
<rect x="1935.3" y="2040.4" width="12.4" height="11.2" fill="rgb(0,205,0)" fill-opacity="0.56"/>
<text x="1971.4" y="2096.1" font-size="28">7.50 - 10.00</text>
<rect x="1896.0" y="2080.8" width="12.4" height="11.2" fill="rgb(10,155,10)" fill-opacity="0.56"/>
<rect x="1909.1" y="2080.8" width="12.4" height="11.2" fill="rgb(10,155,10)" fill-opacity="0.56"/>
<rect x="1922.2" y="2080.8" width="12.4" height="11.2" fill="rgb(10,155,10)" fill-opacity="0.56"/>
<rect x="1935.3" y="2080.8" width="12.4" height="11.2" fill="rgb(10,155,10)" fill-opacity="0.56"/>
<text x="1971.4" y="2136.5" font-size="28">10.00 - 15.00</text>
<rect x="1896.0" y="2121.2" width="12.4" height="11.2" fill="rgb(5,105,5)" fill-opacity="0.56"/>
<rect x="1909.1" y="2121.2" width="12.4" height="11.2" fill="rgb(5,105,5)" fill-opacity="0.56"/>
<rect x="1922.2" y="2121.2" width="12.4" height="11.2" fill="rgb(5,105,5)" fill-opacity="0.56"/>
<rect x="1935.3" y="2121.2" width="12.4" height="11.2" fill="rgb(5,105,5)" fill-opacity="0.56"/>
<text x="1971.4" y="2176.9" font-size="28">15.00 - 20.00</text>
<rect x="1896.0" y="2161.6" width="12.4" height="11.2" fill="rgb(255,255,40)" fill-opacity="0.56"/>
<rect x="1909.1" y="2161.6" width="12.4" height="11.2" fill="rgb(255,255,40)" fill-opacity="0.56"/>
<rect x="1922.2" y="2161.6" width="12.4" height="11.2" fill="rgb(255,255,40)" fill-opacity="0.56"/>
<rect x="1935.3" y="2161.6" width="12.4" height="11.2" fill="rgb(255,255,40)" fill-opacity="0.56"/>
<text x="1971.4" y="2217.4" font-size="28">20.00 - 25.00</text>
<rect x="1896.0" y="2202.1" width="12.4" height="11.2" fill="rgb(255,205,0)" fill-opacity="0.56"/>
<rect x="1909.1" y="2202.1" width="12.4" height="11.2" fill="rgb(255,205,0)" fill-opacity="0.56"/>
<rect x="1922.2" y="2202.1" width="12.4" height="11.2" fill="rgb(255,205,0)" fill-opacity="0.56"/>
<rect x="1935.3" y="2202.1" width="12.4" height="11.2" fill="rgb(255,205,0)" fill-opacity="0.56"/>
<text x="1971.4" y="2257.8" font-size="28">25.00 - 30.00</text>
<rect x="1896.0" y="2242.5" width="12.4" height="11.2" fill="rgb(255,150,0)" fill-opacity="0.56"/>
<rect x="1909.1" y="2242.5" width="12.4" height="11.2" fill="rgb(255,150,0)" fill-opacity="0.56"/>
<rect x="1922.2" y="2242.5" width="12.4" height="11.2" fill="rgb(255,150,0)" fill-opacity="0.56"/>
<rect x="1935.3" y="2242.5" width="12.4" height="11.2" fill="rgb(255,150,0)" fill-opacity="0.56"/>
<text x="1971.4" y="2298.2" font-size="28">30.00 - 40.00</text>
<rect x="1896.0" y="2282.9" width="12.4" height="11.2" fill="rgb(255,100,0)" fill-opacity="0.56"/>
<rect x="1909.1" y="2282.9" width="12.4" height="11.2" fill="rgb(255,100,0)" fill-opacity="0.56"/>
<rect x="1922.2" y="2282.9" width="12.4" height="11.2" fill="rgb(255,100,0)" fill-opacity="0.56"/>
<rect x="1935.3" y="2282.9" width="12.4" height="11.2" fill="rgb(255,100,0)" fill-opacity="0.56"/>
<text x="1971.4" y="2338.7" font-size="28">40.00 - 50.00</text>
<rect x="1896.0" y="2323.4" width="12.4" height="11.2" fill="rgb(255,0,0)" fill-opacity="0.56"/>
<rect x="1909.1" y="2323.4" width="12.4" height="11.2" fill="rgb(255,0,0)" fill-opacity="0.56"/>
<rect x="1922.2" y="2323.4" width="12.4" height="11.2" fill="rgb(255,0,0)" fill-opacity="0.56"/>
<rect x="1935.3" y="2323.4" width="12.4" height="11.2" fill="rgb(255,0,0)" fill-opacity="0.56"/>
<text x="1971.4" y="2379.1" font-size="28">50.00 - 75.00</text>
<rect x="1896.0" y="2363.8" width="12.4" height="11.2" fill="rgb(255,0,150)" fill-opacity="0.56"/>
<rect x="1909.1" y="2363.8" width="12.4" height="11.2" fill="rgb(255,0,150)" fill-opacity="0.56"/>
<rect x="1922.2" y="2363.8" width="12.4" height="11.2" fill="rgb(255,0,150)" fill-opacity="0.56"/>
<rect x="1935.3" y="2363.8" width="12.4" height="11.2" fill="rgb(255,0,150)" fill-opacity="0.56"/>
<text x="1971.4" y="2419.5" font-size="28">75.00 - 100.00</text>
<rect x="1896.0" y="2404.2" width="12.4" height="11.2" fill="rgb(160,60,205)" fill-opacity="0.56"/>
<rect x="1909.1" y="2404.2" width="12.4" height="11.2" fill="rgb(160,60,205)" fill-opacity="0.56"/>
<rect x="1922.2" y="2404.2" width="12.4" height="11.2" fill="rgb(160,60,205)" fill-opacity="0.56"/>
<rect x="1935.3" y="2404.2" width="12.4" height="11.2" fill="rgb(160,60,205)" fill-opacity="0.56"/>
<text x="1971.4" y="2459.9" font-size="28">100.00 - 150.00</text>
<rect x="1896.0" y="2444.6" width="12.4" height="11.2" fill="rgb(100,5,155)" fill-opacity="0.56"/>
<rect x="1909.1" y="2444.6" width="12.4" height="11.2" fill="rgb(100,5,155)" fill-opacity="0.56"/>
<rect x="1922.2" y="2444.6" width="12.4" height="11.2" fill="rgb(100,5,155)" fill-opacity="0.56"/>
<rect x="1935.3" y="2444.6" width="12.4" height="11.2" fill="rgb(100,5,155)" fill-opacity="0.56"/>
<text x="1971.4" y="2500.4" font-size="28">150.00 - 250.00</text>
<rect x="1896.0" y="2485.1" width="12.4" height="11.2" fill="rgb(150,150,150)" fill-opacity="0.56"/>
<rect x="1909.1" y="2485.1" width="12.4" height="11.2" fill="rgb(150,150,150)" fill-opacity="0.56"/>
<rect x="1922.2" y="2485.1" width="12.4" height="11.2" fill="rgb(150,150,150)" fill-opacity="0.56"/>
<rect x="1935.3" y="2485.1" width="12.4" height="11.2" fill="rgb(150,150,150)" fill-opacity="0.56"/>
<text x="1894.8" y="2573.6" font-size="33.3" font-weight="bold">Localité</text>
<circle cx="1920.8" cy="2611.4" r="6" fill="#fff" stroke="#1a1a1a" stroke-width="3"/>
<text x="1969.8" y="2621.6" font-size="29.1">Localité inondée</text>
<circle cx="1920.8" cy="2650.3" r="5.7" fill="#444"/>
<text x="1969.8" y="2660.4" font-size="29.1">Localité de référence</text>
<text x="1893.8" y="2780.3" font-size="33.3" font-weight="bold">Notes</text>
<text x="1893" y="2834.3" font-size="22.4" font-weight="bold" class="notes">Les données de précipitations proviennent</text>
<text x="1893" y="2869.4" font-size="22.4" font-weight="bold" class="notes">de l'Analyse régionale déterministe de</text>
<text x="1893" y="2904.4" font-size="22.4" font-weight="bold" class="notes">précipitation fondée sur le Système</text>
<text x="1893" y="2939.5" font-size="22.4" font-weight="bold" class="notes">Canadien d'Analyse de Précipitation</text>
<text x="1893" y="2974.5" font-size="22.4" font-weight="bold" class="notes">(CaPA-ARDP) d'Environnement et</text>
<text x="1893" y="3009.6" font-size="22.4" font-weight="bold" class="notes">Changement climatique Canada.</text>
<text x="1893" y="3079.7" font-size="22.4" font-weight="bold" class="notes">L'unité de la grille est 10 km.</text>
<rect x="75" y="3129.7" width="2400" height="94.8" rx="7" fill="#0c7575"/>
<rect x="147.2" y="3158" width="19" height="37.5" fill="#fff"/>
<rect x="206.5" y="3158" width="19" height="37.5" fill="#fff"/>
<path d="M0,-16 L3,-10 L6.5,-11.5 L5,-3 L9,-7 L10,-4.5 L15,-5.5 L13,0 L15.5,1.5 L8,7.5 L9,10.5 L1,9.5 L1,16 L-1,16 L-1,9.5 L-9,10.5 L-8,7.5 L-15.5,1.5 L-13,0 L-15,-5.5 L-10,-4.5 L-9,-7 L-5,-3 L-6.5,-11.5 L-3,-10 Z" transform="translate(186.4,3176.8)" fill="#fff"/>
<text x="256" y="3173.9" font-size="21.6" fill="#fff">Government</text>
<text x="256" y="3195.5" font-size="21.6" fill="#fff">of Canada</text>
<text x="406.2" y="3173.9" font-size="21.6" fill="#fff">Gouvernement</text>
<text x="406.2" y="3195.5" font-size="21.6" fill="#fff">du Canada</text>
<text x="2180" y="3203.4" font-size="73.6" fill="#fff" stroke="#fff" stroke-width="1.3" font-family="'Liberation Serif', serif">Canada</text>
<rect x="2370.6" y="3153.3" width="6" height="15.5" fill="#fff"/>
<rect x="2395.5" y="3153.3" width="6.5" height="15.5" fill="#fff"/>
<path d="M0,-16 L3,-10 L6.5,-11.5 L5,-3 L9,-7 L10,-4.5 L15,-5.5 L13,0 L15.5,1.5 L8,7.5 L9,10.5 L1,9.5 L1,16 L-1,16 L-1,9.5 L-9,10.5 L-8,7.5 L-15.5,1.5 L-13,0 L-15,-5.5 L-10,-4.5 L-9,-7 L-5,-3 L-6.5,-11.5 L-3,-10 Z" transform="translate(2386.2,3161.3) scale(0.42)" fill="#fff"/>
</svg>
</body></html>
